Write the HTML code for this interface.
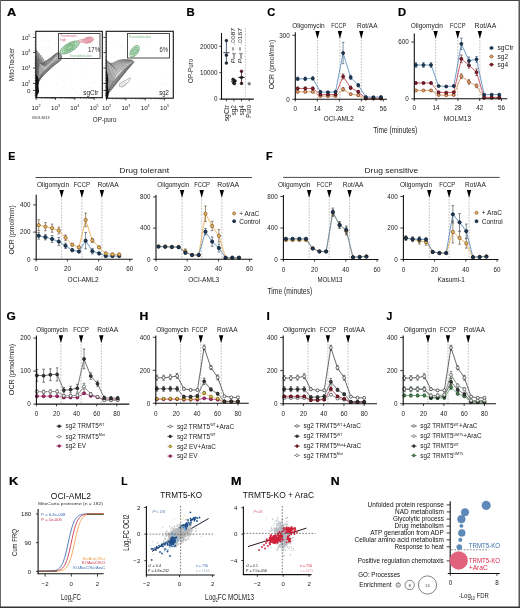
<!DOCTYPE html>
<html><head><meta charset="utf-8"><style>
html,body{margin:0;padding:0;background:#fff;}
svg{display:block;}
#fig{filter:blur(0.35px);}
#bd{position:absolute;left:0;top:0;}
text{font-family:"Liberation Sans", sans-serif;}
</style></head><body>
<svg id="fig" width="520" height="608" viewBox="0 0 520 608">
<rect x="0" y="0" width="520" height="608" fill="#fff"/>
<text x="7.1" y="15.9" font-size="10.5" font-weight="bold" fill="#000" stroke="#000" stroke-width="0.2" textLength="9.2" lengthAdjust="spacingAndGlyphs">A</text>
<text x="186.5" y="16.2" font-size="10.5" font-weight="bold" fill="#000" stroke="#000" stroke-width="0.2" textLength="8.2" lengthAdjust="spacingAndGlyphs">B</text>
<text x="267.3" y="16.2" font-size="10.5" font-weight="bold" fill="#000" stroke="#000" stroke-width="0.2" textLength="8.0" lengthAdjust="spacingAndGlyphs">C</text>
<text x="398.1" y="16.2" font-size="10.5" font-weight="bold" fill="#000" stroke="#000" stroke-width="0.2" textLength="8.1" lengthAdjust="spacingAndGlyphs">D</text>
<text x="8.3" y="159.6" font-size="10.5" font-weight="bold" fill="#000" stroke="#000" stroke-width="0.2" textLength="7.1" lengthAdjust="spacingAndGlyphs">E</text>
<text x="266.1" y="159.6" font-size="10.5" font-weight="bold" fill="#000" stroke="#000" stroke-width="0.2" textLength="6.6" lengthAdjust="spacingAndGlyphs">F</text>
<text x="6.5" y="320.2" font-size="10.5" font-weight="bold" fill="#000" stroke="#000" stroke-width="0.2" textLength="9.3" lengthAdjust="spacingAndGlyphs">G</text>
<text x="139.6" y="320.2" font-size="10.5" font-weight="bold" fill="#000" stroke="#000" stroke-width="0.2" textLength="8.8" lengthAdjust="spacingAndGlyphs">H</text>
<text x="266.6" y="320.2" font-size="10.5" font-weight="bold" fill="#000" stroke="#000" stroke-width="0.2" textLength="3.3" lengthAdjust="spacingAndGlyphs">I</text>
<text x="386.6" y="320.2" font-size="10.5" font-weight="bold" fill="#000" stroke="#000" stroke-width="0.2" textLength="5.8" lengthAdjust="spacingAndGlyphs">J</text>
<text x="9.1" y="484.5" font-size="10.5" font-weight="bold" fill="#000" stroke="#000" stroke-width="0.2" textLength="9.3" lengthAdjust="spacingAndGlyphs">K</text>
<text x="121.2" y="484.5" font-size="10.5" font-weight="bold" fill="#000" stroke="#000" stroke-width="0.2" textLength="6.2" lengthAdjust="spacingAndGlyphs">L</text>
<text x="231.1" y="484.5" font-size="10.5" font-weight="bold" fill="#000" stroke="#000" stroke-width="0.2" textLength="10.5" lengthAdjust="spacingAndGlyphs">M</text>
<text x="330.8" y="484.8" font-size="10.5" font-weight="bold" fill="#000" stroke="#000" stroke-width="0.2" textLength="8.9" lengthAdjust="spacingAndGlyphs">N</text>
<clipPath id="clipa1"><rect x="35.8" y="31.3" width="66.5" height="66.4"/></clipPath>
<g clip-path="url(#clipa1)">
<circle cx="58.04" cy="42.71" r="0.35" fill="#cfcfcf"/>
<circle cx="78.48" cy="37.82" r="0.35" fill="#cfcfcf"/>
<circle cx="71.29" cy="56.12" r="0.35" fill="#cfcfcf"/>
<circle cx="41.42" cy="64.96" r="0.35" fill="#cfcfcf"/>
<circle cx="40.14" cy="60.36" r="0.35" fill="#cfcfcf"/>
<circle cx="42.17" cy="38.96" r="0.35" fill="#cfcfcf"/>
<circle cx="64.33" cy="84.90" r="0.35" fill="#cfcfcf"/>
<circle cx="45.54" cy="47.23" r="0.35" fill="#cfcfcf"/>
<circle cx="77.01" cy="92.44" r="0.35" fill="#cfcfcf"/>
<circle cx="73.87" cy="58.05" r="0.35" fill="#cfcfcf"/>
<circle cx="98.82" cy="36.21" r="0.35" fill="#cfcfcf"/>
<circle cx="91.45" cy="51.37" r="0.35" fill="#cfcfcf"/>
<circle cx="46.82" cy="40.65" r="0.35" fill="#cfcfcf"/>
<circle cx="57.08" cy="84.23" r="0.35" fill="#cfcfcf"/>
<circle cx="49.10" cy="69.59" r="0.35" fill="#cfcfcf"/>
<circle cx="77.73" cy="56.54" r="0.35" fill="#cfcfcf"/>
<circle cx="72.03" cy="37.22" r="0.35" fill="#cfcfcf"/>
<circle cx="41.53" cy="46.15" r="0.35" fill="#cfcfcf"/>
<circle cx="80.32" cy="59.98" r="0.35" fill="#cfcfcf"/>
<circle cx="57.43" cy="69.84" r="0.35" fill="#cfcfcf"/>
<circle cx="66.12" cy="52.01" r="0.35" fill="#cfcfcf"/>
<circle cx="87.45" cy="76.92" r="0.35" fill="#cfcfcf"/>
<circle cx="53.06" cy="69.14" r="0.35" fill="#cfcfcf"/>
<circle cx="70.62" cy="87.91" r="0.35" fill="#cfcfcf"/>
<circle cx="83.39" cy="51.27" r="0.35" fill="#cfcfcf"/>
<circle cx="99.06" cy="40.67" r="0.35" fill="#cfcfcf"/>
<circle cx="63.93" cy="80.55" r="0.35" fill="#cfcfcf"/>
<circle cx="47.30" cy="63.81" r="0.35" fill="#cfcfcf"/>
<circle cx="40.25" cy="75.00" r="0.35" fill="#cfcfcf"/>
<circle cx="85.59" cy="69.06" r="0.35" fill="#cfcfcf"/>
<circle cx="92.52" cy="52.88" r="0.35" fill="#cfcfcf"/>
<circle cx="81.26" cy="70.39" r="0.35" fill="#cfcfcf"/>
<circle cx="74.04" cy="61.77" r="0.35" fill="#cfcfcf"/>
<circle cx="90.30" cy="92.25" r="0.35" fill="#cfcfcf"/>
<circle cx="67.43" cy="74.74" r="0.35" fill="#cfcfcf"/>
<circle cx="41.59" cy="77.07" r="0.35" fill="#cfcfcf"/>
<circle cx="78.25" cy="95.27" r="0.35" fill="#cfcfcf"/>
<circle cx="89.17" cy="51.06" r="0.35" fill="#cfcfcf"/>
<circle cx="61.91" cy="75.02" r="0.35" fill="#cfcfcf"/>
<circle cx="39.21" cy="62.11" r="0.35" fill="#cfcfcf"/>
<circle cx="48.30" cy="40.61" r="0.35" fill="#cfcfcf"/>
<circle cx="41.48" cy="81.24" r="0.35" fill="#cfcfcf"/>
<circle cx="45.88" cy="48.75" r="0.35" fill="#cfcfcf"/>
<circle cx="62.23" cy="87.68" r="0.35" fill="#cfcfcf"/>
<circle cx="42.84" cy="61.33" r="0.35" fill="#cfcfcf"/>
<circle cx="72.14" cy="88.42" r="0.35" fill="#cfcfcf"/>
<circle cx="89.00" cy="87.21" r="0.35" fill="#cfcfcf"/>
<circle cx="55.20" cy="59.21" r="0.35" fill="#cfcfcf"/>
<circle cx="60.22" cy="88.47" r="0.35" fill="#cfcfcf"/>
<circle cx="97.66" cy="42.72" r="0.35" fill="#cfcfcf"/>
<circle cx="48.81" cy="47.77" r="0.35" fill="#cfcfcf"/>
<circle cx="52.38" cy="63.56" r="0.35" fill="#cfcfcf"/>
<circle cx="74.62" cy="49.70" r="0.35" fill="#cfcfcf"/>
<circle cx="38.06" cy="59.44" r="0.35" fill="#cfcfcf"/>
<circle cx="60.88" cy="68.64" r="0.35" fill="#cfcfcf"/>
<circle cx="97.37" cy="76.39" r="0.35" fill="#cfcfcf"/>
<circle cx="70.02" cy="71.84" r="0.35" fill="#cfcfcf"/>
<circle cx="80.06" cy="36.67" r="0.35" fill="#cfcfcf"/>
<circle cx="94.02" cy="81.97" r="0.35" fill="#cfcfcf"/>
<circle cx="92.46" cy="83.09" r="0.35" fill="#cfcfcf"/>
<path d="M35.50,51.50 C35.83,45.92 37.12,54.83 37.80,56.50 C38.48,58.17 39.03,60.32 39.60,61.50 C40.17,62.68 40.30,63.60 41.20,63.60 C42.10,63.60 43.53,62.38 45.00,61.50 C46.47,60.62 48.50,59.38 50.00,58.30 C51.50,57.22 52.75,55.92 54.00,55.00 C55.25,54.08 56.45,53.03 57.50,52.80 C58.55,52.57 59.62,52.90 60.30,53.60 C60.98,54.30 61.52,55.90 61.60,57.00 C61.68,58.10 61.57,59.17 60.80,60.20 C60.03,61.23 58.47,62.03 57.00,63.20 C55.53,64.37 53.67,65.77 52.00,67.20 C50.33,68.63 48.67,70.17 47.00,71.80 C45.33,73.43 43.37,75.38 42.00,77.00 C40.63,78.62 39.63,80.00 38.80,81.50 C37.97,83.00 37.50,84.58 37.00,86.00 C36.50,87.42 36.05,95.75 35.80,90.00 C35.55,84.25 35.17,57.08 35.50,51.50 Z" stroke="none" stroke-width="0" fill="rgba(120,120,120,0.3)"/>
<path d="M35.50,51.50 C35.83,45.92 37.12,54.83 37.80,56.50 C38.48,58.17 39.03,60.32 39.60,61.50 C40.17,62.68 40.30,63.60 41.20,63.60 C42.10,63.60 43.53,62.38 45.00,61.50 C46.47,60.62 48.50,59.38 50.00,58.30 C51.50,57.22 52.75,55.92 54.00,55.00 C55.25,54.08 56.45,53.03 57.50,52.80 C58.55,52.57 59.62,52.90 60.30,53.60 C60.98,54.30 61.52,55.90 61.60,57.00 C61.68,58.10 61.57,59.17 60.80,60.20 C60.03,61.23 58.47,62.03 57.00,63.20 C55.53,64.37 53.67,65.77 52.00,67.20 C50.33,68.63 48.67,70.17 47.00,71.80 C45.33,73.43 43.37,75.38 42.00,77.00 C40.63,78.62 39.63,80.00 38.80,81.50 C37.97,83.00 37.50,84.58 37.00,86.00 C36.50,87.42 36.05,95.75 35.80,90.00 C35.55,84.25 35.17,57.08 35.50,51.50 Z" stroke="rgb(50,50,50)" stroke-width="0.5" fill="none"/>
<path d="M37.15,53.09 C37.62,48.00 38.47,56.13 39.02,57.66 C39.56,59.18 39.95,61.17 40.42,62.25 C40.88,63.33 40.95,64.18 41.79,64.13 C42.63,64.08 44.03,62.86 45.45,61.95 C46.87,61.04 48.83,59.77 50.29,58.67 C51.75,57.57 53.02,56.24 54.20,55.35 C55.38,54.46 56.42,53.56 57.35,53.34 C58.29,53.12 59.21,53.43 59.82,54.04 C60.42,54.66 60.89,56.06 60.96,57.03 C61.03,58.00 60.99,58.88 60.25,59.85 C59.51,60.83 57.97,61.70 56.54,62.88 C55.11,64.05 53.29,65.47 51.66,66.91 C50.03,68.34 48.39,69.87 46.74,71.50 C45.10,73.12 43.11,75.11 41.79,76.65 C40.48,78.19 39.61,79.40 38.85,80.75 C38.10,82.09 37.71,83.46 37.27,84.70 C36.83,85.95 36.23,93.49 36.21,88.22 C36.19,82.95 36.68,58.19 37.15,53.09 Z" stroke="rgb(58,58,58)" stroke-width="0.5" fill="none"/>
<path d="M38.77,54.72 C39.34,50.15 39.81,57.44 40.23,58.82 C40.64,60.19 40.90,62.00 41.26,62.96 C41.63,63.93 41.65,64.71 42.42,64.62 C43.19,64.53 44.54,63.33 45.88,62.42 C47.22,61.50 49.09,60.23 50.48,59.14 C51.87,58.05 53.15,56.72 54.24,55.87 C55.33,55.03 56.21,54.26 57.03,54.06 C57.85,53.86 58.64,54.14 59.16,54.67 C59.67,55.20 60.08,56.41 60.14,57.25 C60.20,58.08 60.22,58.78 59.53,59.69 C58.83,60.59 57.34,61.51 55.97,62.67 C54.60,63.83 52.86,65.23 51.29,66.64 C49.72,68.05 48.14,69.55 46.55,71.13 C44.95,72.72 42.99,74.70 41.74,76.14 C40.50,77.59 39.75,78.63 39.08,79.81 C38.41,80.99 38.09,82.15 37.71,83.22 C37.33,84.30 36.62,91.01 36.80,86.26 C36.98,81.51 38.20,59.29 38.77,54.72 Z" stroke="rgb(67,67,67)" stroke-width="0.5" fill="none"/>
<path d="M40.36,56.38 C41.01,52.35 41.14,58.77 41.44,59.98 C41.73,61.19 41.86,62.80 42.13,63.65 C42.41,64.50 42.38,65.20 43.08,65.08 C43.77,64.95 45.04,63.80 46.29,62.91 C47.54,62.01 49.28,60.76 50.58,59.71 C51.88,58.65 53.12,57.36 54.11,56.57 C55.11,55.78 55.83,55.15 56.53,54.97 C57.24,54.78 57.89,55.03 58.32,55.48 C58.76,55.92 59.10,56.94 59.15,57.65 C59.20,58.35 59.27,58.88 58.63,59.70 C57.98,60.53 56.58,61.46 55.29,62.58 C54.00,63.70 52.37,65.05 50.89,66.41 C49.41,67.76 47.91,69.19 46.41,70.71 C44.90,72.22 43.00,74.14 41.84,75.47 C40.69,76.80 40.06,77.67 39.48,78.68 C38.89,79.70 38.65,80.65 38.33,81.56 C38.01,82.46 37.22,88.31 37.56,84.11 C37.90,79.91 39.71,60.40 40.36,56.38 Z" stroke="rgb(76,76,76)" stroke-width="0.5" fill="none"/>
<path d="M41.92,58.06 C42.61,54.62 42.46,60.10 42.65,61.14 C42.83,62.19 42.85,63.58 43.03,64.31 C43.22,65.03 43.16,65.65 43.77,65.50 C44.38,65.35 45.54,64.27 46.68,63.42 C47.81,62.56 49.39,61.37 50.58,60.37 C51.77,59.38 52.95,58.15 53.83,57.43 C54.71,56.71 55.28,56.22 55.86,56.06 C56.44,55.90 56.96,56.11 57.31,56.47 C57.67,56.83 57.95,57.66 57.99,58.23 C58.03,58.80 58.14,59.18 57.56,59.91 C56.97,60.64 55.68,61.56 54.50,62.61 C53.31,63.66 51.82,64.94 50.46,66.21 C49.10,67.47 47.72,68.81 46.33,70.22 C44.93,71.62 43.14,73.45 42.09,74.64 C41.05,75.84 40.55,76.53 40.05,77.38 C39.56,78.22 39.38,78.97 39.12,79.71 C38.86,80.44 38.03,85.39 38.50,81.78 C38.96,78.17 41.23,61.50 41.92,58.06 Z" stroke="rgb(85,85,85)" stroke-width="0.5" fill="none"/>
<path d="M43.45,59.78 C44.16,56.96 43.77,61.45 43.85,62.31 C43.94,63.17 43.86,64.34 43.96,64.94 C44.07,65.53 43.98,66.05 44.49,65.88 C45.01,65.72 46.05,64.74 47.05,63.95 C48.05,63.16 49.44,62.06 50.49,61.14 C51.55,60.23 52.62,59.10 53.38,58.46 C54.13,57.83 54.56,57.46 55.02,57.33 C55.48,57.19 55.86,57.37 56.13,57.65 C56.40,57.93 56.62,58.56 56.65,59.00 C56.68,59.44 56.82,59.66 56.31,60.29 C55.80,60.92 54.64,61.80 53.59,62.76 C52.54,63.71 51.22,64.88 50.00,66.03 C48.79,67.18 47.56,68.40 46.31,69.66 C45.05,70.93 43.42,72.61 42.50,73.65 C41.58,74.69 41.20,75.22 40.80,75.89 C40.40,76.56 40.28,77.11 40.09,77.68 C39.89,78.24 39.05,82.25 39.61,79.27 C40.17,76.28 42.74,62.61 43.45,59.78 Z" stroke="rgb(93,93,93)" stroke-width="0.5" fill="none"/>
<path d="M44.95,61.53 C45.65,59.35 45.06,62.82 45.05,63.49 C45.05,64.15 44.89,65.08 44.92,65.54 C44.95,65.99 44.84,66.41 45.25,66.23 C45.67,66.06 46.56,65.21 47.40,64.50 C48.24,63.80 49.41,62.82 50.30,62.01 C51.20,61.21 52.15,60.21 52.77,59.67 C53.38,59.13 53.66,58.90 54.00,58.79 C54.33,58.68 54.58,58.81 54.77,59.01 C54.96,59.20 55.11,59.64 55.13,59.95 C55.15,60.26 55.32,60.34 54.89,60.86 C54.47,61.37 53.47,62.18 52.58,63.02 C51.68,63.86 50.56,64.89 49.52,65.89 C48.48,66.90 47.42,67.95 46.34,69.05 C45.27,70.15 43.83,71.64 43.06,72.50 C42.29,73.36 42.03,73.72 41.73,74.21 C41.42,74.71 41.36,75.07 41.23,75.46 C41.09,75.85 40.27,78.89 40.89,76.57 C41.52,74.25 44.26,63.71 44.95,61.53 Z" stroke="rgb(102,102,102)" stroke-width="0.5" fill="none"/>
<path d="M46.43,63.31 C47.08,61.81 46.34,64.20 46.25,64.66 C46.16,65.13 45.94,65.79 45.91,66.10 C45.87,66.42 45.74,66.72 46.05,66.55 C46.35,66.38 47.06,65.67 47.73,65.08 C48.39,64.48 49.31,63.65 50.02,62.98 C50.73,62.31 51.53,61.47 52.00,61.04 C52.46,60.62 52.59,60.51 52.80,60.43 C53.01,60.35 53.13,60.44 53.24,60.55 C53.35,60.66 53.43,60.91 53.44,61.09 C53.45,61.26 53.63,61.22 53.30,61.61 C52.97,61.99 52.17,62.71 51.45,63.40 C50.73,64.10 49.84,64.95 49.00,65.78 C48.17,66.61 47.31,67.47 46.44,68.37 C45.57,69.28 44.37,70.52 43.77,71.18 C43.16,71.85 43.03,72.04 42.82,72.35 C42.62,72.67 42.62,72.84 42.54,73.06 C42.46,73.28 41.71,75.31 42.35,73.69 C43.00,72.06 45.78,64.82 46.43,63.31 Z" stroke="rgb(111,111,111)" stroke-width="0.5" fill="none"/>
<path d="M35.8,97.7 L35.8,74 L37.8,76 L38.8,80 L38.5,86 L39,92 L37.5,95 L37.2,97.7 Z" fill="#111"/><path d="M35.8,74 L35.8,54 L37.6,58 L39.5,64 L39,70 L38.4,76 Z" fill="#6a6a6a"/>
</g>
<path d="M77,44.2 Q80.5,42 83.5,42.3 L83.5,39.3 Q80,39 76.5,41.6 Z" stroke="#c07080" stroke-width="0.4" fill="#f2c8d0"/>
<ellipse cx="88.2" cy="40.1" rx="5.4" ry="2.9" transform="rotate(-14 88.2 40.1)" fill="#f2c2cb" fill-opacity="1" stroke="#c85a70" stroke-width="0.5"/>
<ellipse cx="88.2" cy="40.1" rx="3.6" ry="1.9" transform="rotate(-14 88.2 40.1)" fill="none" fill-opacity="1" stroke="#c85a70" stroke-width="0.45"/>
<ellipse cx="88.2" cy="40.1" rx="1.8" ry="0.9" transform="rotate(-14 88.2 40.1)" fill="none" fill-opacity="1" stroke="#c85a70" stroke-width="0.4"/>
<ellipse cx="69.6" cy="47.5" rx="10.8" ry="4.3" transform="rotate(-30 69.6 47.5)" fill="#d0ead2" fill-opacity="1" stroke="#3f8a4e" stroke-width="0.55"/>
<ellipse cx="69.6" cy="47.5" rx="8.6" ry="3.3" transform="rotate(-30 69.6 47.5)" fill="none" fill-opacity="1" stroke="#3f8a4e" stroke-width="0.45"/>
<ellipse cx="69.6" cy="47.5" rx="6.4" ry="2.4" transform="rotate(-30 69.6 47.5)" fill="#a8d4ac" fill-opacity="1" stroke="#3f8a4e" stroke-width="0.45"/>
<ellipse cx="69.6" cy="47.5" rx="4.0" ry="1.4" transform="rotate(-30 69.6 47.5)" fill="none" fill-opacity="1" stroke="#3f8a4e" stroke-width="0.4"/>
<rect x="58.5" y="33.5" width="41.5" height="25" fill="none" stroke="#3a3a3a" stroke-width="0.9"/>
<text x="60.20" y="37.20" font-size="3.3" fill="#d06a80">Translation-</text>
<text x="60.20" y="40.60" font-size="3.3" fill="#d06a80">high</text>
<text x="69.50" y="57.40" font-size="3.3" fill="#7ab884">Translation-low</text>
<text x="87.90" y="51.70" font-size="6.3" fill="#333" textLength="12.2" lengthAdjust="spacingAndGlyphs">17%</text>
<text x="83.30" y="94.70" font-size="6.3" fill="#222" textLength="15" lengthAdjust="spacingAndGlyphs">sgCtr</text>
<rect x="35.8" y="31.3" width="66.5" height="66.4" fill="none" stroke="#111" stroke-width="1.1"/>
<clipPath id="clipa2"><rect x="106.2" y="31.3" width="67.10000000000001" height="66.9"/></clipPath>
<g clip-path="url(#clipa2)">
<circle cx="132.96" cy="58.40" r="0.35" fill="#cfcfcf"/>
<circle cx="114.73" cy="73.20" r="0.35" fill="#cfcfcf"/>
<circle cx="112.13" cy="37.54" r="0.35" fill="#cfcfcf"/>
<circle cx="121.37" cy="43.51" r="0.35" fill="#cfcfcf"/>
<circle cx="129.66" cy="36.61" r="0.35" fill="#cfcfcf"/>
<circle cx="108.21" cy="42.81" r="0.35" fill="#cfcfcf"/>
<circle cx="114.60" cy="56.17" r="0.35" fill="#cfcfcf"/>
<circle cx="109.81" cy="88.30" r="0.35" fill="#cfcfcf"/>
<circle cx="146.95" cy="42.64" r="0.35" fill="#cfcfcf"/>
<circle cx="124.12" cy="55.15" r="0.35" fill="#cfcfcf"/>
<circle cx="131.18" cy="41.03" r="0.35" fill="#cfcfcf"/>
<circle cx="161.77" cy="95.77" r="0.35" fill="#cfcfcf"/>
<circle cx="137.60" cy="63.73" r="0.35" fill="#cfcfcf"/>
<circle cx="113.62" cy="39.73" r="0.35" fill="#cfcfcf"/>
<circle cx="129.82" cy="49.95" r="0.35" fill="#cfcfcf"/>
<circle cx="160.50" cy="43.45" r="0.35" fill="#cfcfcf"/>
<circle cx="109.66" cy="93.12" r="0.35" fill="#cfcfcf"/>
<circle cx="141.53" cy="42.52" r="0.35" fill="#cfcfcf"/>
<circle cx="142.47" cy="35.00" r="0.35" fill="#cfcfcf"/>
<circle cx="141.52" cy="94.85" r="0.35" fill="#cfcfcf"/>
<circle cx="162.68" cy="77.09" r="0.35" fill="#cfcfcf"/>
<circle cx="124.68" cy="56.37" r="0.35" fill="#cfcfcf"/>
<circle cx="118.74" cy="81.85" r="0.35" fill="#cfcfcf"/>
<circle cx="141.81" cy="82.30" r="0.35" fill="#cfcfcf"/>
<circle cx="129.00" cy="47.33" r="0.35" fill="#cfcfcf"/>
<circle cx="159.41" cy="95.25" r="0.35" fill="#cfcfcf"/>
<circle cx="162.00" cy="84.00" r="0.35" fill="#cfcfcf"/>
<circle cx="159.84" cy="79.84" r="0.35" fill="#cfcfcf"/>
<circle cx="122.51" cy="65.86" r="0.35" fill="#cfcfcf"/>
<circle cx="130.64" cy="35.12" r="0.35" fill="#cfcfcf"/>
<circle cx="109.96" cy="50.88" r="0.35" fill="#cfcfcf"/>
<circle cx="124.55" cy="76.86" r="0.35" fill="#cfcfcf"/>
<circle cx="168.56" cy="61.43" r="0.35" fill="#cfcfcf"/>
<circle cx="167.33" cy="95.45" r="0.35" fill="#cfcfcf"/>
<circle cx="168.46" cy="56.24" r="0.35" fill="#cfcfcf"/>
<circle cx="122.11" cy="47.57" r="0.35" fill="#cfcfcf"/>
<circle cx="120.61" cy="46.16" r="0.35" fill="#cfcfcf"/>
<circle cx="147.58" cy="89.93" r="0.35" fill="#cfcfcf"/>
<circle cx="161.23" cy="63.46" r="0.35" fill="#cfcfcf"/>
<circle cx="149.40" cy="83.60" r="0.35" fill="#cfcfcf"/>
<circle cx="113.55" cy="74.85" r="0.35" fill="#cfcfcf"/>
<circle cx="165.61" cy="82.51" r="0.35" fill="#cfcfcf"/>
<circle cx="155.53" cy="63.37" r="0.35" fill="#cfcfcf"/>
<circle cx="119.46" cy="82.94" r="0.35" fill="#cfcfcf"/>
<circle cx="129.18" cy="83.67" r="0.35" fill="#cfcfcf"/>
<circle cx="169.51" cy="58.20" r="0.35" fill="#cfcfcf"/>
<circle cx="133.53" cy="92.85" r="0.35" fill="#cfcfcf"/>
<circle cx="153.93" cy="43.99" r="0.35" fill="#cfcfcf"/>
<circle cx="116.22" cy="42.81" r="0.35" fill="#cfcfcf"/>
<circle cx="165.30" cy="84.03" r="0.35" fill="#cfcfcf"/>
<circle cx="117.42" cy="85.29" r="0.35" fill="#cfcfcf"/>
<circle cx="170.06" cy="74.64" r="0.35" fill="#cfcfcf"/>
<circle cx="130.31" cy="67.81" r="0.35" fill="#cfcfcf"/>
<circle cx="116.47" cy="34.20" r="0.35" fill="#cfcfcf"/>
<circle cx="169.46" cy="74.16" r="0.35" fill="#cfcfcf"/>
<circle cx="141.43" cy="92.03" r="0.35" fill="#cfcfcf"/>
<circle cx="135.57" cy="88.13" r="0.35" fill="#cfcfcf"/>
<circle cx="160.33" cy="46.57" r="0.35" fill="#cfcfcf"/>
<circle cx="124.09" cy="51.73" r="0.35" fill="#cfcfcf"/>
<circle cx="123.38" cy="70.19" r="0.35" fill="#cfcfcf"/>
<path d="M106.00,62.50 C106.42,56.70 107.83,63.12 109.00,63.20 C110.17,63.28 111.50,63.45 113.00,63.00 C114.50,62.55 116.20,61.07 118.00,60.50 C119.80,59.93 122.05,59.72 123.80,59.60 C125.55,59.48 127.13,59.70 128.50,59.80 C129.87,59.90 131.12,59.87 132.00,60.20 C132.88,60.53 133.80,61.08 133.80,61.80 C133.80,62.52 132.88,63.38 132.00,64.50 C131.12,65.62 129.83,66.92 128.50,68.50 C127.17,70.08 125.75,71.83 124.00,74.00 C122.25,76.17 120.00,79.00 118.00,81.50 C116.00,84.00 113.58,87.00 112.00,89.00 C110.42,91.00 109.42,92.00 108.50,93.50 C107.58,95.00 106.92,103.17 106.50,98.00 C106.08,92.83 105.58,68.30 106.00,62.50 Z" stroke="none" stroke-width="0" fill="rgba(120,120,120,0.28)"/>
<path d="M106.00,62.50 C106.42,56.70 107.83,63.12 109.00,63.20 C110.17,63.28 111.50,63.45 113.00,63.00 C114.50,62.55 116.20,61.07 118.00,60.50 C119.80,59.93 122.05,59.72 123.80,59.60 C125.55,59.48 127.13,59.70 128.50,59.80 C129.87,59.90 131.12,59.87 132.00,60.20 C132.88,60.53 133.80,61.08 133.80,61.80 C133.80,62.52 132.88,63.38 132.00,64.50 C131.12,65.62 129.83,66.92 128.50,68.50 C127.17,70.08 125.75,71.83 124.00,74.00 C122.25,76.17 120.00,79.00 118.00,81.50 C116.00,84.00 113.58,87.00 112.00,89.00 C110.42,91.00 109.42,92.00 108.50,93.50 C107.58,95.00 106.92,103.17 106.50,98.00 C106.08,92.83 105.58,68.30 106.00,62.50 Z" stroke="rgb(50,50,50)" stroke-width="0.5" fill="none"/>
<path d="M107.37,63.76 C107.94,58.37 109.06,64.25 110.15,64.27 C111.24,64.29 112.48,64.38 113.91,63.88 C115.34,63.38 117.01,61.89 118.73,61.27 C120.44,60.64 122.59,60.30 124.21,60.13 C125.84,59.95 127.24,60.15 128.47,60.23 C129.71,60.31 130.81,60.29 131.60,60.59 C132.39,60.88 133.20,61.38 133.20,62.02 C133.20,62.66 132.44,63.37 131.60,64.43 C130.76,65.48 129.50,66.77 128.18,68.32 C126.86,69.87 125.43,71.61 123.68,73.75 C121.93,75.89 119.68,78.69 117.68,81.15 C115.68,83.62 113.21,86.65 111.68,88.56 C110.16,90.46 109.35,91.26 108.53,92.61 C107.70,93.95 106.93,101.43 106.74,96.62 C106.55,91.82 106.80,69.15 107.37,63.76 Z" stroke="rgb(57,57,57)" stroke-width="0.5" fill="none"/>
<path d="M108.74,65.02 C109.43,60.07 110.28,65.40 111.28,65.37 C112.29,65.33 113.43,65.36 114.78,64.82 C116.12,64.28 117.74,62.81 119.36,62.14 C120.97,61.48 122.99,61.03 124.48,60.81 C125.97,60.59 127.20,60.78 128.29,60.83 C129.39,60.89 130.35,60.89 131.04,61.15 C131.73,61.41 132.45,61.84 132.45,62.40 C132.45,62.97 131.82,63.55 131.04,64.52 C130.25,65.50 129.03,66.76 127.74,68.26 C126.46,69.77 125.05,71.47 123.33,73.55 C121.61,75.63 119.39,78.35 117.42,80.75 C115.45,83.15 112.97,86.14 111.52,87.94 C110.06,89.74 109.44,90.35 108.71,91.54 C107.98,92.73 107.13,99.49 107.14,95.07 C107.14,90.65 108.05,69.97 108.74,65.02 Z" stroke="rgb(65,65,65)" stroke-width="0.5" fill="none"/>
<path d="M110.11,66.29 C110.89,61.81 111.48,66.56 112.40,66.48 C113.31,66.40 114.35,66.37 115.60,65.81 C116.84,65.25 118.38,63.82 119.88,63.13 C121.38,62.44 123.25,61.92 124.60,61.66 C125.94,61.41 127.00,61.57 127.95,61.61 C128.91,61.65 129.72,61.66 130.32,61.88 C130.92,62.11 131.54,62.48 131.54,62.96 C131.54,63.45 131.05,63.90 130.32,64.79 C129.60,65.69 128.43,66.90 127.19,68.33 C125.96,69.77 124.59,71.40 122.93,73.39 C121.26,75.38 119.12,77.98 117.21,80.28 C115.31,82.57 112.86,85.49 111.50,87.16 C110.14,88.83 109.68,89.27 109.05,90.30 C108.41,91.33 107.52,97.35 107.69,93.35 C107.87,89.35 109.32,70.77 110.11,66.29 Z" stroke="rgb(73,73,73)" stroke-width="0.5" fill="none"/>
<path d="M111.47,67.56 C112.31,63.59 112.67,67.73 113.49,67.62 C114.31,67.50 115.23,67.42 116.37,66.85 C117.50,66.29 118.94,64.93 120.30,64.23 C121.67,63.54 123.37,62.95 124.57,62.67 C125.76,62.39 126.64,62.54 127.45,62.56 C128.27,62.58 128.94,62.60 129.45,62.79 C129.95,62.98 130.47,63.29 130.47,63.70 C130.47,64.11 130.10,64.43 129.45,65.24 C128.79,66.04 127.69,67.18 126.53,68.52 C125.37,69.86 124.06,71.41 122.49,73.28 C120.91,75.15 118.87,77.59 117.06,79.75 C115.26,81.91 112.90,84.69 111.64,86.22 C110.39,87.74 110.09,88.02 109.55,88.89 C109.01,89.76 108.09,95.01 108.41,91.46 C108.73,87.90 110.62,71.54 111.47,67.56 Z" stroke="rgb(81,81,81)" stroke-width="0.5" fill="none"/>
<path d="M112.82,68.84 C113.70,65.40 113.85,68.92 114.56,68.77 C115.28,68.63 116.07,68.50 117.09,67.95 C118.10,67.39 119.41,66.13 120.63,65.44 C121.84,64.76 123.36,64.14 124.39,63.85 C125.42,63.55 126.13,63.68 126.80,63.68 C127.47,63.68 128.01,63.71 128.41,63.87 C128.82,64.02 129.25,64.27 129.25,64.61 C129.25,64.94 129.00,65.15 128.41,65.85 C127.83,66.56 126.83,67.61 125.76,68.84 C124.69,70.07 123.47,71.50 122.00,73.22 C120.54,74.94 118.65,77.18 116.97,79.16 C115.29,81.14 113.06,83.74 111.94,85.10 C110.81,86.46 110.65,86.59 110.20,87.31 C109.76,88.02 108.84,92.47 109.28,89.39 C109.72,86.31 111.94,72.28 112.82,68.84 Z" stroke="rgb(88,88,88)" stroke-width="0.5" fill="none"/>
<path d="M114.17,70.12 C115.06,67.26 115.02,70.12 115.62,69.95 C116.22,69.78 116.89,69.63 117.76,69.10 C118.63,68.56 119.80,67.42 120.85,66.77 C121.90,66.11 123.21,65.48 124.06,65.18 C124.92,64.88 125.45,64.99 125.98,64.98 C126.51,64.97 126.91,65.00 127.22,65.12 C127.54,65.24 127.86,65.43 127.86,65.69 C127.86,65.94 127.72,66.04 127.22,66.64 C126.73,67.24 125.83,68.19 124.87,69.28 C123.91,70.37 122.80,71.66 121.48,73.19 C120.16,74.73 118.45,76.74 116.93,78.51 C115.42,80.28 113.37,82.65 112.38,83.82 C111.40,84.99 111.36,85.00 111.02,85.55 C110.67,86.10 109.78,89.72 110.31,87.15 C110.83,84.58 113.29,72.99 114.17,70.12 Z" stroke="rgb(96,96,96)" stroke-width="0.5" fill="none"/>
<path d="M115.52,71.41 C116.38,69.15 116.18,71.34 116.65,71.15 C117.13,70.97 117.66,70.79 118.38,70.30 C119.10,69.80 120.10,68.80 120.97,68.20 C121.84,67.59 122.92,66.97 123.59,66.68 C124.26,66.38 124.63,66.47 125.01,66.44 C125.39,66.42 125.66,66.46 125.88,66.54 C126.09,66.62 126.32,66.76 126.32,66.94 C126.32,67.12 126.28,67.12 125.88,67.61 C125.47,68.09 124.70,68.91 123.87,69.84 C123.04,70.78 122.07,71.89 120.92,73.22 C119.76,74.54 118.27,76.27 116.95,77.79 C115.63,79.32 113.81,81.40 112.98,82.37 C112.15,83.34 112.24,83.23 111.99,83.62 C111.74,84.01 110.91,86.77 111.50,84.73 C112.08,82.70 114.66,73.67 115.52,71.41 Z" stroke="rgb(104,104,104)" stroke-width="0.5" fill="none"/>
<path d="M116.86,72.70 C117.67,71.07 117.32,72.57 117.67,72.38 C118.02,72.19 118.40,71.99 118.95,71.55 C119.51,71.11 120.32,70.28 120.99,69.74 C121.66,69.21 122.49,68.61 122.97,68.33 C123.45,68.06 123.65,68.12 123.88,68.08 C124.11,68.05 124.25,68.09 124.37,68.14 C124.49,68.19 124.62,68.26 124.62,68.36 C124.62,68.46 124.68,68.38 124.37,68.74 C124.06,69.10 123.43,69.77 122.76,70.53 C122.08,71.29 121.27,72.21 120.31,73.29 C119.36,74.37 118.12,75.78 117.02,77.02 C115.93,78.26 114.38,80.00 113.73,80.75 C113.08,81.50 113.27,81.28 113.12,81.52 C112.97,81.75 112.22,83.62 112.84,82.15 C113.46,80.68 116.06,74.33 116.86,72.70 Z" stroke="rgb(112,112,112)" stroke-width="0.5" fill="none"/>
<path d="M119.5,86.5 Q118.5,83 123,81.5 Q127,80 129.5,78 Q131,77.5 130,79.5 Q128,82.5 125,85.5 Q122,87.8 119.5,86.5 Z" fill="none" stroke="#666" stroke-width="0.5"/>
<path d="M121.5,85.2 Q121.5,83.5 124,82.8 Q126,82.2 126.5,83 Q125.5,84.8 123.5,85.6 Q122,86 121.5,85.2 Z" fill="none" stroke="#888" stroke-width="0.45"/>
<path d="M106.3,98.3 L106.3,70 L107.6,74 L108.2,80 L107.8,86 L108.6,92 L108,98.3 Z" fill="#111"/>
</g>
<ellipse cx="134.6" cy="51.2" rx="6.6" ry="3.6" transform="rotate(-55 134.6 51.2)" fill="#d2ecd4" fill-opacity="1" stroke="#3f8a4e" stroke-width="0.55"/>
<ellipse cx="134.6" cy="51.2" rx="4.5" ry="2.4" transform="rotate(-55 134.6 51.2)" fill="#b4dcb8" fill-opacity="1" stroke="#3f8a4e" stroke-width="0.45"/>
<ellipse cx="134.6" cy="51.2" rx="2.5" ry="1.3" transform="rotate(-55 134.6 51.2)" fill="none" fill-opacity="1" stroke="#3f8a4e" stroke-width="0.4"/>
<rect x="127.5" y="33.5" width="42" height="24.5" fill="none" stroke="#3a3a3a" stroke-width="0.9"/>
<text x="128.60" y="37.60" font-size="3.3" fill="#7ab884">Translation-low</text>
<text x="159.40" y="52.00" font-size="6.3" fill="#333" textLength="8.6" lengthAdjust="spacingAndGlyphs">6%</text>
<text x="159.20" y="94.90" font-size="6.3" fill="#222" textLength="9.6" lengthAdjust="spacingAndGlyphs">sg2</text>
<rect x="106.2" y="31.3" width="67.10000000000001" height="66.9" fill="none" stroke="#111" stroke-width="1.1"/>
<line x1="33.10" y1="37.40" x2="35.80" y2="37.40" stroke="#111" stroke-width="0.8"/>
<line x1="33.10" y1="52.60" x2="35.80" y2="52.60" stroke="#111" stroke-width="0.8"/>
<line x1="33.10" y1="68.00" x2="35.80" y2="68.00" stroke="#111" stroke-width="0.8"/>
<line x1="33.10" y1="83.40" x2="35.80" y2="83.40" stroke="#111" stroke-width="0.8"/>
<line x1="33.10" y1="90.40" x2="35.80" y2="90.40" stroke="#111" stroke-width="0.8"/>
<line x1="34.60" y1="34.00" x2="35.80" y2="34.00" stroke="#111" stroke-width="0.5"/>
<line x1="34.60" y1="42.00" x2="35.80" y2="42.00" stroke="#111" stroke-width="0.5"/>
<line x1="34.60" y1="45.00" x2="35.80" y2="45.00" stroke="#111" stroke-width="0.5"/>
<line x1="34.60" y1="48.00" x2="35.80" y2="48.00" stroke="#111" stroke-width="0.5"/>
<line x1="34.60" y1="50.50" x2="35.80" y2="50.50" stroke="#111" stroke-width="0.5"/>
<line x1="34.60" y1="57.00" x2="35.80" y2="57.00" stroke="#111" stroke-width="0.5"/>
<line x1="34.60" y1="60.00" x2="35.80" y2="60.00" stroke="#111" stroke-width="0.5"/>
<line x1="34.60" y1="63.00" x2="35.80" y2="63.00" stroke="#111" stroke-width="0.5"/>
<line x1="34.60" y1="65.50" x2="35.80" y2="65.50" stroke="#111" stroke-width="0.5"/>
<line x1="34.60" y1="72.00" x2="35.80" y2="72.00" stroke="#111" stroke-width="0.5"/>
<line x1="34.60" y1="75.00" x2="35.80" y2="75.00" stroke="#111" stroke-width="0.5"/>
<line x1="34.60" y1="78.00" x2="35.80" y2="78.00" stroke="#111" stroke-width="0.5"/>
<line x1="34.60" y1="80.50" x2="35.80" y2="80.50" stroke="#111" stroke-width="0.5"/>
<line x1="34.60" y1="87.00" x2="35.80" y2="87.00" stroke="#111" stroke-width="0.5"/>
<line x1="34.60" y1="93.50" x2="35.80" y2="93.50" stroke="#111" stroke-width="0.5"/>
<line x1="34.60" y1="95.50" x2="35.80" y2="95.50" stroke="#111" stroke-width="0.5"/>
<line x1="36.10" y1="97.70" x2="36.10" y2="99.90" stroke="#111" stroke-width="0.8"/>
<line x1="55.50" y1="97.70" x2="55.50" y2="99.90" stroke="#111" stroke-width="0.8"/>
<line x1="74.80" y1="97.70" x2="74.80" y2="99.90" stroke="#111" stroke-width="0.8"/>
<line x1="94.20" y1="97.70" x2="94.20" y2="99.90" stroke="#111" stroke-width="0.8"/>
<line x1="41.92" y1="97.70" x2="41.92" y2="98.90" stroke="#111" stroke-width="0.45"/>
<line x1="45.41" y1="97.70" x2="45.41" y2="98.90" stroke="#111" stroke-width="0.45"/>
<line x1="47.74" y1="97.70" x2="47.74" y2="98.90" stroke="#111" stroke-width="0.45"/>
<line x1="49.68" y1="97.70" x2="49.68" y2="98.90" stroke="#111" stroke-width="0.45"/>
<line x1="51.23" y1="97.70" x2="51.23" y2="98.90" stroke="#111" stroke-width="0.45"/>
<line x1="52.59" y1="97.70" x2="52.59" y2="98.90" stroke="#111" stroke-width="0.45"/>
<line x1="53.56" y1="97.70" x2="53.56" y2="98.90" stroke="#111" stroke-width="0.45"/>
<line x1="54.53" y1="97.70" x2="54.53" y2="98.90" stroke="#111" stroke-width="0.45"/>
<line x1="61.29" y1="97.70" x2="61.29" y2="98.90" stroke="#111" stroke-width="0.45"/>
<line x1="64.76" y1="97.70" x2="64.76" y2="98.90" stroke="#111" stroke-width="0.45"/>
<line x1="67.08" y1="97.70" x2="67.08" y2="98.90" stroke="#111" stroke-width="0.45"/>
<line x1="69.01" y1="97.70" x2="69.01" y2="98.90" stroke="#111" stroke-width="0.45"/>
<line x1="70.55" y1="97.70" x2="70.55" y2="98.90" stroke="#111" stroke-width="0.45"/>
<line x1="71.91" y1="97.70" x2="71.91" y2="98.90" stroke="#111" stroke-width="0.45"/>
<line x1="72.87" y1="97.70" x2="72.87" y2="98.90" stroke="#111" stroke-width="0.45"/>
<line x1="73.83" y1="97.70" x2="73.83" y2="98.90" stroke="#111" stroke-width="0.45"/>
<line x1="80.62" y1="97.70" x2="80.62" y2="98.90" stroke="#111" stroke-width="0.45"/>
<line x1="84.11" y1="97.70" x2="84.11" y2="98.90" stroke="#111" stroke-width="0.45"/>
<line x1="86.44" y1="97.70" x2="86.44" y2="98.90" stroke="#111" stroke-width="0.45"/>
<line x1="88.38" y1="97.70" x2="88.38" y2="98.90" stroke="#111" stroke-width="0.45"/>
<line x1="89.93" y1="97.70" x2="89.93" y2="98.90" stroke="#111" stroke-width="0.45"/>
<line x1="91.29" y1="97.70" x2="91.29" y2="98.90" stroke="#111" stroke-width="0.45"/>
<line x1="92.26" y1="97.70" x2="92.26" y2="98.90" stroke="#111" stroke-width="0.45"/>
<line x1="93.23" y1="97.70" x2="93.23" y2="98.90" stroke="#111" stroke-width="0.45"/>
<text x="31.62" y="109.60" font-size="6.2" fill="#222">10<tspan dy="-2.36" font-size="3.72">2</tspan></text>
<text x="51.02" y="109.60" font-size="6.2" fill="#222">10<tspan dy="-2.36" font-size="3.72">3</tspan></text>
<text x="70.32" y="109.60" font-size="6.2" fill="#222">10<tspan dy="-2.36" font-size="3.72">4</tspan></text>
<text x="89.72" y="109.60" font-size="6.2" fill="#222">10<tspan dy="-2.36" font-size="3.72">5</tspan></text>
<line x1="103.50" y1="37.40" x2="106.20" y2="37.40" stroke="#111" stroke-width="0.8"/>
<line x1="103.50" y1="52.60" x2="106.20" y2="52.60" stroke="#111" stroke-width="0.8"/>
<line x1="103.50" y1="68.00" x2="106.20" y2="68.00" stroke="#111" stroke-width="0.8"/>
<line x1="103.50" y1="83.40" x2="106.20" y2="83.40" stroke="#111" stroke-width="0.8"/>
<line x1="103.50" y1="90.40" x2="106.20" y2="90.40" stroke="#111" stroke-width="0.8"/>
<line x1="105.00" y1="34.00" x2="106.20" y2="34.00" stroke="#111" stroke-width="0.5"/>
<line x1="105.00" y1="42.00" x2="106.20" y2="42.00" stroke="#111" stroke-width="0.5"/>
<line x1="105.00" y1="45.00" x2="106.20" y2="45.00" stroke="#111" stroke-width="0.5"/>
<line x1="105.00" y1="48.00" x2="106.20" y2="48.00" stroke="#111" stroke-width="0.5"/>
<line x1="105.00" y1="50.50" x2="106.20" y2="50.50" stroke="#111" stroke-width="0.5"/>
<line x1="105.00" y1="57.00" x2="106.20" y2="57.00" stroke="#111" stroke-width="0.5"/>
<line x1="105.00" y1="60.00" x2="106.20" y2="60.00" stroke="#111" stroke-width="0.5"/>
<line x1="105.00" y1="63.00" x2="106.20" y2="63.00" stroke="#111" stroke-width="0.5"/>
<line x1="105.00" y1="65.50" x2="106.20" y2="65.50" stroke="#111" stroke-width="0.5"/>
<line x1="105.00" y1="72.00" x2="106.20" y2="72.00" stroke="#111" stroke-width="0.5"/>
<line x1="105.00" y1="75.00" x2="106.20" y2="75.00" stroke="#111" stroke-width="0.5"/>
<line x1="105.00" y1="78.00" x2="106.20" y2="78.00" stroke="#111" stroke-width="0.5"/>
<line x1="105.00" y1="80.50" x2="106.20" y2="80.50" stroke="#111" stroke-width="0.5"/>
<line x1="105.00" y1="87.00" x2="106.20" y2="87.00" stroke="#111" stroke-width="0.5"/>
<line x1="105.00" y1="93.50" x2="106.20" y2="93.50" stroke="#111" stroke-width="0.5"/>
<line x1="105.00" y1="95.50" x2="106.20" y2="95.50" stroke="#111" stroke-width="0.5"/>
<line x1="106.50" y1="98.20" x2="106.50" y2="100.40" stroke="#111" stroke-width="0.8"/>
<line x1="125.90" y1="98.20" x2="125.90" y2="100.40" stroke="#111" stroke-width="0.8"/>
<line x1="145.20" y1="98.20" x2="145.20" y2="100.40" stroke="#111" stroke-width="0.8"/>
<line x1="164.60" y1="98.20" x2="164.60" y2="100.40" stroke="#111" stroke-width="0.8"/>
<line x1="112.32" y1="98.20" x2="112.32" y2="99.40" stroke="#111" stroke-width="0.45"/>
<line x1="115.81" y1="98.20" x2="115.81" y2="99.40" stroke="#111" stroke-width="0.45"/>
<line x1="118.14" y1="98.20" x2="118.14" y2="99.40" stroke="#111" stroke-width="0.45"/>
<line x1="120.08" y1="98.20" x2="120.08" y2="99.40" stroke="#111" stroke-width="0.45"/>
<line x1="121.63" y1="98.20" x2="121.63" y2="99.40" stroke="#111" stroke-width="0.45"/>
<line x1="122.99" y1="98.20" x2="122.99" y2="99.40" stroke="#111" stroke-width="0.45"/>
<line x1="123.96" y1="98.20" x2="123.96" y2="99.40" stroke="#111" stroke-width="0.45"/>
<line x1="124.93" y1="98.20" x2="124.93" y2="99.40" stroke="#111" stroke-width="0.45"/>
<line x1="131.69" y1="98.20" x2="131.69" y2="99.40" stroke="#111" stroke-width="0.45"/>
<line x1="135.16" y1="98.20" x2="135.16" y2="99.40" stroke="#111" stroke-width="0.45"/>
<line x1="137.48" y1="98.20" x2="137.48" y2="99.40" stroke="#111" stroke-width="0.45"/>
<line x1="139.41" y1="98.20" x2="139.41" y2="99.40" stroke="#111" stroke-width="0.45"/>
<line x1="140.95" y1="98.20" x2="140.95" y2="99.40" stroke="#111" stroke-width="0.45"/>
<line x1="142.30" y1="98.20" x2="142.30" y2="99.40" stroke="#111" stroke-width="0.45"/>
<line x1="143.27" y1="98.20" x2="143.27" y2="99.40" stroke="#111" stroke-width="0.45"/>
<line x1="144.23" y1="98.20" x2="144.23" y2="99.40" stroke="#111" stroke-width="0.45"/>
<line x1="151.02" y1="98.20" x2="151.02" y2="99.40" stroke="#111" stroke-width="0.45"/>
<line x1="154.51" y1="98.20" x2="154.51" y2="99.40" stroke="#111" stroke-width="0.45"/>
<line x1="156.84" y1="98.20" x2="156.84" y2="99.40" stroke="#111" stroke-width="0.45"/>
<line x1="158.78" y1="98.20" x2="158.78" y2="99.40" stroke="#111" stroke-width="0.45"/>
<line x1="160.33" y1="98.20" x2="160.33" y2="99.40" stroke="#111" stroke-width="0.45"/>
<line x1="161.69" y1="98.20" x2="161.69" y2="99.40" stroke="#111" stroke-width="0.45"/>
<line x1="162.66" y1="98.20" x2="162.66" y2="99.40" stroke="#111" stroke-width="0.45"/>
<line x1="163.63" y1="98.20" x2="163.63" y2="99.40" stroke="#111" stroke-width="0.45"/>
<text x="102.02" y="109.60" font-size="6.2" fill="#222">10<tspan dy="-2.36" font-size="3.72">2</tspan></text>
<text x="121.42" y="109.60" font-size="6.2" fill="#222">10<tspan dy="-2.36" font-size="3.72">3</tspan></text>
<text x="140.72" y="109.60" font-size="6.2" fill="#222">10<tspan dy="-2.36" font-size="3.72">4</tspan></text>
<text x="160.12" y="109.60" font-size="6.2" fill="#222">10<tspan dy="-2.36" font-size="3.72">5</tspan></text>
<text x="21.44" y="39.60" font-size="6.2" fill="#222">10<tspan dy="-2.36" font-size="3.72">5</tspan></text>
<text x="21.44" y="54.80" font-size="6.2" fill="#222">10<tspan dy="-2.36" font-size="3.72">4</tspan></text>
<text x="21.44" y="70.20" font-size="6.2" fill="#222">10<tspan dy="-2.36" font-size="3.72">3</tspan></text>
<text x="21.44" y="85.60" font-size="6.2" fill="#222">10<tspan dy="-2.36" font-size="3.72">2</tspan></text>
<text x="30.40" y="92.60" font-size="6.2" fill="#222" text-anchor="end">0</text>
<text x="14.30" y="64.50" font-size="7.8" fill="#222" text-anchor="middle" textLength="33.3" lengthAdjust="spacingAndGlyphs" transform="rotate(-90 14.3 64.5)">MitoTracker</text>
<text x="32.30" y="119.10" font-size="4.2" fill="#333" textLength="17.3" lengthAdjust="spacingAndGlyphs">MOLM13</text>
<text x="92.80" y="121.80" font-size="7.9" fill="#222" textLength="23.6" lengthAdjust="spacingAndGlyphs">OP-puro</text>
<line x1="221.50" y1="33.00" x2="221.50" y2="99.60" stroke="#111" stroke-width="1.1"/>
<line x1="221.00" y1="99.10" x2="253.80" y2="99.10" stroke="#111" stroke-width="1.1"/>
<line x1="219.30" y1="99.10" x2="221.50" y2="99.10" stroke="#111" stroke-width="0.8"/>
<text x="217.50" y="101.40" font-size="6.3" fill="#222" text-anchor="end">0</text>
<line x1="219.30" y1="72.70" x2="221.50" y2="72.70" stroke="#111" stroke-width="0.8"/>
<text x="217.50" y="75.00" font-size="6.3" fill="#222" text-anchor="end">10000</text>
<line x1="219.30" y1="46.30" x2="221.50" y2="46.30" stroke="#111" stroke-width="0.8"/>
<text x="217.50" y="48.60" font-size="6.3" fill="#222" text-anchor="end">20000</text>
<line x1="245.40" y1="28.00" x2="245.40" y2="99.10" stroke="#999" stroke-width="0.6" stroke-dasharray="1.5,1.3"/>
<line x1="226.40" y1="99.10" x2="226.40" y2="101.30" stroke="#111" stroke-width="0.8"/>
<line x1="233.90" y1="99.10" x2="233.90" y2="101.30" stroke="#111" stroke-width="0.8"/>
<line x1="241.50" y1="99.10" x2="241.50" y2="101.30" stroke="#111" stroke-width="0.8"/>
<line x1="249.20" y1="99.10" x2="249.20" y2="101.30" stroke="#111" stroke-width="0.8"/>
<line x1="226.40" y1="41.00" x2="226.40" y2="63.50" stroke="#2a3f5a" stroke-width="0.8"/>
<line x1="223.40" y1="52.70" x2="229.40" y2="52.70" stroke="#2a3f5a" stroke-width="1"/>
<circle cx="226.40" cy="40.60" r="1.40" fill="#1f2b3a" stroke="#0c121a" stroke-width="0.5"/>
<circle cx="226.40" cy="55.20" r="1.40" fill="#1f2b3a" stroke="#0c121a" stroke-width="0.5"/>
<circle cx="226.40" cy="63.10" r="1.40" fill="#1f2b3a" stroke="#0c121a" stroke-width="0.5"/>
<circle cx="233.10" cy="79.30" r="1.40" fill="#2a2222" stroke="#111" stroke-width="0.5"/>
<circle cx="234.80" cy="80.80" r="1.40" fill="#2a2222" stroke="#111" stroke-width="0.5"/>
<circle cx="233.60" cy="82.90" r="1.40" fill="#2a2222" stroke="#111" stroke-width="0.5"/>
<circle cx="234.50" cy="83.60" r="1.40" fill="#2a2222" stroke="#111" stroke-width="0.5"/>
<line x1="230.90" y1="81.20" x2="236.90" y2="81.20" stroke="#111" stroke-width="0.9"/>
<line x1="241.50" y1="71.50" x2="241.50" y2="83.50" stroke="#5a1a1a" stroke-width="0.8"/>
<line x1="238.50" y1="77.40" x2="244.50" y2="77.40" stroke="#111" stroke-width="1.1"/>
<circle cx="241.50" cy="71.30" r="1.40" fill="#6a1020" stroke="#111" stroke-width="0.5"/>
<circle cx="241.50" cy="77.60" r="1.40" fill="#222" stroke="#111" stroke-width="0.5"/>
<circle cx="241.50" cy="83.40" r="1.40" fill="#3a1010" stroke="#111" stroke-width="0.5"/>
<circle cx="249.20" cy="83.80" r="1.30" fill="#888" stroke="#444" stroke-width="0.5"/>
<text x="228.60" y="105.00" font-size="6.3" fill="#222" text-anchor="end" textLength="16.3" lengthAdjust="spacingAndGlyphs" transform="rotate(-90 228.6 105)">sgCtr</text>
<text x="236.10" y="105.00" font-size="6.3" fill="#222" text-anchor="end" textLength="10.5" lengthAdjust="spacingAndGlyphs" transform="rotate(-90 236.1 105)">sg2</text>
<text x="243.70" y="105.00" font-size="6.3" fill="#222" text-anchor="end" textLength="10.5" lengthAdjust="spacingAndGlyphs" transform="rotate(-90 243.7 105)">sg4</text>
<text x="251.40" y="105.00" font-size="6.3" fill="#222" text-anchor="end" textLength="12.7" lengthAdjust="spacingAndGlyphs" transform="rotate(-90 251.39999999999998 105)">Puro</text>
<text x="235.2" y="45.6" font-size="6.2" fill="#222" text-anchor="middle" transform="rotate(-90 235.2 45.6)" textLength="35.3" lengthAdjust="spacingAndGlyphs"><tspan font-style="italic">P</tspan><tspan font-size="4.2" font-style="italic">adj</tspan> = .0087</text>
<text x="242.4" y="45.6" font-size="6.2" fill="#222" text-anchor="middle" transform="rotate(-90 242.4 45.6)" textLength="35.3" lengthAdjust="spacingAndGlyphs"><tspan font-style="italic">P</tspan><tspan font-size="4.2" font-style="italic">adj</tspan> = .0167</text>
<text x="193.10" y="70.90" font-size="8" fill="#222" text-anchor="middle" textLength="24" lengthAdjust="spacingAndGlyphs" transform="rotate(-90 193.1 70.9)">OP-Puro</text>
<line x1="317.46" y1="37.00" x2="317.46" y2="99.30" stroke="#a0a0a0" stroke-width="0.7" stroke-dasharray="1.6,1.4"/>
<path d="M315.26,31.00 L319.66,31.00 L317.46,38.70 Z" fill="#000"/>
<text x="292.30" y="27.80" font-size="6.3" fill="#1a1a1a" textLength="32.30000000000001" lengthAdjust="spacingAndGlyphs">Oligomycin</text>
<line x1="339.93" y1="37.00" x2="339.93" y2="99.30" stroke="#a0a0a0" stroke-width="0.7" stroke-dasharray="1.6,1.4"/>
<path d="M337.73,31.00 L342.13,31.00 L339.93,38.70 Z" fill="#000"/>
<text x="331.20" y="27.80" font-size="6.3" fill="#1a1a1a" textLength="15.0" lengthAdjust="spacingAndGlyphs">FCCP</text>
<line x1="361.30" y1="37.00" x2="361.30" y2="99.30" stroke="#a0a0a0" stroke-width="0.7" stroke-dasharray="1.6,1.4"/>
<path d="M359.10,31.00 L363.50,31.00 L361.30,38.70 Z" fill="#000"/>
<text x="357.00" y="27.80" font-size="6.3" fill="#1a1a1a" textLength="20.5" lengthAdjust="spacingAndGlyphs">Rot/AA</text>
<path d="M297.66,91.83 L305.23,91.83 L312.81,91.83 L320.38,96.10 L327.95,96.10 L335.53,96.10 L343.10,89.27 L350.68,94.18 L358.25,95.25 L365.83,98.66 L373.40,98.66 L380.97,98.66" stroke="#d98a4a" stroke-width="0.8" fill="none"/>
<path d="M297.66,88.42 L305.23,88.42 L312.81,88.42 L320.38,94.61 L327.95,94.61 L335.53,94.61 L343.10,76.47 L350.68,87.78 L358.25,91.83 L365.83,98.23 L373.40,98.23 L380.97,98.23" stroke="#c23a4a" stroke-width="0.8" fill="none"/>
<path d="M297.66,78.82 L305.23,78.82 L312.81,78.39 L320.38,91.83 L327.95,92.26 L335.53,91.83 L343.10,53.01 L350.68,77.33 L358.25,85.22 L365.83,96.95 L373.40,97.17 L380.97,96.95" stroke="#4f86bd" stroke-width="0.8" fill="none"/>
<line x1="297.66" y1="90.98" x2="297.66" y2="92.69" stroke="#6a4020" stroke-width="0.6"/>
<line x1="296.36" y1="90.98" x2="298.96" y2="90.98" stroke="#6a4020" stroke-width="0.6"/>
<line x1="296.36" y1="92.69" x2="298.96" y2="92.69" stroke="#6a4020" stroke-width="0.6"/>
<line x1="305.23" y1="90.98" x2="305.23" y2="92.69" stroke="#6a4020" stroke-width="0.6"/>
<line x1="303.93" y1="90.98" x2="306.53" y2="90.98" stroke="#6a4020" stroke-width="0.6"/>
<line x1="303.93" y1="92.69" x2="306.53" y2="92.69" stroke="#6a4020" stroke-width="0.6"/>
<line x1="312.81" y1="90.98" x2="312.81" y2="92.69" stroke="#6a4020" stroke-width="0.6"/>
<line x1="311.51" y1="90.98" x2="314.11" y2="90.98" stroke="#6a4020" stroke-width="0.6"/>
<line x1="311.51" y1="92.69" x2="314.11" y2="92.69" stroke="#6a4020" stroke-width="0.6"/>
<line x1="320.38" y1="95.67" x2="320.38" y2="96.53" stroke="#6a4020" stroke-width="0.6"/>
<line x1="319.08" y1="95.67" x2="321.68" y2="95.67" stroke="#6a4020" stroke-width="0.6"/>
<line x1="319.08" y1="96.53" x2="321.68" y2="96.53" stroke="#6a4020" stroke-width="0.6"/>
<line x1="327.95" y1="95.67" x2="327.95" y2="96.53" stroke="#6a4020" stroke-width="0.6"/>
<line x1="326.65" y1="95.67" x2="329.25" y2="95.67" stroke="#6a4020" stroke-width="0.6"/>
<line x1="326.65" y1="96.53" x2="329.25" y2="96.53" stroke="#6a4020" stroke-width="0.6"/>
<line x1="335.53" y1="95.67" x2="335.53" y2="96.53" stroke="#6a4020" stroke-width="0.6"/>
<line x1="334.23" y1="95.67" x2="336.83" y2="95.67" stroke="#6a4020" stroke-width="0.6"/>
<line x1="334.23" y1="96.53" x2="336.83" y2="96.53" stroke="#6a4020" stroke-width="0.6"/>
<line x1="343.10" y1="87.57" x2="343.10" y2="90.98" stroke="#6a4020" stroke-width="0.6"/>
<line x1="341.80" y1="87.57" x2="344.40" y2="87.57" stroke="#6a4020" stroke-width="0.6"/>
<line x1="341.80" y1="90.98" x2="344.40" y2="90.98" stroke="#6a4020" stroke-width="0.6"/>
<line x1="350.68" y1="93.33" x2="350.68" y2="95.03" stroke="#6a4020" stroke-width="0.6"/>
<line x1="349.38" y1="93.33" x2="351.98" y2="93.33" stroke="#6a4020" stroke-width="0.6"/>
<line x1="349.38" y1="95.03" x2="351.98" y2="95.03" stroke="#6a4020" stroke-width="0.6"/>
<line x1="358.25" y1="94.39" x2="358.25" y2="96.10" stroke="#6a4020" stroke-width="0.6"/>
<line x1="356.95" y1="94.39" x2="359.55" y2="94.39" stroke="#6a4020" stroke-width="0.6"/>
<line x1="356.95" y1="96.10" x2="359.55" y2="96.10" stroke="#6a4020" stroke-width="0.6"/>
<line x1="365.83" y1="98.45" x2="365.83" y2="98.87" stroke="#6a4020" stroke-width="0.6"/>
<line x1="364.53" y1="98.45" x2="367.13" y2="98.45" stroke="#6a4020" stroke-width="0.6"/>
<line x1="364.53" y1="98.87" x2="367.13" y2="98.87" stroke="#6a4020" stroke-width="0.6"/>
<line x1="373.40" y1="98.45" x2="373.40" y2="98.87" stroke="#6a4020" stroke-width="0.6"/>
<line x1="372.10" y1="98.45" x2="374.70" y2="98.45" stroke="#6a4020" stroke-width="0.6"/>
<line x1="372.10" y1="98.87" x2="374.70" y2="98.87" stroke="#6a4020" stroke-width="0.6"/>
<line x1="380.97" y1="98.45" x2="380.97" y2="98.87" stroke="#6a4020" stroke-width="0.6"/>
<line x1="379.67" y1="98.45" x2="382.27" y2="98.45" stroke="#6a4020" stroke-width="0.6"/>
<line x1="379.67" y1="98.87" x2="382.27" y2="98.87" stroke="#6a4020" stroke-width="0.6"/>
<circle cx="297.66" cy="91.83" r="1.50" fill="#e8a878" stroke="#7a3a18" stroke-width="0.7"/>
<circle cx="305.23" cy="91.83" r="1.50" fill="#e8a878" stroke="#7a3a18" stroke-width="0.7"/>
<circle cx="312.81" cy="91.83" r="1.50" fill="#e8a878" stroke="#7a3a18" stroke-width="0.7"/>
<circle cx="320.38" cy="96.10" r="1.50" fill="#e8a878" stroke="#7a3a18" stroke-width="0.7"/>
<circle cx="327.95" cy="96.10" r="1.50" fill="#e8a878" stroke="#7a3a18" stroke-width="0.7"/>
<circle cx="335.53" cy="96.10" r="1.50" fill="#e8a878" stroke="#7a3a18" stroke-width="0.7"/>
<circle cx="343.10" cy="89.27" r="1.50" fill="#e8a878" stroke="#7a3a18" stroke-width="0.7"/>
<circle cx="350.68" cy="94.18" r="1.50" fill="#e8a878" stroke="#7a3a18" stroke-width="0.7"/>
<circle cx="358.25" cy="95.25" r="1.50" fill="#e8a878" stroke="#7a3a18" stroke-width="0.7"/>
<circle cx="365.83" cy="98.66" r="1.50" fill="#e8a878" stroke="#7a3a18" stroke-width="0.7"/>
<circle cx="373.40" cy="98.66" r="1.50" fill="#e8a878" stroke="#7a3a18" stroke-width="0.7"/>
<circle cx="380.97" cy="98.66" r="1.50" fill="#e8a878" stroke="#7a3a18" stroke-width="0.7"/>
<line x1="297.66" y1="87.14" x2="297.66" y2="89.70" stroke="#5a1a20" stroke-width="0.6"/>
<line x1="296.36" y1="87.14" x2="298.96" y2="87.14" stroke="#5a1a20" stroke-width="0.6"/>
<line x1="296.36" y1="89.70" x2="298.96" y2="89.70" stroke="#5a1a20" stroke-width="0.6"/>
<line x1="305.23" y1="87.14" x2="305.23" y2="89.70" stroke="#5a1a20" stroke-width="0.6"/>
<line x1="303.93" y1="87.14" x2="306.53" y2="87.14" stroke="#5a1a20" stroke-width="0.6"/>
<line x1="303.93" y1="89.70" x2="306.53" y2="89.70" stroke="#5a1a20" stroke-width="0.6"/>
<line x1="312.81" y1="87.14" x2="312.81" y2="89.70" stroke="#5a1a20" stroke-width="0.6"/>
<line x1="311.51" y1="87.14" x2="314.11" y2="87.14" stroke="#5a1a20" stroke-width="0.6"/>
<line x1="311.51" y1="89.70" x2="314.11" y2="89.70" stroke="#5a1a20" stroke-width="0.6"/>
<line x1="320.38" y1="93.97" x2="320.38" y2="95.25" stroke="#5a1a20" stroke-width="0.6"/>
<line x1="319.08" y1="93.97" x2="321.68" y2="93.97" stroke="#5a1a20" stroke-width="0.6"/>
<line x1="319.08" y1="95.25" x2="321.68" y2="95.25" stroke="#5a1a20" stroke-width="0.6"/>
<line x1="327.95" y1="93.97" x2="327.95" y2="95.25" stroke="#5a1a20" stroke-width="0.6"/>
<line x1="326.65" y1="93.97" x2="329.25" y2="93.97" stroke="#5a1a20" stroke-width="0.6"/>
<line x1="326.65" y1="95.25" x2="329.25" y2="95.25" stroke="#5a1a20" stroke-width="0.6"/>
<line x1="335.53" y1="93.97" x2="335.53" y2="95.25" stroke="#5a1a20" stroke-width="0.6"/>
<line x1="334.23" y1="93.97" x2="336.83" y2="93.97" stroke="#5a1a20" stroke-width="0.6"/>
<line x1="334.23" y1="95.25" x2="336.83" y2="95.25" stroke="#5a1a20" stroke-width="0.6"/>
<line x1="343.10" y1="73.91" x2="343.10" y2="79.03" stroke="#5a1a20" stroke-width="0.6"/>
<line x1="341.80" y1="73.91" x2="344.40" y2="73.91" stroke="#5a1a20" stroke-width="0.6"/>
<line x1="341.80" y1="79.03" x2="344.40" y2="79.03" stroke="#5a1a20" stroke-width="0.6"/>
<line x1="350.68" y1="86.07" x2="350.68" y2="89.49" stroke="#5a1a20" stroke-width="0.6"/>
<line x1="349.38" y1="86.07" x2="351.98" y2="86.07" stroke="#5a1a20" stroke-width="0.6"/>
<line x1="349.38" y1="89.49" x2="351.98" y2="89.49" stroke="#5a1a20" stroke-width="0.6"/>
<line x1="358.25" y1="90.55" x2="358.25" y2="93.11" stroke="#5a1a20" stroke-width="0.6"/>
<line x1="356.95" y1="90.55" x2="359.55" y2="90.55" stroke="#5a1a20" stroke-width="0.6"/>
<line x1="356.95" y1="93.11" x2="359.55" y2="93.11" stroke="#5a1a20" stroke-width="0.6"/>
<line x1="365.83" y1="97.81" x2="365.83" y2="98.66" stroke="#5a1a20" stroke-width="0.6"/>
<line x1="364.53" y1="97.81" x2="367.13" y2="97.81" stroke="#5a1a20" stroke-width="0.6"/>
<line x1="364.53" y1="98.66" x2="367.13" y2="98.66" stroke="#5a1a20" stroke-width="0.6"/>
<line x1="373.40" y1="97.81" x2="373.40" y2="98.66" stroke="#5a1a20" stroke-width="0.6"/>
<line x1="372.10" y1="97.81" x2="374.70" y2="97.81" stroke="#5a1a20" stroke-width="0.6"/>
<line x1="372.10" y1="98.66" x2="374.70" y2="98.66" stroke="#5a1a20" stroke-width="0.6"/>
<line x1="380.97" y1="97.81" x2="380.97" y2="98.66" stroke="#5a1a20" stroke-width="0.6"/>
<line x1="379.67" y1="97.81" x2="382.27" y2="97.81" stroke="#5a1a20" stroke-width="0.6"/>
<line x1="379.67" y1="98.66" x2="382.27" y2="98.66" stroke="#5a1a20" stroke-width="0.6"/>
<circle cx="297.66" cy="88.42" r="1.50" fill="#8b1c2c" stroke="#3a0a10" stroke-width="0.7"/>
<circle cx="305.23" cy="88.42" r="1.50" fill="#8b1c2c" stroke="#3a0a10" stroke-width="0.7"/>
<circle cx="312.81" cy="88.42" r="1.50" fill="#8b1c2c" stroke="#3a0a10" stroke-width="0.7"/>
<circle cx="320.38" cy="94.61" r="1.50" fill="#8b1c2c" stroke="#3a0a10" stroke-width="0.7"/>
<circle cx="327.95" cy="94.61" r="1.50" fill="#8b1c2c" stroke="#3a0a10" stroke-width="0.7"/>
<circle cx="335.53" cy="94.61" r="1.50" fill="#8b1c2c" stroke="#3a0a10" stroke-width="0.7"/>
<circle cx="343.10" cy="76.47" r="1.50" fill="#8b1c2c" stroke="#3a0a10" stroke-width="0.7"/>
<circle cx="350.68" cy="87.78" r="1.50" fill="#8b1c2c" stroke="#3a0a10" stroke-width="0.7"/>
<circle cx="358.25" cy="91.83" r="1.50" fill="#8b1c2c" stroke="#3a0a10" stroke-width="0.7"/>
<circle cx="365.83" cy="98.23" r="1.50" fill="#8b1c2c" stroke="#3a0a10" stroke-width="0.7"/>
<circle cx="373.40" cy="98.23" r="1.50" fill="#8b1c2c" stroke="#3a0a10" stroke-width="0.7"/>
<circle cx="380.97" cy="98.23" r="1.50" fill="#8b1c2c" stroke="#3a0a10" stroke-width="0.7"/>
<line x1="297.66" y1="77.11" x2="297.66" y2="80.53" stroke="#2a4a6a" stroke-width="0.6"/>
<line x1="296.36" y1="77.11" x2="298.96" y2="77.11" stroke="#2a4a6a" stroke-width="0.6"/>
<line x1="296.36" y1="80.53" x2="298.96" y2="80.53" stroke="#2a4a6a" stroke-width="0.6"/>
<line x1="305.23" y1="77.11" x2="305.23" y2="80.53" stroke="#2a4a6a" stroke-width="0.6"/>
<line x1="303.93" y1="77.11" x2="306.53" y2="77.11" stroke="#2a4a6a" stroke-width="0.6"/>
<line x1="303.93" y1="80.53" x2="306.53" y2="80.53" stroke="#2a4a6a" stroke-width="0.6"/>
<line x1="312.81" y1="76.69" x2="312.81" y2="80.10" stroke="#2a4a6a" stroke-width="0.6"/>
<line x1="311.51" y1="76.69" x2="314.11" y2="76.69" stroke="#2a4a6a" stroke-width="0.6"/>
<line x1="311.51" y1="80.10" x2="314.11" y2="80.10" stroke="#2a4a6a" stroke-width="0.6"/>
<line x1="320.38" y1="91.19" x2="320.38" y2="92.47" stroke="#2a4a6a" stroke-width="0.6"/>
<line x1="319.08" y1="91.19" x2="321.68" y2="91.19" stroke="#2a4a6a" stroke-width="0.6"/>
<line x1="319.08" y1="92.47" x2="321.68" y2="92.47" stroke="#2a4a6a" stroke-width="0.6"/>
<line x1="327.95" y1="91.62" x2="327.95" y2="92.90" stroke="#2a4a6a" stroke-width="0.6"/>
<line x1="326.65" y1="91.62" x2="329.25" y2="91.62" stroke="#2a4a6a" stroke-width="0.6"/>
<line x1="326.65" y1="92.90" x2="329.25" y2="92.90" stroke="#2a4a6a" stroke-width="0.6"/>
<line x1="335.53" y1="91.19" x2="335.53" y2="92.47" stroke="#2a4a6a" stroke-width="0.6"/>
<line x1="334.23" y1="91.19" x2="336.83" y2="91.19" stroke="#2a4a6a" stroke-width="0.6"/>
<line x1="334.23" y1="92.47" x2="336.83" y2="92.47" stroke="#2a4a6a" stroke-width="0.6"/>
<line x1="343.10" y1="42.34" x2="343.10" y2="63.67" stroke="#2a4a6a" stroke-width="0.6"/>
<line x1="341.80" y1="42.34" x2="344.40" y2="42.34" stroke="#2a4a6a" stroke-width="0.6"/>
<line x1="341.80" y1="63.67" x2="344.40" y2="63.67" stroke="#2a4a6a" stroke-width="0.6"/>
<line x1="350.68" y1="75.19" x2="350.68" y2="79.46" stroke="#2a4a6a" stroke-width="0.6"/>
<line x1="349.38" y1="75.19" x2="351.98" y2="75.19" stroke="#2a4a6a" stroke-width="0.6"/>
<line x1="349.38" y1="79.46" x2="351.98" y2="79.46" stroke="#2a4a6a" stroke-width="0.6"/>
<line x1="358.25" y1="83.51" x2="358.25" y2="86.93" stroke="#2a4a6a" stroke-width="0.6"/>
<line x1="356.95" y1="83.51" x2="359.55" y2="83.51" stroke="#2a4a6a" stroke-width="0.6"/>
<line x1="356.95" y1="86.93" x2="359.55" y2="86.93" stroke="#2a4a6a" stroke-width="0.6"/>
<line x1="365.83" y1="96.53" x2="365.83" y2="97.38" stroke="#2a4a6a" stroke-width="0.6"/>
<line x1="364.53" y1="96.53" x2="367.13" y2="96.53" stroke="#2a4a6a" stroke-width="0.6"/>
<line x1="364.53" y1="97.38" x2="367.13" y2="97.38" stroke="#2a4a6a" stroke-width="0.6"/>
<line x1="373.40" y1="96.74" x2="373.40" y2="97.59" stroke="#2a4a6a" stroke-width="0.6"/>
<line x1="372.10" y1="96.74" x2="374.70" y2="96.74" stroke="#2a4a6a" stroke-width="0.6"/>
<line x1="372.10" y1="97.59" x2="374.70" y2="97.59" stroke="#2a4a6a" stroke-width="0.6"/>
<line x1="380.97" y1="96.53" x2="380.97" y2="97.38" stroke="#2a4a6a" stroke-width="0.6"/>
<line x1="379.67" y1="96.53" x2="382.27" y2="96.53" stroke="#2a4a6a" stroke-width="0.6"/>
<line x1="379.67" y1="97.38" x2="382.27" y2="97.38" stroke="#2a4a6a" stroke-width="0.6"/>
<circle cx="297.66" cy="78.82" r="1.50" fill="#1b3a5c" stroke="#0b1a2a" stroke-width="0.7"/>
<circle cx="305.23" cy="78.82" r="1.50" fill="#1b3a5c" stroke="#0b1a2a" stroke-width="0.7"/>
<circle cx="312.81" cy="78.39" r="1.50" fill="#1b3a5c" stroke="#0b1a2a" stroke-width="0.7"/>
<circle cx="320.38" cy="91.83" r="1.50" fill="#1b3a5c" stroke="#0b1a2a" stroke-width="0.7"/>
<circle cx="327.95" cy="92.26" r="1.50" fill="#1b3a5c" stroke="#0b1a2a" stroke-width="0.7"/>
<circle cx="335.53" cy="91.83" r="1.50" fill="#1b3a5c" stroke="#0b1a2a" stroke-width="0.7"/>
<circle cx="343.10" cy="53.01" r="1.50" fill="#1b3a5c" stroke="#0b1a2a" stroke-width="0.7"/>
<circle cx="350.68" cy="77.33" r="1.50" fill="#1b3a5c" stroke="#0b1a2a" stroke-width="0.7"/>
<circle cx="358.25" cy="85.22" r="1.50" fill="#1b3a5c" stroke="#0b1a2a" stroke-width="0.7"/>
<circle cx="365.83" cy="96.95" r="1.50" fill="#1b3a5c" stroke="#0b1a2a" stroke-width="0.7"/>
<circle cx="373.40" cy="97.17" r="1.50" fill="#1b3a5c" stroke="#0b1a2a" stroke-width="0.7"/>
<circle cx="380.97" cy="96.95" r="1.50" fill="#1b3a5c" stroke="#0b1a2a" stroke-width="0.7"/>
<line x1="295.30" y1="32.30" x2="295.30" y2="99.80" stroke="#111" stroke-width="1.1"/>
<line x1="294.80" y1="99.30" x2="387.00" y2="99.30" stroke="#111" stroke-width="1.1"/>
<line x1="292.30" y1="99.30" x2="295.30" y2="99.30" stroke="#111" stroke-width="0.8"/>
<text x="289.70" y="101.60" font-size="6.3" fill="#222" text-anchor="end">0</text>
<line x1="292.30" y1="35.30" x2="295.30" y2="35.30" stroke="#111" stroke-width="0.8"/>
<text x="289.70" y="37.60" font-size="6.3" fill="#222" text-anchor="end">300</text>
<line x1="295.30" y1="99.30" x2="295.30" y2="101.50" stroke="#111" stroke-width="0.8"/>
<text x="295.30" y="110.60" font-size="6.3" fill="#222" text-anchor="middle">0</text>
<line x1="317.30" y1="99.30" x2="317.30" y2="101.50" stroke="#111" stroke-width="0.8"/>
<text x="317.30" y="110.60" font-size="6.3" fill="#222" text-anchor="middle">14</text>
<line x1="339.30" y1="99.30" x2="339.30" y2="101.50" stroke="#111" stroke-width="0.8"/>
<text x="339.30" y="110.60" font-size="6.3" fill="#222" text-anchor="middle">28</text>
<line x1="361.30" y1="99.30" x2="361.30" y2="101.50" stroke="#111" stroke-width="0.8"/>
<text x="361.30" y="110.60" font-size="6.3" fill="#222" text-anchor="middle">42</text>
<line x1="383.30" y1="99.30" x2="383.30" y2="101.50" stroke="#111" stroke-width="0.8"/>
<text x="383.30" y="110.60" font-size="6.3" fill="#222" text-anchor="middle">56</text>
<text x="323.80" y="121.10" font-size="6.3" fill="#222" textLength="29.9" lengthAdjust="spacingAndGlyphs">OCI-AML2</text>
<text x="274.40" y="64.50" font-size="7" fill="#222" text-anchor="middle" textLength="49.4" lengthAdjust="spacingAndGlyphs" transform="rotate(-90 274.4 64.5)">OCR (pmol/min)</text>
<text x="373.20" y="132.90" font-size="8.3" fill="#222" textLength="44.1" lengthAdjust="spacingAndGlyphs">Time (minutes)</text>
<line x1="435.63" y1="37.00" x2="435.63" y2="98.80" stroke="#a0a0a0" stroke-width="0.7" stroke-dasharray="1.6,1.4"/>
<path d="M433.43,31.00 L437.83,31.00 L435.63,38.70 Z" fill="#000"/>
<text x="410.80" y="27.80" font-size="6.3" fill="#1a1a1a" textLength="32.19999999999999" lengthAdjust="spacingAndGlyphs">Oligomycin</text>
<line x1="457.74" y1="37.00" x2="457.74" y2="98.80" stroke="#a0a0a0" stroke-width="0.7" stroke-dasharray="1.6,1.4"/>
<path d="M455.54,31.00 L459.94,31.00 L457.74,38.70 Z" fill="#000"/>
<text x="450.00" y="27.80" font-size="6.3" fill="#1a1a1a" textLength="15.5" lengthAdjust="spacingAndGlyphs">FCCP</text>
<line x1="479.86" y1="37.00" x2="479.86" y2="98.80" stroke="#a0a0a0" stroke-width="0.7" stroke-dasharray="1.6,1.4"/>
<path d="M477.66,31.00 L482.06,31.00 L479.86,38.70 Z" fill="#000"/>
<text x="474.60" y="27.80" font-size="6.3" fill="#1a1a1a" textLength="21.599999999999966" lengthAdjust="spacingAndGlyphs">Rot/AA</text>
<path d="M415.86,90.47 L423.44,90.47 L431.02,90.47 L438.61,95.01 L446.19,95.20 L453.77,95.01 L461.36,76.17 L468.94,81.95 L476.52,85.83 L484.11,98.04 L491.69,98.04 L499.27,98.04" stroke="#d98a4a" stroke-width="0.8" fill="none"/>
<path d="M415.86,82.99 L423.44,82.99 L431.02,82.99 L438.61,92.27 L446.19,92.65 L453.77,92.27 L461.36,58.85 L468.94,65.29 L476.52,72.20 L484.11,97.38 L491.69,97.38 L499.27,97.38" stroke="#c23a4a" stroke-width="0.8" fill="none"/>
<path d="M415.86,65.00 L423.44,65.00 L431.02,65.00 L438.61,86.02 L446.19,86.49 L453.77,86.02 L461.36,43.80 L468.94,60.74 L476.52,59.32 L484.11,94.63 L491.69,94.63 L499.27,94.63" stroke="#4f86bd" stroke-width="0.8" fill="none"/>
<line x1="415.86" y1="89.71" x2="415.86" y2="91.23" stroke="#6a4020" stroke-width="0.6"/>
<line x1="414.56" y1="89.71" x2="417.16" y2="89.71" stroke="#6a4020" stroke-width="0.6"/>
<line x1="414.56" y1="91.23" x2="417.16" y2="91.23" stroke="#6a4020" stroke-width="0.6"/>
<line x1="423.44" y1="89.71" x2="423.44" y2="91.23" stroke="#6a4020" stroke-width="0.6"/>
<line x1="422.14" y1="89.71" x2="424.74" y2="89.71" stroke="#6a4020" stroke-width="0.6"/>
<line x1="422.14" y1="91.23" x2="424.74" y2="91.23" stroke="#6a4020" stroke-width="0.6"/>
<line x1="431.02" y1="89.71" x2="431.02" y2="91.23" stroke="#6a4020" stroke-width="0.6"/>
<line x1="429.72" y1="89.71" x2="432.32" y2="89.71" stroke="#6a4020" stroke-width="0.6"/>
<line x1="429.72" y1="91.23" x2="432.32" y2="91.23" stroke="#6a4020" stroke-width="0.6"/>
<line x1="438.61" y1="94.54" x2="438.61" y2="95.49" stroke="#6a4020" stroke-width="0.6"/>
<line x1="437.31" y1="94.54" x2="439.91" y2="94.54" stroke="#6a4020" stroke-width="0.6"/>
<line x1="437.31" y1="95.49" x2="439.91" y2="95.49" stroke="#6a4020" stroke-width="0.6"/>
<line x1="446.19" y1="94.73" x2="446.19" y2="95.68" stroke="#6a4020" stroke-width="0.6"/>
<line x1="444.89" y1="94.73" x2="447.49" y2="94.73" stroke="#6a4020" stroke-width="0.6"/>
<line x1="444.89" y1="95.68" x2="447.49" y2="95.68" stroke="#6a4020" stroke-width="0.6"/>
<line x1="453.77" y1="94.54" x2="453.77" y2="95.49" stroke="#6a4020" stroke-width="0.6"/>
<line x1="452.47" y1="94.54" x2="455.07" y2="94.54" stroke="#6a4020" stroke-width="0.6"/>
<line x1="452.47" y1="95.49" x2="455.07" y2="95.49" stroke="#6a4020" stroke-width="0.6"/>
<line x1="461.36" y1="73.81" x2="461.36" y2="78.54" stroke="#6a4020" stroke-width="0.6"/>
<line x1="460.06" y1="73.81" x2="462.66" y2="73.81" stroke="#6a4020" stroke-width="0.6"/>
<line x1="460.06" y1="78.54" x2="462.66" y2="78.54" stroke="#6a4020" stroke-width="0.6"/>
<line x1="468.94" y1="79.58" x2="468.94" y2="84.32" stroke="#6a4020" stroke-width="0.6"/>
<line x1="467.64" y1="79.58" x2="470.24" y2="79.58" stroke="#6a4020" stroke-width="0.6"/>
<line x1="467.64" y1="84.32" x2="470.24" y2="84.32" stroke="#6a4020" stroke-width="0.6"/>
<line x1="476.52" y1="83.94" x2="476.52" y2="87.72" stroke="#6a4020" stroke-width="0.6"/>
<line x1="475.22" y1="83.94" x2="477.82" y2="83.94" stroke="#6a4020" stroke-width="0.6"/>
<line x1="475.22" y1="87.72" x2="477.82" y2="87.72" stroke="#6a4020" stroke-width="0.6"/>
<line x1="484.11" y1="97.76" x2="484.11" y2="98.33" stroke="#6a4020" stroke-width="0.6"/>
<line x1="482.81" y1="97.76" x2="485.41" y2="97.76" stroke="#6a4020" stroke-width="0.6"/>
<line x1="482.81" y1="98.33" x2="485.41" y2="98.33" stroke="#6a4020" stroke-width="0.6"/>
<line x1="491.69" y1="97.76" x2="491.69" y2="98.33" stroke="#6a4020" stroke-width="0.6"/>
<line x1="490.39" y1="97.76" x2="492.99" y2="97.76" stroke="#6a4020" stroke-width="0.6"/>
<line x1="490.39" y1="98.33" x2="492.99" y2="98.33" stroke="#6a4020" stroke-width="0.6"/>
<line x1="499.27" y1="97.76" x2="499.27" y2="98.33" stroke="#6a4020" stroke-width="0.6"/>
<line x1="497.97" y1="97.76" x2="500.57" y2="97.76" stroke="#6a4020" stroke-width="0.6"/>
<line x1="497.97" y1="98.33" x2="500.57" y2="98.33" stroke="#6a4020" stroke-width="0.6"/>
<circle cx="415.86" cy="90.47" r="1.50" fill="#e8a878" stroke="#7a3a18" stroke-width="0.7"/>
<circle cx="423.44" cy="90.47" r="1.50" fill="#e8a878" stroke="#7a3a18" stroke-width="0.7"/>
<circle cx="431.02" cy="90.47" r="1.50" fill="#e8a878" stroke="#7a3a18" stroke-width="0.7"/>
<circle cx="438.61" cy="95.01" r="1.50" fill="#e8a878" stroke="#7a3a18" stroke-width="0.7"/>
<circle cx="446.19" cy="95.20" r="1.50" fill="#e8a878" stroke="#7a3a18" stroke-width="0.7"/>
<circle cx="453.77" cy="95.01" r="1.50" fill="#e8a878" stroke="#7a3a18" stroke-width="0.7"/>
<circle cx="461.36" cy="76.17" r="1.50" fill="#e8a878" stroke="#7a3a18" stroke-width="0.7"/>
<circle cx="468.94" cy="81.95" r="1.50" fill="#e8a878" stroke="#7a3a18" stroke-width="0.7"/>
<circle cx="476.52" cy="85.83" r="1.50" fill="#e8a878" stroke="#7a3a18" stroke-width="0.7"/>
<circle cx="484.11" cy="98.04" r="1.50" fill="#e8a878" stroke="#7a3a18" stroke-width="0.7"/>
<circle cx="491.69" cy="98.04" r="1.50" fill="#e8a878" stroke="#7a3a18" stroke-width="0.7"/>
<circle cx="499.27" cy="98.04" r="1.50" fill="#e8a878" stroke="#7a3a18" stroke-width="0.7"/>
<line x1="415.86" y1="82.04" x2="415.86" y2="83.94" stroke="#5a1a20" stroke-width="0.6"/>
<line x1="414.56" y1="82.04" x2="417.16" y2="82.04" stroke="#5a1a20" stroke-width="0.6"/>
<line x1="414.56" y1="83.94" x2="417.16" y2="83.94" stroke="#5a1a20" stroke-width="0.6"/>
<line x1="423.44" y1="82.04" x2="423.44" y2="83.94" stroke="#5a1a20" stroke-width="0.6"/>
<line x1="422.14" y1="82.04" x2="424.74" y2="82.04" stroke="#5a1a20" stroke-width="0.6"/>
<line x1="422.14" y1="83.94" x2="424.74" y2="83.94" stroke="#5a1a20" stroke-width="0.6"/>
<line x1="431.02" y1="82.04" x2="431.02" y2="83.94" stroke="#5a1a20" stroke-width="0.6"/>
<line x1="429.72" y1="82.04" x2="432.32" y2="82.04" stroke="#5a1a20" stroke-width="0.6"/>
<line x1="429.72" y1="83.94" x2="432.32" y2="83.94" stroke="#5a1a20" stroke-width="0.6"/>
<line x1="438.61" y1="91.51" x2="438.61" y2="93.03" stroke="#5a1a20" stroke-width="0.6"/>
<line x1="437.31" y1="91.51" x2="439.91" y2="91.51" stroke="#5a1a20" stroke-width="0.6"/>
<line x1="437.31" y1="93.03" x2="439.91" y2="93.03" stroke="#5a1a20" stroke-width="0.6"/>
<line x1="446.19" y1="91.89" x2="446.19" y2="93.40" stroke="#5a1a20" stroke-width="0.6"/>
<line x1="444.89" y1="91.89" x2="447.49" y2="91.89" stroke="#5a1a20" stroke-width="0.6"/>
<line x1="444.89" y1="93.40" x2="447.49" y2="93.40" stroke="#5a1a20" stroke-width="0.6"/>
<line x1="453.77" y1="91.51" x2="453.77" y2="93.03" stroke="#5a1a20" stroke-width="0.6"/>
<line x1="452.47" y1="91.51" x2="455.07" y2="91.51" stroke="#5a1a20" stroke-width="0.6"/>
<line x1="452.47" y1="93.03" x2="455.07" y2="93.03" stroke="#5a1a20" stroke-width="0.6"/>
<line x1="461.36" y1="55.06" x2="461.36" y2="62.64" stroke="#5a1a20" stroke-width="0.6"/>
<line x1="460.06" y1="55.06" x2="462.66" y2="55.06" stroke="#5a1a20" stroke-width="0.6"/>
<line x1="460.06" y1="62.64" x2="462.66" y2="62.64" stroke="#5a1a20" stroke-width="0.6"/>
<line x1="468.94" y1="62.45" x2="468.94" y2="68.13" stroke="#5a1a20" stroke-width="0.6"/>
<line x1="467.64" y1="62.45" x2="470.24" y2="62.45" stroke="#5a1a20" stroke-width="0.6"/>
<line x1="467.64" y1="68.13" x2="470.24" y2="68.13" stroke="#5a1a20" stroke-width="0.6"/>
<line x1="476.52" y1="68.89" x2="476.52" y2="75.51" stroke="#5a1a20" stroke-width="0.6"/>
<line x1="475.22" y1="68.89" x2="477.82" y2="68.89" stroke="#5a1a20" stroke-width="0.6"/>
<line x1="475.22" y1="75.51" x2="477.82" y2="75.51" stroke="#5a1a20" stroke-width="0.6"/>
<line x1="484.11" y1="97.00" x2="484.11" y2="97.76" stroke="#5a1a20" stroke-width="0.6"/>
<line x1="482.81" y1="97.00" x2="485.41" y2="97.00" stroke="#5a1a20" stroke-width="0.6"/>
<line x1="482.81" y1="97.76" x2="485.41" y2="97.76" stroke="#5a1a20" stroke-width="0.6"/>
<line x1="491.69" y1="97.00" x2="491.69" y2="97.76" stroke="#5a1a20" stroke-width="0.6"/>
<line x1="490.39" y1="97.00" x2="492.99" y2="97.00" stroke="#5a1a20" stroke-width="0.6"/>
<line x1="490.39" y1="97.76" x2="492.99" y2="97.76" stroke="#5a1a20" stroke-width="0.6"/>
<line x1="499.27" y1="97.00" x2="499.27" y2="97.76" stroke="#5a1a20" stroke-width="0.6"/>
<line x1="497.97" y1="97.00" x2="500.57" y2="97.00" stroke="#5a1a20" stroke-width="0.6"/>
<line x1="497.97" y1="97.76" x2="500.57" y2="97.76" stroke="#5a1a20" stroke-width="0.6"/>
<circle cx="415.86" cy="82.99" r="1.50" fill="#8b1c2c" stroke="#3a0a10" stroke-width="0.7"/>
<circle cx="423.44" cy="82.99" r="1.50" fill="#8b1c2c" stroke="#3a0a10" stroke-width="0.7"/>
<circle cx="431.02" cy="82.99" r="1.50" fill="#8b1c2c" stroke="#3a0a10" stroke-width="0.7"/>
<circle cx="438.61" cy="92.27" r="1.50" fill="#8b1c2c" stroke="#3a0a10" stroke-width="0.7"/>
<circle cx="446.19" cy="92.65" r="1.50" fill="#8b1c2c" stroke="#3a0a10" stroke-width="0.7"/>
<circle cx="453.77" cy="92.27" r="1.50" fill="#8b1c2c" stroke="#3a0a10" stroke-width="0.7"/>
<circle cx="461.36" cy="58.85" r="1.50" fill="#8b1c2c" stroke="#3a0a10" stroke-width="0.7"/>
<circle cx="468.94" cy="65.29" r="1.50" fill="#8b1c2c" stroke="#3a0a10" stroke-width="0.7"/>
<circle cx="476.52" cy="72.20" r="1.50" fill="#8b1c2c" stroke="#3a0a10" stroke-width="0.7"/>
<circle cx="484.11" cy="97.38" r="1.50" fill="#8b1c2c" stroke="#3a0a10" stroke-width="0.7"/>
<circle cx="491.69" cy="97.38" r="1.50" fill="#8b1c2c" stroke="#3a0a10" stroke-width="0.7"/>
<circle cx="499.27" cy="97.38" r="1.50" fill="#8b1c2c" stroke="#3a0a10" stroke-width="0.7"/>
<line x1="415.86" y1="62.64" x2="415.86" y2="67.37" stroke="#2a4a6a" stroke-width="0.6"/>
<line x1="414.56" y1="62.64" x2="417.16" y2="62.64" stroke="#2a4a6a" stroke-width="0.6"/>
<line x1="414.56" y1="67.37" x2="417.16" y2="67.37" stroke="#2a4a6a" stroke-width="0.6"/>
<line x1="423.44" y1="62.64" x2="423.44" y2="67.37" stroke="#2a4a6a" stroke-width="0.6"/>
<line x1="422.14" y1="62.64" x2="424.74" y2="62.64" stroke="#2a4a6a" stroke-width="0.6"/>
<line x1="422.14" y1="67.37" x2="424.74" y2="67.37" stroke="#2a4a6a" stroke-width="0.6"/>
<line x1="431.02" y1="62.64" x2="431.02" y2="67.37" stroke="#2a4a6a" stroke-width="0.6"/>
<line x1="429.72" y1="62.64" x2="432.32" y2="62.64" stroke="#2a4a6a" stroke-width="0.6"/>
<line x1="429.72" y1="67.37" x2="432.32" y2="67.37" stroke="#2a4a6a" stroke-width="0.6"/>
<line x1="438.61" y1="85.26" x2="438.61" y2="86.78" stroke="#2a4a6a" stroke-width="0.6"/>
<line x1="437.31" y1="85.26" x2="439.91" y2="85.26" stroke="#2a4a6a" stroke-width="0.6"/>
<line x1="437.31" y1="86.78" x2="439.91" y2="86.78" stroke="#2a4a6a" stroke-width="0.6"/>
<line x1="446.19" y1="85.74" x2="446.19" y2="87.25" stroke="#2a4a6a" stroke-width="0.6"/>
<line x1="444.89" y1="85.74" x2="447.49" y2="85.74" stroke="#2a4a6a" stroke-width="0.6"/>
<line x1="444.89" y1="87.25" x2="447.49" y2="87.25" stroke="#2a4a6a" stroke-width="0.6"/>
<line x1="453.77" y1="85.26" x2="453.77" y2="86.78" stroke="#2a4a6a" stroke-width="0.6"/>
<line x1="452.47" y1="85.26" x2="455.07" y2="85.26" stroke="#2a4a6a" stroke-width="0.6"/>
<line x1="452.47" y1="86.78" x2="455.07" y2="86.78" stroke="#2a4a6a" stroke-width="0.6"/>
<line x1="461.36" y1="38.12" x2="461.36" y2="49.48" stroke="#2a4a6a" stroke-width="0.6"/>
<line x1="460.06" y1="38.12" x2="462.66" y2="38.12" stroke="#2a4a6a" stroke-width="0.6"/>
<line x1="460.06" y1="49.48" x2="462.66" y2="49.48" stroke="#2a4a6a" stroke-width="0.6"/>
<line x1="468.94" y1="56.96" x2="468.94" y2="64.53" stroke="#2a4a6a" stroke-width="0.6"/>
<line x1="467.64" y1="56.96" x2="470.24" y2="56.96" stroke="#2a4a6a" stroke-width="0.6"/>
<line x1="467.64" y1="64.53" x2="470.24" y2="64.53" stroke="#2a4a6a" stroke-width="0.6"/>
<line x1="476.52" y1="56.48" x2="476.52" y2="62.16" stroke="#2a4a6a" stroke-width="0.6"/>
<line x1="475.22" y1="56.48" x2="477.82" y2="56.48" stroke="#2a4a6a" stroke-width="0.6"/>
<line x1="475.22" y1="62.16" x2="477.82" y2="62.16" stroke="#2a4a6a" stroke-width="0.6"/>
<line x1="484.11" y1="94.07" x2="484.11" y2="95.20" stroke="#2a4a6a" stroke-width="0.6"/>
<line x1="482.81" y1="94.07" x2="485.41" y2="94.07" stroke="#2a4a6a" stroke-width="0.6"/>
<line x1="482.81" y1="95.20" x2="485.41" y2="95.20" stroke="#2a4a6a" stroke-width="0.6"/>
<line x1="491.69" y1="94.07" x2="491.69" y2="95.20" stroke="#2a4a6a" stroke-width="0.6"/>
<line x1="490.39" y1="94.07" x2="492.99" y2="94.07" stroke="#2a4a6a" stroke-width="0.6"/>
<line x1="490.39" y1="95.20" x2="492.99" y2="95.20" stroke="#2a4a6a" stroke-width="0.6"/>
<line x1="499.27" y1="94.07" x2="499.27" y2="95.20" stroke="#2a4a6a" stroke-width="0.6"/>
<line x1="497.97" y1="94.07" x2="500.57" y2="94.07" stroke="#2a4a6a" stroke-width="0.6"/>
<line x1="497.97" y1="95.20" x2="500.57" y2="95.20" stroke="#2a4a6a" stroke-width="0.6"/>
<circle cx="415.86" cy="65.00" r="1.50" fill="#1b3a5c" stroke="#0b1a2a" stroke-width="0.7"/>
<circle cx="423.44" cy="65.00" r="1.50" fill="#1b3a5c" stroke="#0b1a2a" stroke-width="0.7"/>
<circle cx="431.02" cy="65.00" r="1.50" fill="#1b3a5c" stroke="#0b1a2a" stroke-width="0.7"/>
<circle cx="438.61" cy="86.02" r="1.50" fill="#1b3a5c" stroke="#0b1a2a" stroke-width="0.7"/>
<circle cx="446.19" cy="86.49" r="1.50" fill="#1b3a5c" stroke="#0b1a2a" stroke-width="0.7"/>
<circle cx="453.77" cy="86.02" r="1.50" fill="#1b3a5c" stroke="#0b1a2a" stroke-width="0.7"/>
<circle cx="461.36" cy="43.80" r="1.50" fill="#1b3a5c" stroke="#0b1a2a" stroke-width="0.7"/>
<circle cx="468.94" cy="60.74" r="1.50" fill="#1b3a5c" stroke="#0b1a2a" stroke-width="0.7"/>
<circle cx="476.52" cy="59.32" r="1.50" fill="#1b3a5c" stroke="#0b1a2a" stroke-width="0.7"/>
<circle cx="484.11" cy="94.63" r="1.50" fill="#1b3a5c" stroke="#0b1a2a" stroke-width="0.7"/>
<circle cx="491.69" cy="94.63" r="1.50" fill="#1b3a5c" stroke="#0b1a2a" stroke-width="0.7"/>
<circle cx="499.27" cy="94.63" r="1.50" fill="#1b3a5c" stroke="#0b1a2a" stroke-width="0.7"/>
<line x1="414.30" y1="33.50" x2="414.30" y2="99.30" stroke="#111" stroke-width="1.1"/>
<line x1="413.80" y1="98.80" x2="507.30" y2="98.80" stroke="#111" stroke-width="1.1"/>
<line x1="411.30" y1="98.80" x2="414.30" y2="98.80" stroke="#111" stroke-width="0.8"/>
<text x="408.70" y="101.10" font-size="6.3" fill="#222" text-anchor="end">0</text>
<line x1="411.30" y1="42.00" x2="414.30" y2="42.00" stroke="#111" stroke-width="0.8"/>
<text x="408.70" y="44.30" font-size="6.3" fill="#222" text-anchor="end">600</text>
<line x1="414.30" y1="98.80" x2="414.30" y2="101.00" stroke="#111" stroke-width="0.8"/>
<text x="414.30" y="110.40" font-size="6.3" fill="#222" text-anchor="middle">0</text>
<line x1="436.10" y1="98.80" x2="436.10" y2="101.00" stroke="#111" stroke-width="0.8"/>
<text x="436.10" y="110.40" font-size="6.3" fill="#222" text-anchor="middle">14</text>
<line x1="457.90" y1="98.80" x2="457.90" y2="101.00" stroke="#111" stroke-width="0.8"/>
<text x="457.90" y="110.40" font-size="6.3" fill="#222" text-anchor="middle">28</text>
<line x1="479.70" y1="98.80" x2="479.70" y2="101.00" stroke="#111" stroke-width="0.8"/>
<text x="479.70" y="110.40" font-size="6.3" fill="#222" text-anchor="middle">42</text>
<line x1="501.50" y1="98.80" x2="501.50" y2="101.00" stroke="#111" stroke-width="0.8"/>
<text x="501.50" y="110.40" font-size="6.3" fill="#222" text-anchor="middle">56</text>
<text x="443.80" y="120.70" font-size="6.3" fill="#222" textLength="27.3" lengthAdjust="spacingAndGlyphs">MOLM13</text>
<line x1="489.00" y1="48.00" x2="494.00" y2="48.00" stroke="#4f86bd" stroke-width="0.7"/>
<circle cx="491.50" cy="48.00" r="1.45" fill="#1b3a5c" stroke="#0b1a2a" stroke-width="0.7"/>
<text x="497.50" y="50.30" font-size="6.5" fill="#222" textLength="16" lengthAdjust="spacingAndGlyphs">sgCtr</text>
<line x1="489.00" y1="56.50" x2="494.00" y2="56.50" stroke="#d98a4a" stroke-width="0.7"/>
<circle cx="491.50" cy="56.50" r="1.45" fill="#e8a878" stroke="#7a3a18" stroke-width="0.7"/>
<text x="497.50" y="58.80" font-size="6.5" fill="#222" textLength="10.5" lengthAdjust="spacingAndGlyphs">sg2</text>
<line x1="489.00" y1="64.60" x2="494.00" y2="64.60" stroke="#c23a4a" stroke-width="0.7"/>
<circle cx="491.50" cy="64.60" r="1.45" fill="#8b1c2c" stroke="#3a0a10" stroke-width="0.7"/>
<text x="497.50" y="66.90" font-size="6.5" fill="#222" textLength="10.5" lengthAdjust="spacingAndGlyphs">sg4</text>
<line x1="61.63" y1="196.10" x2="61.63" y2="259.30" stroke="#a0a0a0" stroke-width="0.7" stroke-dasharray="1.6,1.4"/>
<path d="M59.43,190.10 L63.83,190.10 L61.63,197.80 Z" fill="#000"/>
<text x="36.90" y="186.80" font-size="6.3" fill="#1a1a1a" textLength="32.300000000000004" lengthAdjust="spacingAndGlyphs">Oligomycin</text>
<line x1="81.91" y1="196.10" x2="81.91" y2="259.30" stroke="#a0a0a0" stroke-width="0.7" stroke-dasharray="1.6,1.4"/>
<path d="M79.71,190.10 L84.11,190.10 L81.91,197.80 Z" fill="#000"/>
<text x="73.70" y="186.80" font-size="6.3" fill="#1a1a1a" textLength="16.299999999999997" lengthAdjust="spacingAndGlyphs">FCCP</text>
<line x1="101.88" y1="196.10" x2="101.88" y2="259.30" stroke="#a0a0a0" stroke-width="0.7" stroke-dasharray="1.6,1.4"/>
<path d="M99.68,190.10 L104.08,190.10 L101.88,197.80 Z" fill="#000"/>
<text x="97.50" y="186.80" font-size="6.3" fill="#1a1a1a" textLength="21.200000000000003" lengthAdjust="spacingAndGlyphs">Rot/AA</text>
<path d="M38.70,235.77 L45.40,237.13 L52.11,239.04 L58.82,241.62 L65.53,245.84 L72.24,250.19 L78.94,251.55 L85.65,240.67 L92.36,251.14 L99.07,253.45 L105.78,256.04 L112.48,256.04 L119.19,256.04" stroke="#4a80b8" stroke-width="0.8" fill="none"/>
<path d="M38.70,225.16 L45.40,226.66 L52.11,228.16 L58.82,230.47 L65.53,237.68 L72.24,244.75 L78.94,247.33 L85.65,219.86 L92.36,240.40 L99.07,247.33 L105.78,253.45 L112.48,254.40 L119.19,254.40" stroke="#eaa848" stroke-width="0.8" fill="none"/>
<line x1="38.70" y1="232.37" x2="38.70" y2="239.17" stroke="#2a3a4a" stroke-width="0.6"/>
<line x1="37.40" y1="232.37" x2="40.00" y2="232.37" stroke="#2a3a4a" stroke-width="0.6"/>
<line x1="37.40" y1="239.17" x2="40.00" y2="239.17" stroke="#2a3a4a" stroke-width="0.6"/>
<line x1="45.40" y1="234.41" x2="45.40" y2="239.85" stroke="#2a3a4a" stroke-width="0.6"/>
<line x1="44.10" y1="234.41" x2="46.70" y2="234.41" stroke="#2a3a4a" stroke-width="0.6"/>
<line x1="44.10" y1="239.85" x2="46.70" y2="239.85" stroke="#2a3a4a" stroke-width="0.6"/>
<line x1="52.11" y1="235.64" x2="52.11" y2="242.44" stroke="#2a3a4a" stroke-width="0.6"/>
<line x1="50.81" y1="235.64" x2="53.41" y2="235.64" stroke="#2a3a4a" stroke-width="0.6"/>
<line x1="50.81" y1="242.44" x2="53.41" y2="242.44" stroke="#2a3a4a" stroke-width="0.6"/>
<line x1="58.82" y1="237.54" x2="58.82" y2="245.70" stroke="#2a3a4a" stroke-width="0.6"/>
<line x1="57.52" y1="237.54" x2="60.12" y2="237.54" stroke="#2a3a4a" stroke-width="0.6"/>
<line x1="57.52" y1="245.70" x2="60.12" y2="245.70" stroke="#2a3a4a" stroke-width="0.6"/>
<line x1="65.53" y1="243.12" x2="65.53" y2="248.56" stroke="#2a3a4a" stroke-width="0.6"/>
<line x1="64.23" y1="243.12" x2="66.83" y2="243.12" stroke="#2a3a4a" stroke-width="0.6"/>
<line x1="64.23" y1="248.56" x2="66.83" y2="248.56" stroke="#2a3a4a" stroke-width="0.6"/>
<line x1="72.24" y1="248.83" x2="72.24" y2="251.55" stroke="#2a3a4a" stroke-width="0.6"/>
<line x1="70.94" y1="248.83" x2="73.54" y2="248.83" stroke="#2a3a4a" stroke-width="0.6"/>
<line x1="70.94" y1="251.55" x2="73.54" y2="251.55" stroke="#2a3a4a" stroke-width="0.6"/>
<line x1="78.94" y1="250.46" x2="78.94" y2="252.64" stroke="#2a3a4a" stroke-width="0.6"/>
<line x1="77.64" y1="250.46" x2="80.24" y2="250.46" stroke="#2a3a4a" stroke-width="0.6"/>
<line x1="77.64" y1="252.64" x2="80.24" y2="252.64" stroke="#2a3a4a" stroke-width="0.6"/>
<line x1="85.65" y1="232.51" x2="85.65" y2="248.83" stroke="#2a3a4a" stroke-width="0.6"/>
<line x1="84.35" y1="232.51" x2="86.95" y2="232.51" stroke="#2a3a4a" stroke-width="0.6"/>
<line x1="84.35" y1="248.83" x2="86.95" y2="248.83" stroke="#2a3a4a" stroke-width="0.6"/>
<line x1="92.36" y1="248.42" x2="92.36" y2="253.86" stroke="#2a3a4a" stroke-width="0.6"/>
<line x1="91.06" y1="248.42" x2="93.66" y2="248.42" stroke="#2a3a4a" stroke-width="0.6"/>
<line x1="91.06" y1="253.86" x2="93.66" y2="253.86" stroke="#2a3a4a" stroke-width="0.6"/>
<line x1="99.07" y1="252.09" x2="99.07" y2="254.81" stroke="#2a3a4a" stroke-width="0.6"/>
<line x1="97.77" y1="252.09" x2="100.37" y2="252.09" stroke="#2a3a4a" stroke-width="0.6"/>
<line x1="97.77" y1="254.81" x2="100.37" y2="254.81" stroke="#2a3a4a" stroke-width="0.6"/>
<line x1="105.78" y1="255.36" x2="105.78" y2="256.72" stroke="#2a3a4a" stroke-width="0.6"/>
<line x1="104.48" y1="255.36" x2="107.08" y2="255.36" stroke="#2a3a4a" stroke-width="0.6"/>
<line x1="104.48" y1="256.72" x2="107.08" y2="256.72" stroke="#2a3a4a" stroke-width="0.6"/>
<line x1="112.48" y1="255.36" x2="112.48" y2="256.72" stroke="#2a3a4a" stroke-width="0.6"/>
<line x1="111.18" y1="255.36" x2="113.78" y2="255.36" stroke="#2a3a4a" stroke-width="0.6"/>
<line x1="111.18" y1="256.72" x2="113.78" y2="256.72" stroke="#2a3a4a" stroke-width="0.6"/>
<line x1="119.19" y1="255.36" x2="119.19" y2="256.72" stroke="#2a3a4a" stroke-width="0.6"/>
<line x1="117.89" y1="255.36" x2="120.49" y2="255.36" stroke="#2a3a4a" stroke-width="0.6"/>
<line x1="117.89" y1="256.72" x2="120.49" y2="256.72" stroke="#2a3a4a" stroke-width="0.6"/>
<circle cx="38.70" cy="235.77" r="1.65" fill="#1d3a5c" stroke="#0a1a2a" stroke-width="0.7"/>
<circle cx="45.40" cy="237.13" r="1.65" fill="#1d3a5c" stroke="#0a1a2a" stroke-width="0.7"/>
<circle cx="52.11" cy="239.04" r="1.65" fill="#1d3a5c" stroke="#0a1a2a" stroke-width="0.7"/>
<circle cx="58.82" cy="241.62" r="1.65" fill="#1d3a5c" stroke="#0a1a2a" stroke-width="0.7"/>
<circle cx="65.53" cy="245.84" r="1.65" fill="#1d3a5c" stroke="#0a1a2a" stroke-width="0.7"/>
<circle cx="72.24" cy="250.19" r="1.65" fill="#1d3a5c" stroke="#0a1a2a" stroke-width="0.7"/>
<circle cx="78.94" cy="251.55" r="1.65" fill="#1d3a5c" stroke="#0a1a2a" stroke-width="0.7"/>
<circle cx="85.65" cy="240.67" r="1.65" fill="#1d3a5c" stroke="#0a1a2a" stroke-width="0.7"/>
<circle cx="92.36" cy="251.14" r="1.65" fill="#1d3a5c" stroke="#0a1a2a" stroke-width="0.7"/>
<circle cx="99.07" cy="253.45" r="1.65" fill="#1d3a5c" stroke="#0a1a2a" stroke-width="0.7"/>
<circle cx="105.78" cy="256.04" r="1.65" fill="#1d3a5c" stroke="#0a1a2a" stroke-width="0.7"/>
<circle cx="112.48" cy="256.04" r="1.65" fill="#1d3a5c" stroke="#0a1a2a" stroke-width="0.7"/>
<circle cx="119.19" cy="256.04" r="1.65" fill="#1d3a5c" stroke="#0a1a2a" stroke-width="0.7"/>
<line x1="38.70" y1="219.72" x2="38.70" y2="230.60" stroke="#5a4020" stroke-width="0.6"/>
<line x1="37.40" y1="219.72" x2="40.00" y2="219.72" stroke="#5a4020" stroke-width="0.6"/>
<line x1="37.40" y1="230.60" x2="40.00" y2="230.60" stroke="#5a4020" stroke-width="0.6"/>
<line x1="45.40" y1="222.58" x2="45.40" y2="230.74" stroke="#5a4020" stroke-width="0.6"/>
<line x1="44.10" y1="222.58" x2="46.70" y2="222.58" stroke="#5a4020" stroke-width="0.6"/>
<line x1="44.10" y1="230.74" x2="46.70" y2="230.74" stroke="#5a4020" stroke-width="0.6"/>
<line x1="52.11" y1="224.08" x2="52.11" y2="232.24" stroke="#5a4020" stroke-width="0.6"/>
<line x1="50.81" y1="224.08" x2="53.41" y2="224.08" stroke="#5a4020" stroke-width="0.6"/>
<line x1="50.81" y1="232.24" x2="53.41" y2="232.24" stroke="#5a4020" stroke-width="0.6"/>
<line x1="58.82" y1="227.07" x2="58.82" y2="233.87" stroke="#5a4020" stroke-width="0.6"/>
<line x1="57.52" y1="227.07" x2="60.12" y2="227.07" stroke="#5a4020" stroke-width="0.6"/>
<line x1="57.52" y1="233.87" x2="60.12" y2="233.87" stroke="#5a4020" stroke-width="0.6"/>
<line x1="65.53" y1="234.96" x2="65.53" y2="240.40" stroke="#5a4020" stroke-width="0.6"/>
<line x1="64.23" y1="234.96" x2="66.83" y2="234.96" stroke="#5a4020" stroke-width="0.6"/>
<line x1="64.23" y1="240.40" x2="66.83" y2="240.40" stroke="#5a4020" stroke-width="0.6"/>
<line x1="72.24" y1="243.39" x2="72.24" y2="246.11" stroke="#5a4020" stroke-width="0.6"/>
<line x1="70.94" y1="243.39" x2="73.54" y2="243.39" stroke="#5a4020" stroke-width="0.6"/>
<line x1="70.94" y1="246.11" x2="73.54" y2="246.11" stroke="#5a4020" stroke-width="0.6"/>
<line x1="78.94" y1="246.24" x2="78.94" y2="248.42" stroke="#5a4020" stroke-width="0.6"/>
<line x1="77.64" y1="246.24" x2="80.24" y2="246.24" stroke="#5a4020" stroke-width="0.6"/>
<line x1="77.64" y1="248.42" x2="80.24" y2="248.42" stroke="#5a4020" stroke-width="0.6"/>
<line x1="85.65" y1="213.06" x2="85.65" y2="226.66" stroke="#5a4020" stroke-width="0.6"/>
<line x1="84.35" y1="213.06" x2="86.95" y2="213.06" stroke="#5a4020" stroke-width="0.6"/>
<line x1="84.35" y1="226.66" x2="86.95" y2="226.66" stroke="#5a4020" stroke-width="0.6"/>
<line x1="92.36" y1="238.36" x2="92.36" y2="242.44" stroke="#5a4020" stroke-width="0.6"/>
<line x1="91.06" y1="238.36" x2="93.66" y2="238.36" stroke="#5a4020" stroke-width="0.6"/>
<line x1="91.06" y1="242.44" x2="93.66" y2="242.44" stroke="#5a4020" stroke-width="0.6"/>
<line x1="99.07" y1="245.97" x2="99.07" y2="248.69" stroke="#5a4020" stroke-width="0.6"/>
<line x1="97.77" y1="245.97" x2="100.37" y2="245.97" stroke="#5a4020" stroke-width="0.6"/>
<line x1="97.77" y1="248.69" x2="100.37" y2="248.69" stroke="#5a4020" stroke-width="0.6"/>
<line x1="105.78" y1="252.36" x2="105.78" y2="254.54" stroke="#5a4020" stroke-width="0.6"/>
<line x1="104.48" y1="252.36" x2="107.08" y2="252.36" stroke="#5a4020" stroke-width="0.6"/>
<line x1="104.48" y1="254.54" x2="107.08" y2="254.54" stroke="#5a4020" stroke-width="0.6"/>
<line x1="112.48" y1="253.32" x2="112.48" y2="255.49" stroke="#5a4020" stroke-width="0.6"/>
<line x1="111.18" y1="253.32" x2="113.78" y2="253.32" stroke="#5a4020" stroke-width="0.6"/>
<line x1="111.18" y1="255.49" x2="113.78" y2="255.49" stroke="#5a4020" stroke-width="0.6"/>
<line x1="119.19" y1="253.32" x2="119.19" y2="255.49" stroke="#5a4020" stroke-width="0.6"/>
<line x1="117.89" y1="253.32" x2="120.49" y2="253.32" stroke="#5a4020" stroke-width="0.6"/>
<line x1="117.89" y1="255.49" x2="120.49" y2="255.49" stroke="#5a4020" stroke-width="0.6"/>
<circle cx="38.70" cy="225.16" r="1.65" fill="#e8b860" stroke="#7a5020" stroke-width="0.7"/>
<circle cx="45.40" cy="226.66" r="1.65" fill="#e8b860" stroke="#7a5020" stroke-width="0.7"/>
<circle cx="52.11" cy="228.16" r="1.65" fill="#e8b860" stroke="#7a5020" stroke-width="0.7"/>
<circle cx="58.82" cy="230.47" r="1.65" fill="#e8b860" stroke="#7a5020" stroke-width="0.7"/>
<circle cx="65.53" cy="237.68" r="1.65" fill="#e8b860" stroke="#7a5020" stroke-width="0.7"/>
<circle cx="72.24" cy="244.75" r="1.65" fill="#e8b860" stroke="#7a5020" stroke-width="0.7"/>
<circle cx="78.94" cy="247.33" r="1.65" fill="#e8b860" stroke="#7a5020" stroke-width="0.7"/>
<circle cx="85.65" cy="219.86" r="1.65" fill="#e8b860" stroke="#7a5020" stroke-width="0.7"/>
<circle cx="92.36" cy="240.40" r="1.65" fill="#e8b860" stroke="#7a5020" stroke-width="0.7"/>
<circle cx="99.07" cy="247.33" r="1.65" fill="#e8b860" stroke="#7a5020" stroke-width="0.7"/>
<circle cx="105.78" cy="253.45" r="1.65" fill="#e8b860" stroke="#7a5020" stroke-width="0.7"/>
<circle cx="112.48" cy="254.40" r="1.65" fill="#e8b860" stroke="#7a5020" stroke-width="0.7"/>
<circle cx="119.19" cy="254.40" r="1.65" fill="#e8b860" stroke="#7a5020" stroke-width="0.7"/>
<line x1="36.20" y1="194.80" x2="36.20" y2="259.80" stroke="#111" stroke-width="1.1"/>
<line x1="35.70" y1="259.30" x2="132.70" y2="259.30" stroke="#111" stroke-width="1.1"/>
<line x1="33.20" y1="259.30" x2="36.20" y2="259.30" stroke="#111" stroke-width="0.8"/>
<text x="30.60" y="261.60" font-size="6.3" fill="#222" text-anchor="end">0</text>
<line x1="33.20" y1="232.10" x2="36.20" y2="232.10" stroke="#111" stroke-width="0.8"/>
<text x="30.60" y="234.40" font-size="6.3" fill="#222" text-anchor="end">200</text>
<line x1="33.20" y1="204.90" x2="36.20" y2="204.90" stroke="#111" stroke-width="0.8"/>
<text x="30.60" y="207.20" font-size="6.3" fill="#222" text-anchor="end">400</text>
<line x1="36.20" y1="259.30" x2="36.20" y2="261.50" stroke="#111" stroke-width="0.8"/>
<text x="36.20" y="271.30" font-size="6.3" fill="#222" text-anchor="middle">0</text>
<line x1="67.40" y1="259.30" x2="67.40" y2="261.50" stroke="#111" stroke-width="0.8"/>
<text x="67.40" y="271.30" font-size="6.3" fill="#222" text-anchor="middle">20</text>
<line x1="98.60" y1="259.30" x2="98.60" y2="261.50" stroke="#111" stroke-width="0.8"/>
<text x="98.60" y="271.30" font-size="6.3" fill="#222" text-anchor="middle">40</text>
<line x1="129.80" y1="259.30" x2="129.80" y2="261.50" stroke="#111" stroke-width="0.8"/>
<text x="129.80" y="271.30" font-size="6.3" fill="#222" text-anchor="middle">60</text>
<line x1="182.05" y1="196.10" x2="182.05" y2="259.30" stroke="#a0a0a0" stroke-width="0.7" stroke-dasharray="1.6,1.4"/>
<path d="M179.85,190.10 L184.25,190.10 L182.05,197.80 Z" fill="#000"/>
<text x="157.30" y="186.80" font-size="6.3" fill="#1a1a1a" textLength="31.899999999999977" lengthAdjust="spacingAndGlyphs">Oligomycin</text>
<line x1="201.71" y1="196.10" x2="201.71" y2="259.30" stroke="#a0a0a0" stroke-width="0.7" stroke-dasharray="1.6,1.4"/>
<path d="M199.51,190.10 L203.91,190.10 L201.71,197.80 Z" fill="#000"/>
<text x="194.20" y="186.80" font-size="6.3" fill="#1a1a1a" textLength="15.800000000000011" lengthAdjust="spacingAndGlyphs">FCCP</text>
<line x1="221.83" y1="196.10" x2="221.83" y2="259.30" stroke="#a0a0a0" stroke-width="0.7" stroke-dasharray="1.6,1.4"/>
<path d="M219.63,190.10 L224.03,190.10 L221.83,197.80 Z" fill="#000"/>
<text x="217.30" y="186.80" font-size="6.3" fill="#1a1a1a" textLength="21.899999999999977" lengthAdjust="spacingAndGlyphs">Rot/AA</text>
<path d="M158.50,246.45 L165.20,246.45 L171.91,246.84 L178.62,246.84 L185.33,251.28 L192.04,255.02 L198.74,255.02 L205.45,213.73 L212.16,225.96 L218.87,235.77 L225.58,257.74 L232.28,257.74 L238.99,257.74" stroke="#eaa848" stroke-width="0.8" fill="none"/>
<path d="M158.50,246.60 L165.20,246.84 L171.91,247.07 L178.62,247.23 L185.33,252.68 L192.04,255.02 L198.74,255.02 L205.45,231.72 L212.16,241.62 L218.87,248.00 L225.58,257.74 L232.28,257.74 L238.99,257.74" stroke="#4a80b8" stroke-width="0.8" fill="none"/>
<line x1="158.50" y1="245.67" x2="158.50" y2="247.23" stroke="#5a4020" stroke-width="0.6"/>
<line x1="157.20" y1="245.67" x2="159.80" y2="245.67" stroke="#5a4020" stroke-width="0.6"/>
<line x1="157.20" y1="247.23" x2="159.80" y2="247.23" stroke="#5a4020" stroke-width="0.6"/>
<line x1="165.20" y1="245.67" x2="165.20" y2="247.23" stroke="#5a4020" stroke-width="0.6"/>
<line x1="163.90" y1="245.67" x2="166.50" y2="245.67" stroke="#5a4020" stroke-width="0.6"/>
<line x1="163.90" y1="247.23" x2="166.50" y2="247.23" stroke="#5a4020" stroke-width="0.6"/>
<line x1="171.91" y1="246.06" x2="171.91" y2="247.62" stroke="#5a4020" stroke-width="0.6"/>
<line x1="170.61" y1="246.06" x2="173.21" y2="246.06" stroke="#5a4020" stroke-width="0.6"/>
<line x1="170.61" y1="247.62" x2="173.21" y2="247.62" stroke="#5a4020" stroke-width="0.6"/>
<line x1="178.62" y1="246.06" x2="178.62" y2="247.62" stroke="#5a4020" stroke-width="0.6"/>
<line x1="177.32" y1="246.06" x2="179.92" y2="246.06" stroke="#5a4020" stroke-width="0.6"/>
<line x1="177.32" y1="247.62" x2="179.92" y2="247.62" stroke="#5a4020" stroke-width="0.6"/>
<line x1="185.33" y1="248.94" x2="185.33" y2="253.61" stroke="#5a4020" stroke-width="0.6"/>
<line x1="184.03" y1="248.94" x2="186.63" y2="248.94" stroke="#5a4020" stroke-width="0.6"/>
<line x1="184.03" y1="253.61" x2="186.63" y2="253.61" stroke="#5a4020" stroke-width="0.6"/>
<line x1="192.04" y1="254.24" x2="192.04" y2="255.79" stroke="#5a4020" stroke-width="0.6"/>
<line x1="190.74" y1="254.24" x2="193.34" y2="254.24" stroke="#5a4020" stroke-width="0.6"/>
<line x1="190.74" y1="255.79" x2="193.34" y2="255.79" stroke="#5a4020" stroke-width="0.6"/>
<line x1="198.74" y1="254.24" x2="198.74" y2="255.79" stroke="#5a4020" stroke-width="0.6"/>
<line x1="197.44" y1="254.24" x2="200.04" y2="254.24" stroke="#5a4020" stroke-width="0.6"/>
<line x1="197.44" y1="255.79" x2="200.04" y2="255.79" stroke="#5a4020" stroke-width="0.6"/>
<line x1="205.45" y1="205.94" x2="205.45" y2="221.52" stroke="#5a4020" stroke-width="0.6"/>
<line x1="204.15" y1="205.94" x2="206.75" y2="205.94" stroke="#5a4020" stroke-width="0.6"/>
<line x1="204.15" y1="221.52" x2="206.75" y2="221.52" stroke="#5a4020" stroke-width="0.6"/>
<line x1="212.16" y1="221.28" x2="212.16" y2="230.63" stroke="#5a4020" stroke-width="0.6"/>
<line x1="210.86" y1="221.28" x2="213.46" y2="221.28" stroke="#5a4020" stroke-width="0.6"/>
<line x1="210.86" y1="230.63" x2="213.46" y2="230.63" stroke="#5a4020" stroke-width="0.6"/>
<line x1="218.87" y1="229.54" x2="218.87" y2="242.01" stroke="#5a4020" stroke-width="0.6"/>
<line x1="217.57" y1="229.54" x2="220.17" y2="229.54" stroke="#5a4020" stroke-width="0.6"/>
<line x1="217.57" y1="242.01" x2="220.17" y2="242.01" stroke="#5a4020" stroke-width="0.6"/>
<line x1="225.58" y1="257.35" x2="225.58" y2="258.13" stroke="#5a4020" stroke-width="0.6"/>
<line x1="224.28" y1="257.35" x2="226.88" y2="257.35" stroke="#5a4020" stroke-width="0.6"/>
<line x1="224.28" y1="258.13" x2="226.88" y2="258.13" stroke="#5a4020" stroke-width="0.6"/>
<line x1="232.28" y1="257.35" x2="232.28" y2="258.13" stroke="#5a4020" stroke-width="0.6"/>
<line x1="230.98" y1="257.35" x2="233.58" y2="257.35" stroke="#5a4020" stroke-width="0.6"/>
<line x1="230.98" y1="258.13" x2="233.58" y2="258.13" stroke="#5a4020" stroke-width="0.6"/>
<line x1="238.99" y1="257.35" x2="238.99" y2="258.13" stroke="#5a4020" stroke-width="0.6"/>
<line x1="237.69" y1="257.35" x2="240.29" y2="257.35" stroke="#5a4020" stroke-width="0.6"/>
<line x1="237.69" y1="258.13" x2="240.29" y2="258.13" stroke="#5a4020" stroke-width="0.6"/>
<circle cx="158.50" cy="246.45" r="1.65" fill="#e8b860" stroke="#7a5020" stroke-width="0.7"/>
<circle cx="165.20" cy="246.45" r="1.65" fill="#e8b860" stroke="#7a5020" stroke-width="0.7"/>
<circle cx="171.91" cy="246.84" r="1.65" fill="#e8b860" stroke="#7a5020" stroke-width="0.7"/>
<circle cx="178.62" cy="246.84" r="1.65" fill="#e8b860" stroke="#7a5020" stroke-width="0.7"/>
<circle cx="185.33" cy="251.28" r="1.65" fill="#e8b860" stroke="#7a5020" stroke-width="0.7"/>
<circle cx="192.04" cy="255.02" r="1.65" fill="#e8b860" stroke="#7a5020" stroke-width="0.7"/>
<circle cx="198.74" cy="255.02" r="1.65" fill="#e8b860" stroke="#7a5020" stroke-width="0.7"/>
<circle cx="205.45" cy="213.73" r="1.65" fill="#e8b860" stroke="#7a5020" stroke-width="0.7"/>
<circle cx="212.16" cy="225.96" r="1.65" fill="#e8b860" stroke="#7a5020" stroke-width="0.7"/>
<circle cx="218.87" cy="235.77" r="1.65" fill="#e8b860" stroke="#7a5020" stroke-width="0.7"/>
<circle cx="225.58" cy="257.74" r="1.65" fill="#e8b860" stroke="#7a5020" stroke-width="0.7"/>
<circle cx="232.28" cy="257.74" r="1.65" fill="#e8b860" stroke="#7a5020" stroke-width="0.7"/>
<circle cx="238.99" cy="257.74" r="1.65" fill="#e8b860" stroke="#7a5020" stroke-width="0.7"/>
<line x1="158.50" y1="245.82" x2="158.50" y2="247.38" stroke="#2a3a4a" stroke-width="0.6"/>
<line x1="157.20" y1="245.82" x2="159.80" y2="245.82" stroke="#2a3a4a" stroke-width="0.6"/>
<line x1="157.20" y1="247.38" x2="159.80" y2="247.38" stroke="#2a3a4a" stroke-width="0.6"/>
<line x1="165.20" y1="246.06" x2="165.20" y2="247.62" stroke="#2a3a4a" stroke-width="0.6"/>
<line x1="163.90" y1="246.06" x2="166.50" y2="246.06" stroke="#2a3a4a" stroke-width="0.6"/>
<line x1="163.90" y1="247.62" x2="166.50" y2="247.62" stroke="#2a3a4a" stroke-width="0.6"/>
<line x1="171.91" y1="246.29" x2="171.91" y2="247.85" stroke="#2a3a4a" stroke-width="0.6"/>
<line x1="170.61" y1="246.29" x2="173.21" y2="246.29" stroke="#2a3a4a" stroke-width="0.6"/>
<line x1="170.61" y1="247.85" x2="173.21" y2="247.85" stroke="#2a3a4a" stroke-width="0.6"/>
<line x1="178.62" y1="246.45" x2="178.62" y2="248.00" stroke="#2a3a4a" stroke-width="0.6"/>
<line x1="177.32" y1="246.45" x2="179.92" y2="246.45" stroke="#2a3a4a" stroke-width="0.6"/>
<line x1="177.32" y1="248.00" x2="179.92" y2="248.00" stroke="#2a3a4a" stroke-width="0.6"/>
<line x1="185.33" y1="251.12" x2="185.33" y2="254.24" stroke="#2a3a4a" stroke-width="0.6"/>
<line x1="184.03" y1="251.12" x2="186.63" y2="251.12" stroke="#2a3a4a" stroke-width="0.6"/>
<line x1="184.03" y1="254.24" x2="186.63" y2="254.24" stroke="#2a3a4a" stroke-width="0.6"/>
<line x1="192.04" y1="254.24" x2="192.04" y2="255.79" stroke="#2a3a4a" stroke-width="0.6"/>
<line x1="190.74" y1="254.24" x2="193.34" y2="254.24" stroke="#2a3a4a" stroke-width="0.6"/>
<line x1="190.74" y1="255.79" x2="193.34" y2="255.79" stroke="#2a3a4a" stroke-width="0.6"/>
<line x1="198.74" y1="254.24" x2="198.74" y2="255.79" stroke="#2a3a4a" stroke-width="0.6"/>
<line x1="197.44" y1="254.24" x2="200.04" y2="254.24" stroke="#2a3a4a" stroke-width="0.6"/>
<line x1="197.44" y1="255.79" x2="200.04" y2="255.79" stroke="#2a3a4a" stroke-width="0.6"/>
<line x1="205.45" y1="228.61" x2="205.45" y2="234.84" stroke="#2a3a4a" stroke-width="0.6"/>
<line x1="204.15" y1="228.61" x2="206.75" y2="228.61" stroke="#2a3a4a" stroke-width="0.6"/>
<line x1="204.15" y1="234.84" x2="206.75" y2="234.84" stroke="#2a3a4a" stroke-width="0.6"/>
<line x1="212.16" y1="236.94" x2="212.16" y2="246.29" stroke="#2a3a4a" stroke-width="0.6"/>
<line x1="210.86" y1="236.94" x2="213.46" y2="236.94" stroke="#2a3a4a" stroke-width="0.6"/>
<line x1="210.86" y1="246.29" x2="213.46" y2="246.29" stroke="#2a3a4a" stroke-width="0.6"/>
<line x1="218.87" y1="244.11" x2="218.87" y2="251.90" stroke="#2a3a4a" stroke-width="0.6"/>
<line x1="217.57" y1="244.11" x2="220.17" y2="244.11" stroke="#2a3a4a" stroke-width="0.6"/>
<line x1="217.57" y1="251.90" x2="220.17" y2="251.90" stroke="#2a3a4a" stroke-width="0.6"/>
<line x1="225.58" y1="257.35" x2="225.58" y2="258.13" stroke="#2a3a4a" stroke-width="0.6"/>
<line x1="224.28" y1="257.35" x2="226.88" y2="257.35" stroke="#2a3a4a" stroke-width="0.6"/>
<line x1="224.28" y1="258.13" x2="226.88" y2="258.13" stroke="#2a3a4a" stroke-width="0.6"/>
<line x1="232.28" y1="257.35" x2="232.28" y2="258.13" stroke="#2a3a4a" stroke-width="0.6"/>
<line x1="230.98" y1="257.35" x2="233.58" y2="257.35" stroke="#2a3a4a" stroke-width="0.6"/>
<line x1="230.98" y1="258.13" x2="233.58" y2="258.13" stroke="#2a3a4a" stroke-width="0.6"/>
<line x1="238.99" y1="257.35" x2="238.99" y2="258.13" stroke="#2a3a4a" stroke-width="0.6"/>
<line x1="237.69" y1="257.35" x2="240.29" y2="257.35" stroke="#2a3a4a" stroke-width="0.6"/>
<line x1="237.69" y1="258.13" x2="240.29" y2="258.13" stroke="#2a3a4a" stroke-width="0.6"/>
<circle cx="158.50" cy="246.60" r="1.65" fill="#1d3a5c" stroke="#0a1a2a" stroke-width="0.7"/>
<circle cx="165.20" cy="246.84" r="1.65" fill="#1d3a5c" stroke="#0a1a2a" stroke-width="0.7"/>
<circle cx="171.91" cy="247.07" r="1.65" fill="#1d3a5c" stroke="#0a1a2a" stroke-width="0.7"/>
<circle cx="178.62" cy="247.23" r="1.65" fill="#1d3a5c" stroke="#0a1a2a" stroke-width="0.7"/>
<circle cx="185.33" cy="252.68" r="1.65" fill="#1d3a5c" stroke="#0a1a2a" stroke-width="0.7"/>
<circle cx="192.04" cy="255.02" r="1.65" fill="#1d3a5c" stroke="#0a1a2a" stroke-width="0.7"/>
<circle cx="198.74" cy="255.02" r="1.65" fill="#1d3a5c" stroke="#0a1a2a" stroke-width="0.7"/>
<circle cx="205.45" cy="231.72" r="1.65" fill="#1d3a5c" stroke="#0a1a2a" stroke-width="0.7"/>
<circle cx="212.16" cy="241.62" r="1.65" fill="#1d3a5c" stroke="#0a1a2a" stroke-width="0.7"/>
<circle cx="218.87" cy="248.00" r="1.65" fill="#1d3a5c" stroke="#0a1a2a" stroke-width="0.7"/>
<circle cx="225.58" cy="257.74" r="1.65" fill="#1d3a5c" stroke="#0a1a2a" stroke-width="0.7"/>
<circle cx="232.28" cy="257.74" r="1.65" fill="#1d3a5c" stroke="#0a1a2a" stroke-width="0.7"/>
<circle cx="238.99" cy="257.74" r="1.65" fill="#1d3a5c" stroke="#0a1a2a" stroke-width="0.7"/>
<line x1="156.00" y1="195.00" x2="156.00" y2="259.80" stroke="#111" stroke-width="1.1"/>
<line x1="155.50" y1="259.30" x2="252.50" y2="259.30" stroke="#111" stroke-width="1.1"/>
<line x1="153.00" y1="259.30" x2="156.00" y2="259.30" stroke="#111" stroke-width="0.8"/>
<text x="150.40" y="261.60" font-size="6.3" fill="#222" text-anchor="end">0</text>
<line x1="153.00" y1="228.14" x2="156.00" y2="228.14" stroke="#111" stroke-width="0.8"/>
<text x="150.40" y="230.44" font-size="6.3" fill="#222" text-anchor="end">400</text>
<line x1="153.00" y1="196.98" x2="156.00" y2="196.98" stroke="#111" stroke-width="0.8"/>
<text x="150.40" y="199.28" font-size="6.3" fill="#222" text-anchor="end">800</text>
<line x1="156.00" y1="259.30" x2="156.00" y2="261.50" stroke="#111" stroke-width="0.8"/>
<text x="156.00" y="271.30" font-size="6.3" fill="#222" text-anchor="middle">0</text>
<line x1="187.20" y1="259.30" x2="187.20" y2="261.50" stroke="#111" stroke-width="0.8"/>
<text x="187.20" y="271.30" font-size="6.3" fill="#222" text-anchor="middle">20</text>
<line x1="218.40" y1="259.30" x2="218.40" y2="261.50" stroke="#111" stroke-width="0.8"/>
<text x="218.40" y="271.30" font-size="6.3" fill="#222" text-anchor="middle">40</text>
<line x1="249.60" y1="259.30" x2="249.60" y2="261.50" stroke="#111" stroke-width="0.8"/>
<text x="249.60" y="271.30" font-size="6.3" fill="#222" text-anchor="middle">60</text>
<circle cx="234.10" cy="213.40" r="1.50" fill="#e8b860" stroke="#7a5020" stroke-width="0.7"/>
<text x="239.20" y="215.70" font-size="6.5" fill="#222">+ AraC</text>
<circle cx="234.10" cy="221.20" r="1.50" fill="#1d3a5c" stroke="#0a1a2a" stroke-width="0.7"/>
<text x="239.20" y="223.50" font-size="6.5" fill="#222">Control</text>
<line x1="35.60" y1="177.50" x2="252.00" y2="177.50" stroke="#333" stroke-width="0.9"/>
<text x="119.20" y="172.80" font-size="8" fill="#222" textLength="50" lengthAdjust="spacingAndGlyphs">Drug tolerant</text>
<text x="67.60" y="281.50" font-size="6.4" fill="#222" textLength="31" lengthAdjust="spacingAndGlyphs">OCI-AML2</text>
<text x="188.20" y="281.50" font-size="6.4" fill="#222" textLength="31" lengthAdjust="spacingAndGlyphs">OCI-AML3</text>
<text x="13.70" y="229.80" font-size="7" fill="#222" text-anchor="middle" textLength="49.4" lengthAdjust="spacingAndGlyphs" transform="rotate(-90 13.7 229.8)">OCR (pmol/min)</text>
<line x1="309.14" y1="196.10" x2="309.14" y2="259.50" stroke="#a0a0a0" stroke-width="0.7" stroke-dasharray="1.6,1.4"/>
<path d="M306.94,190.10 L311.34,190.10 L309.14,197.80 Z" fill="#000"/>
<text x="278.00" y="186.80" font-size="6.3" fill="#1a1a1a" textLength="32.39999999999998" lengthAdjust="spacingAndGlyphs">Oligomycin</text>
<line x1="329.26" y1="196.10" x2="329.26" y2="259.50" stroke="#a0a0a0" stroke-width="0.7" stroke-dasharray="1.6,1.4"/>
<path d="M327.06,190.10 L331.46,190.10 L329.26,197.80 Z" fill="#000"/>
<text x="316.80" y="186.80" font-size="6.3" fill="#1a1a1a" textLength="15.5" lengthAdjust="spacingAndGlyphs">FCCP</text>
<line x1="349.54" y1="196.10" x2="349.54" y2="259.50" stroke="#a0a0a0" stroke-width="0.7" stroke-dasharray="1.6,1.4"/>
<path d="M347.34,190.10 L351.74,190.10 L349.54,197.80 Z" fill="#000"/>
<text x="342.70" y="186.80" font-size="6.3" fill="#1a1a1a" textLength="20.80000000000001" lengthAdjust="spacingAndGlyphs">Rot/AA</text>
<path d="M285.90,239.97 L292.60,239.97 L299.31,239.97 L306.02,239.97 L312.73,248.47 L319.44,251.47 L326.14,251.47 L332.85,213.04 L339.56,225.01 L346.27,231.15 L352.98,257.22 L359.68,256.98 L366.39,256.51" stroke="#eaa848" stroke-width="0.8" fill="none"/>
<path d="M285.90,238.79 L292.60,238.79 L299.31,238.79 L306.02,238.79 L312.73,248.47 L319.44,251.47 L326.14,251.47 L332.85,212.01 L339.56,225.01 L346.27,229.97 L352.98,257.22 L359.68,256.98 L366.39,256.51" stroke="#4a80b8" stroke-width="0.8" fill="none"/>
<line x1="285.90" y1="239.18" x2="285.90" y2="240.76" stroke="#5a4020" stroke-width="0.6"/>
<line x1="284.60" y1="239.18" x2="287.20" y2="239.18" stroke="#5a4020" stroke-width="0.6"/>
<line x1="284.60" y1="240.76" x2="287.20" y2="240.76" stroke="#5a4020" stroke-width="0.6"/>
<line x1="292.60" y1="239.18" x2="292.60" y2="240.76" stroke="#5a4020" stroke-width="0.6"/>
<line x1="291.30" y1="239.18" x2="293.90" y2="239.18" stroke="#5a4020" stroke-width="0.6"/>
<line x1="291.30" y1="240.76" x2="293.90" y2="240.76" stroke="#5a4020" stroke-width="0.6"/>
<line x1="299.31" y1="239.18" x2="299.31" y2="240.76" stroke="#5a4020" stroke-width="0.6"/>
<line x1="298.01" y1="239.18" x2="300.61" y2="239.18" stroke="#5a4020" stroke-width="0.6"/>
<line x1="298.01" y1="240.76" x2="300.61" y2="240.76" stroke="#5a4020" stroke-width="0.6"/>
<line x1="306.02" y1="239.18" x2="306.02" y2="240.76" stroke="#5a4020" stroke-width="0.6"/>
<line x1="304.72" y1="239.18" x2="307.32" y2="239.18" stroke="#5a4020" stroke-width="0.6"/>
<line x1="304.72" y1="240.76" x2="307.32" y2="240.76" stroke="#5a4020" stroke-width="0.6"/>
<line x1="312.73" y1="247.69" x2="312.73" y2="249.26" stroke="#5a4020" stroke-width="0.6"/>
<line x1="311.43" y1="247.69" x2="314.03" y2="247.69" stroke="#5a4020" stroke-width="0.6"/>
<line x1="311.43" y1="249.26" x2="314.03" y2="249.26" stroke="#5a4020" stroke-width="0.6"/>
<line x1="319.44" y1="250.84" x2="319.44" y2="252.10" stroke="#5a4020" stroke-width="0.6"/>
<line x1="318.14" y1="250.84" x2="320.74" y2="250.84" stroke="#5a4020" stroke-width="0.6"/>
<line x1="318.14" y1="252.10" x2="320.74" y2="252.10" stroke="#5a4020" stroke-width="0.6"/>
<line x1="326.14" y1="250.84" x2="326.14" y2="252.10" stroke="#5a4020" stroke-width="0.6"/>
<line x1="324.84" y1="250.84" x2="327.44" y2="250.84" stroke="#5a4020" stroke-width="0.6"/>
<line x1="324.84" y1="252.10" x2="327.44" y2="252.10" stroke="#5a4020" stroke-width="0.6"/>
<line x1="332.85" y1="209.89" x2="332.85" y2="216.19" stroke="#5a4020" stroke-width="0.6"/>
<line x1="331.55" y1="209.89" x2="334.15" y2="209.89" stroke="#5a4020" stroke-width="0.6"/>
<line x1="331.55" y1="216.19" x2="334.15" y2="216.19" stroke="#5a4020" stroke-width="0.6"/>
<line x1="339.56" y1="221.86" x2="339.56" y2="228.16" stroke="#5a4020" stroke-width="0.6"/>
<line x1="338.26" y1="221.86" x2="340.86" y2="221.86" stroke="#5a4020" stroke-width="0.6"/>
<line x1="338.26" y1="228.16" x2="340.86" y2="228.16" stroke="#5a4020" stroke-width="0.6"/>
<line x1="346.27" y1="227.21" x2="346.27" y2="235.09" stroke="#5a4020" stroke-width="0.6"/>
<line x1="344.97" y1="227.21" x2="347.57" y2="227.21" stroke="#5a4020" stroke-width="0.6"/>
<line x1="344.97" y1="235.09" x2="347.57" y2="235.09" stroke="#5a4020" stroke-width="0.6"/>
<line x1="352.98" y1="256.82" x2="352.98" y2="257.61" stroke="#5a4020" stroke-width="0.6"/>
<line x1="351.68" y1="256.82" x2="354.28" y2="256.82" stroke="#5a4020" stroke-width="0.6"/>
<line x1="351.68" y1="257.61" x2="354.28" y2="257.61" stroke="#5a4020" stroke-width="0.6"/>
<line x1="359.68" y1="256.59" x2="359.68" y2="257.37" stroke="#5a4020" stroke-width="0.6"/>
<line x1="358.38" y1="256.59" x2="360.98" y2="256.59" stroke="#5a4020" stroke-width="0.6"/>
<line x1="358.38" y1="257.37" x2="360.98" y2="257.37" stroke="#5a4020" stroke-width="0.6"/>
<line x1="366.39" y1="256.11" x2="366.39" y2="256.90" stroke="#5a4020" stroke-width="0.6"/>
<line x1="365.09" y1="256.11" x2="367.69" y2="256.11" stroke="#5a4020" stroke-width="0.6"/>
<line x1="365.09" y1="256.90" x2="367.69" y2="256.90" stroke="#5a4020" stroke-width="0.6"/>
<circle cx="285.90" cy="239.97" r="1.65" fill="#e8b860" stroke="#7a5020" stroke-width="0.7"/>
<circle cx="292.60" cy="239.97" r="1.65" fill="#e8b860" stroke="#7a5020" stroke-width="0.7"/>
<circle cx="299.31" cy="239.97" r="1.65" fill="#e8b860" stroke="#7a5020" stroke-width="0.7"/>
<circle cx="306.02" cy="239.97" r="1.65" fill="#e8b860" stroke="#7a5020" stroke-width="0.7"/>
<circle cx="312.73" cy="248.47" r="1.65" fill="#e8b860" stroke="#7a5020" stroke-width="0.7"/>
<circle cx="319.44" cy="251.47" r="1.65" fill="#e8b860" stroke="#7a5020" stroke-width="0.7"/>
<circle cx="326.14" cy="251.47" r="1.65" fill="#e8b860" stroke="#7a5020" stroke-width="0.7"/>
<circle cx="332.85" cy="213.04" r="1.65" fill="#e8b860" stroke="#7a5020" stroke-width="0.7"/>
<circle cx="339.56" cy="225.01" r="1.65" fill="#e8b860" stroke="#7a5020" stroke-width="0.7"/>
<circle cx="346.27" cy="231.15" r="1.65" fill="#e8b860" stroke="#7a5020" stroke-width="0.7"/>
<circle cx="352.98" cy="257.22" r="1.65" fill="#e8b860" stroke="#7a5020" stroke-width="0.7"/>
<circle cx="359.68" cy="256.98" r="1.65" fill="#e8b860" stroke="#7a5020" stroke-width="0.7"/>
<circle cx="366.39" cy="256.51" r="1.65" fill="#e8b860" stroke="#7a5020" stroke-width="0.7"/>
<line x1="285.90" y1="237.61" x2="285.90" y2="239.97" stroke="#2a3a4a" stroke-width="0.6"/>
<line x1="284.60" y1="237.61" x2="287.20" y2="237.61" stroke="#2a3a4a" stroke-width="0.6"/>
<line x1="284.60" y1="239.97" x2="287.20" y2="239.97" stroke="#2a3a4a" stroke-width="0.6"/>
<line x1="292.60" y1="237.61" x2="292.60" y2="239.97" stroke="#2a3a4a" stroke-width="0.6"/>
<line x1="291.30" y1="237.61" x2="293.90" y2="237.61" stroke="#2a3a4a" stroke-width="0.6"/>
<line x1="291.30" y1="239.97" x2="293.90" y2="239.97" stroke="#2a3a4a" stroke-width="0.6"/>
<line x1="299.31" y1="237.61" x2="299.31" y2="239.97" stroke="#2a3a4a" stroke-width="0.6"/>
<line x1="298.01" y1="237.61" x2="300.61" y2="237.61" stroke="#2a3a4a" stroke-width="0.6"/>
<line x1="298.01" y1="239.97" x2="300.61" y2="239.97" stroke="#2a3a4a" stroke-width="0.6"/>
<line x1="306.02" y1="237.61" x2="306.02" y2="239.97" stroke="#2a3a4a" stroke-width="0.6"/>
<line x1="304.72" y1="237.61" x2="307.32" y2="237.61" stroke="#2a3a4a" stroke-width="0.6"/>
<line x1="304.72" y1="239.97" x2="307.32" y2="239.97" stroke="#2a3a4a" stroke-width="0.6"/>
<line x1="312.73" y1="247.69" x2="312.73" y2="249.26" stroke="#2a3a4a" stroke-width="0.6"/>
<line x1="311.43" y1="247.69" x2="314.03" y2="247.69" stroke="#2a3a4a" stroke-width="0.6"/>
<line x1="311.43" y1="249.26" x2="314.03" y2="249.26" stroke="#2a3a4a" stroke-width="0.6"/>
<line x1="319.44" y1="250.84" x2="319.44" y2="252.10" stroke="#2a3a4a" stroke-width="0.6"/>
<line x1="318.14" y1="250.84" x2="320.74" y2="250.84" stroke="#2a3a4a" stroke-width="0.6"/>
<line x1="318.14" y1="252.10" x2="320.74" y2="252.10" stroke="#2a3a4a" stroke-width="0.6"/>
<line x1="326.14" y1="250.84" x2="326.14" y2="252.10" stroke="#2a3a4a" stroke-width="0.6"/>
<line x1="324.84" y1="250.84" x2="327.44" y2="250.84" stroke="#2a3a4a" stroke-width="0.6"/>
<line x1="324.84" y1="252.10" x2="327.44" y2="252.10" stroke="#2a3a4a" stroke-width="0.6"/>
<line x1="332.85" y1="208.08" x2="332.85" y2="215.95" stroke="#2a3a4a" stroke-width="0.6"/>
<line x1="331.55" y1="208.08" x2="334.15" y2="208.08" stroke="#2a3a4a" stroke-width="0.6"/>
<line x1="331.55" y1="215.95" x2="334.15" y2="215.95" stroke="#2a3a4a" stroke-width="0.6"/>
<line x1="339.56" y1="221.86" x2="339.56" y2="228.16" stroke="#2a3a4a" stroke-width="0.6"/>
<line x1="338.26" y1="221.86" x2="340.86" y2="221.86" stroke="#2a3a4a" stroke-width="0.6"/>
<line x1="338.26" y1="228.16" x2="340.86" y2="228.16" stroke="#2a3a4a" stroke-width="0.6"/>
<line x1="346.27" y1="226.03" x2="346.27" y2="233.91" stroke="#2a3a4a" stroke-width="0.6"/>
<line x1="344.97" y1="226.03" x2="347.57" y2="226.03" stroke="#2a3a4a" stroke-width="0.6"/>
<line x1="344.97" y1="233.91" x2="347.57" y2="233.91" stroke="#2a3a4a" stroke-width="0.6"/>
<line x1="352.98" y1="256.82" x2="352.98" y2="257.61" stroke="#2a3a4a" stroke-width="0.6"/>
<line x1="351.68" y1="256.82" x2="354.28" y2="256.82" stroke="#2a3a4a" stroke-width="0.6"/>
<line x1="351.68" y1="257.61" x2="354.28" y2="257.61" stroke="#2a3a4a" stroke-width="0.6"/>
<line x1="359.68" y1="256.59" x2="359.68" y2="257.37" stroke="#2a3a4a" stroke-width="0.6"/>
<line x1="358.38" y1="256.59" x2="360.98" y2="256.59" stroke="#2a3a4a" stroke-width="0.6"/>
<line x1="358.38" y1="257.37" x2="360.98" y2="257.37" stroke="#2a3a4a" stroke-width="0.6"/>
<line x1="366.39" y1="256.11" x2="366.39" y2="256.90" stroke="#2a3a4a" stroke-width="0.6"/>
<line x1="365.09" y1="256.11" x2="367.69" y2="256.11" stroke="#2a3a4a" stroke-width="0.6"/>
<line x1="365.09" y1="256.90" x2="367.69" y2="256.90" stroke="#2a3a4a" stroke-width="0.6"/>
<circle cx="285.90" cy="238.79" r="1.65" fill="#1d3a5c" stroke="#0a1a2a" stroke-width="0.7"/>
<circle cx="292.60" cy="238.79" r="1.65" fill="#1d3a5c" stroke="#0a1a2a" stroke-width="0.7"/>
<circle cx="299.31" cy="238.79" r="1.65" fill="#1d3a5c" stroke="#0a1a2a" stroke-width="0.7"/>
<circle cx="306.02" cy="238.79" r="1.65" fill="#1d3a5c" stroke="#0a1a2a" stroke-width="0.7"/>
<circle cx="312.73" cy="248.47" r="1.65" fill="#1d3a5c" stroke="#0a1a2a" stroke-width="0.7"/>
<circle cx="319.44" cy="251.47" r="1.65" fill="#1d3a5c" stroke="#0a1a2a" stroke-width="0.7"/>
<circle cx="326.14" cy="251.47" r="1.65" fill="#1d3a5c" stroke="#0a1a2a" stroke-width="0.7"/>
<circle cx="332.85" cy="212.01" r="1.65" fill="#1d3a5c" stroke="#0a1a2a" stroke-width="0.7"/>
<circle cx="339.56" cy="225.01" r="1.65" fill="#1d3a5c" stroke="#0a1a2a" stroke-width="0.7"/>
<circle cx="346.27" cy="229.97" r="1.65" fill="#1d3a5c" stroke="#0a1a2a" stroke-width="0.7"/>
<circle cx="352.98" cy="257.22" r="1.65" fill="#1d3a5c" stroke="#0a1a2a" stroke-width="0.7"/>
<circle cx="359.68" cy="256.98" r="1.65" fill="#1d3a5c" stroke="#0a1a2a" stroke-width="0.7"/>
<circle cx="366.39" cy="256.51" r="1.65" fill="#1d3a5c" stroke="#0a1a2a" stroke-width="0.7"/>
<line x1="283.40" y1="195.00" x2="283.40" y2="260.00" stroke="#111" stroke-width="1.1"/>
<line x1="282.90" y1="259.50" x2="378.50" y2="259.50" stroke="#111" stroke-width="1.1"/>
<line x1="280.40" y1="259.50" x2="283.40" y2="259.50" stroke="#111" stroke-width="0.8"/>
<text x="277.80" y="261.80" font-size="6.3" fill="#222" text-anchor="end">0</text>
<line x1="280.40" y1="228.00" x2="283.40" y2="228.00" stroke="#111" stroke-width="0.8"/>
<text x="277.80" y="230.30" font-size="6.3" fill="#222" text-anchor="end">400</text>
<line x1="280.40" y1="196.50" x2="283.40" y2="196.50" stroke="#111" stroke-width="0.8"/>
<text x="277.80" y="198.80" font-size="6.3" fill="#222" text-anchor="end">800</text>
<line x1="283.40" y1="259.50" x2="283.40" y2="261.70" stroke="#111" stroke-width="0.8"/>
<text x="283.40" y="271.80" font-size="6.3" fill="#222" text-anchor="middle">0</text>
<line x1="314.60" y1="259.50" x2="314.60" y2="261.70" stroke="#111" stroke-width="0.8"/>
<text x="314.60" y="271.80" font-size="6.3" fill="#222" text-anchor="middle">20</text>
<line x1="345.80" y1="259.50" x2="345.80" y2="261.70" stroke="#111" stroke-width="0.8"/>
<text x="345.80" y="271.80" font-size="6.3" fill="#222" text-anchor="middle">40</text>
<line x1="377.00" y1="259.50" x2="377.00" y2="261.70" stroke="#111" stroke-width="0.8"/>
<text x="377.00" y="271.80" font-size="6.3" fill="#222" text-anchor="middle">60</text>
<line x1="429.30" y1="196.10" x2="429.30" y2="259.50" stroke="#a0a0a0" stroke-width="0.7" stroke-dasharray="1.6,1.4"/>
<path d="M427.10,190.10 L431.50,190.10 L429.30,197.80 Z" fill="#000"/>
<text x="399.90" y="186.80" font-size="6.3" fill="#1a1a1a" textLength="32.30000000000001" lengthAdjust="spacingAndGlyphs">Oligomycin</text>
<line x1="449.11" y1="196.10" x2="449.11" y2="259.50" stroke="#a0a0a0" stroke-width="0.7" stroke-dasharray="1.6,1.4"/>
<path d="M446.91,190.10 L451.31,190.10 L449.11,197.80 Z" fill="#000"/>
<text x="439.20" y="186.80" font-size="6.3" fill="#1a1a1a" textLength="16.100000000000023" lengthAdjust="spacingAndGlyphs">FCCP</text>
<line x1="469.08" y1="196.10" x2="469.08" y2="259.50" stroke="#a0a0a0" stroke-width="0.7" stroke-dasharray="1.6,1.4"/>
<path d="M466.88,190.10 L471.28,190.10 L469.08,197.80 Z" fill="#000"/>
<text x="465.00" y="186.80" font-size="6.3" fill="#1a1a1a" textLength="20.80000000000001" lengthAdjust="spacingAndGlyphs">Rot/AA</text>
<path d="M405.90,238.08 L412.60,239.18 L419.31,240.91 L426.02,242.02 L432.73,251.94 L439.44,253.04 L446.14,253.04 L452.85,231.94 L459.56,237.92 L466.27,243.44 L472.98,257.14 L479.68,256.98 L486.39,256.51" stroke="#eaa848" stroke-width="0.8" fill="none"/>
<path d="M405.90,238.08 L412.60,239.18 L419.31,239.18 L426.02,239.50 L432.73,251.94 L439.44,253.04 L446.14,253.04 L452.85,214.30 L459.56,222.33 L466.27,231.15 L472.98,257.14 L479.68,256.98 L486.39,256.51" stroke="#4a80b8" stroke-width="0.8" fill="none"/>
<line x1="405.90" y1="236.50" x2="405.90" y2="239.66" stroke="#5a4020" stroke-width="0.6"/>
<line x1="404.60" y1="236.50" x2="407.20" y2="236.50" stroke="#5a4020" stroke-width="0.6"/>
<line x1="404.60" y1="239.66" x2="407.20" y2="239.66" stroke="#5a4020" stroke-width="0.6"/>
<line x1="412.60" y1="237.61" x2="412.60" y2="240.76" stroke="#5a4020" stroke-width="0.6"/>
<line x1="411.30" y1="237.61" x2="413.90" y2="237.61" stroke="#5a4020" stroke-width="0.6"/>
<line x1="411.30" y1="240.76" x2="413.90" y2="240.76" stroke="#5a4020" stroke-width="0.6"/>
<line x1="419.31" y1="237.76" x2="419.31" y2="244.06" stroke="#5a4020" stroke-width="0.6"/>
<line x1="418.01" y1="237.76" x2="420.61" y2="237.76" stroke="#5a4020" stroke-width="0.6"/>
<line x1="418.01" y1="244.06" x2="420.61" y2="244.06" stroke="#5a4020" stroke-width="0.6"/>
<line x1="426.02" y1="238.87" x2="426.02" y2="245.17" stroke="#5a4020" stroke-width="0.6"/>
<line x1="424.72" y1="238.87" x2="427.32" y2="238.87" stroke="#5a4020" stroke-width="0.6"/>
<line x1="424.72" y1="245.17" x2="427.32" y2="245.17" stroke="#5a4020" stroke-width="0.6"/>
<line x1="432.73" y1="250.68" x2="432.73" y2="253.20" stroke="#5a4020" stroke-width="0.6"/>
<line x1="431.43" y1="250.68" x2="434.03" y2="250.68" stroke="#5a4020" stroke-width="0.6"/>
<line x1="431.43" y1="253.20" x2="434.03" y2="253.20" stroke="#5a4020" stroke-width="0.6"/>
<line x1="439.44" y1="252.25" x2="439.44" y2="253.83" stroke="#5a4020" stroke-width="0.6"/>
<line x1="438.14" y1="252.25" x2="440.74" y2="252.25" stroke="#5a4020" stroke-width="0.6"/>
<line x1="438.14" y1="253.83" x2="440.74" y2="253.83" stroke="#5a4020" stroke-width="0.6"/>
<line x1="446.14" y1="252.25" x2="446.14" y2="253.83" stroke="#5a4020" stroke-width="0.6"/>
<line x1="444.84" y1="252.25" x2="447.44" y2="252.25" stroke="#5a4020" stroke-width="0.6"/>
<line x1="444.84" y1="253.83" x2="447.44" y2="253.83" stroke="#5a4020" stroke-width="0.6"/>
<line x1="452.85" y1="220.91" x2="452.85" y2="242.96" stroke="#5a4020" stroke-width="0.6"/>
<line x1="451.55" y1="220.91" x2="454.15" y2="220.91" stroke="#5a4020" stroke-width="0.6"/>
<line x1="451.55" y1="242.96" x2="454.15" y2="242.96" stroke="#5a4020" stroke-width="0.6"/>
<line x1="459.56" y1="231.62" x2="459.56" y2="244.22" stroke="#5a4020" stroke-width="0.6"/>
<line x1="458.26" y1="231.62" x2="460.86" y2="231.62" stroke="#5a4020" stroke-width="0.6"/>
<line x1="458.26" y1="244.22" x2="460.86" y2="244.22" stroke="#5a4020" stroke-width="0.6"/>
<line x1="466.27" y1="238.71" x2="466.27" y2="248.16" stroke="#5a4020" stroke-width="0.6"/>
<line x1="464.97" y1="238.71" x2="467.57" y2="238.71" stroke="#5a4020" stroke-width="0.6"/>
<line x1="464.97" y1="248.16" x2="467.57" y2="248.16" stroke="#5a4020" stroke-width="0.6"/>
<line x1="472.98" y1="256.67" x2="472.98" y2="257.61" stroke="#5a4020" stroke-width="0.6"/>
<line x1="471.68" y1="256.67" x2="474.28" y2="256.67" stroke="#5a4020" stroke-width="0.6"/>
<line x1="471.68" y1="257.61" x2="474.28" y2="257.61" stroke="#5a4020" stroke-width="0.6"/>
<line x1="479.68" y1="256.51" x2="479.68" y2="257.45" stroke="#5a4020" stroke-width="0.6"/>
<line x1="478.38" y1="256.51" x2="480.98" y2="256.51" stroke="#5a4020" stroke-width="0.6"/>
<line x1="478.38" y1="257.45" x2="480.98" y2="257.45" stroke="#5a4020" stroke-width="0.6"/>
<line x1="486.39" y1="256.04" x2="486.39" y2="256.98" stroke="#5a4020" stroke-width="0.6"/>
<line x1="485.09" y1="256.04" x2="487.69" y2="256.04" stroke="#5a4020" stroke-width="0.6"/>
<line x1="485.09" y1="256.98" x2="487.69" y2="256.98" stroke="#5a4020" stroke-width="0.6"/>
<circle cx="405.90" cy="238.08" r="1.65" fill="#e8b860" stroke="#7a5020" stroke-width="0.7"/>
<circle cx="412.60" cy="239.18" r="1.65" fill="#e8b860" stroke="#7a5020" stroke-width="0.7"/>
<circle cx="419.31" cy="240.91" r="1.65" fill="#e8b860" stroke="#7a5020" stroke-width="0.7"/>
<circle cx="426.02" cy="242.02" r="1.65" fill="#e8b860" stroke="#7a5020" stroke-width="0.7"/>
<circle cx="432.73" cy="251.94" r="1.65" fill="#e8b860" stroke="#7a5020" stroke-width="0.7"/>
<circle cx="439.44" cy="253.04" r="1.65" fill="#e8b860" stroke="#7a5020" stroke-width="0.7"/>
<circle cx="446.14" cy="253.04" r="1.65" fill="#e8b860" stroke="#7a5020" stroke-width="0.7"/>
<circle cx="452.85" cy="231.94" r="1.65" fill="#e8b860" stroke="#7a5020" stroke-width="0.7"/>
<circle cx="459.56" cy="237.92" r="1.65" fill="#e8b860" stroke="#7a5020" stroke-width="0.7"/>
<circle cx="466.27" cy="243.44" r="1.65" fill="#e8b860" stroke="#7a5020" stroke-width="0.7"/>
<circle cx="472.98" cy="257.14" r="1.65" fill="#e8b860" stroke="#7a5020" stroke-width="0.7"/>
<circle cx="479.68" cy="256.98" r="1.65" fill="#e8b860" stroke="#7a5020" stroke-width="0.7"/>
<circle cx="486.39" cy="256.51" r="1.65" fill="#e8b860" stroke="#7a5020" stroke-width="0.7"/>
<line x1="405.90" y1="235.72" x2="405.90" y2="240.44" stroke="#2a3a4a" stroke-width="0.6"/>
<line x1="404.60" y1="235.72" x2="407.20" y2="235.72" stroke="#2a3a4a" stroke-width="0.6"/>
<line x1="404.60" y1="240.44" x2="407.20" y2="240.44" stroke="#2a3a4a" stroke-width="0.6"/>
<line x1="412.60" y1="236.82" x2="412.60" y2="241.54" stroke="#2a3a4a" stroke-width="0.6"/>
<line x1="411.30" y1="236.82" x2="413.90" y2="236.82" stroke="#2a3a4a" stroke-width="0.6"/>
<line x1="411.30" y1="241.54" x2="413.90" y2="241.54" stroke="#2a3a4a" stroke-width="0.6"/>
<line x1="419.31" y1="236.82" x2="419.31" y2="241.54" stroke="#2a3a4a" stroke-width="0.6"/>
<line x1="418.01" y1="236.82" x2="420.61" y2="236.82" stroke="#2a3a4a" stroke-width="0.6"/>
<line x1="418.01" y1="241.54" x2="420.61" y2="241.54" stroke="#2a3a4a" stroke-width="0.6"/>
<line x1="426.02" y1="237.92" x2="426.02" y2="241.07" stroke="#2a3a4a" stroke-width="0.6"/>
<line x1="424.72" y1="237.92" x2="427.32" y2="237.92" stroke="#2a3a4a" stroke-width="0.6"/>
<line x1="424.72" y1="241.07" x2="427.32" y2="241.07" stroke="#2a3a4a" stroke-width="0.6"/>
<line x1="432.73" y1="250.68" x2="432.73" y2="253.20" stroke="#2a3a4a" stroke-width="0.6"/>
<line x1="431.43" y1="250.68" x2="434.03" y2="250.68" stroke="#2a3a4a" stroke-width="0.6"/>
<line x1="431.43" y1="253.20" x2="434.03" y2="253.20" stroke="#2a3a4a" stroke-width="0.6"/>
<line x1="439.44" y1="252.25" x2="439.44" y2="253.83" stroke="#2a3a4a" stroke-width="0.6"/>
<line x1="438.14" y1="252.25" x2="440.74" y2="252.25" stroke="#2a3a4a" stroke-width="0.6"/>
<line x1="438.14" y1="253.83" x2="440.74" y2="253.83" stroke="#2a3a4a" stroke-width="0.6"/>
<line x1="446.14" y1="252.25" x2="446.14" y2="253.83" stroke="#2a3a4a" stroke-width="0.6"/>
<line x1="444.84" y1="252.25" x2="447.44" y2="252.25" stroke="#2a3a4a" stroke-width="0.6"/>
<line x1="444.84" y1="253.83" x2="447.44" y2="253.83" stroke="#2a3a4a" stroke-width="0.6"/>
<line x1="452.85" y1="205.63" x2="452.85" y2="222.96" stroke="#2a3a4a" stroke-width="0.6"/>
<line x1="451.55" y1="205.63" x2="454.15" y2="205.63" stroke="#2a3a4a" stroke-width="0.6"/>
<line x1="451.55" y1="222.96" x2="454.15" y2="222.96" stroke="#2a3a4a" stroke-width="0.6"/>
<line x1="459.56" y1="213.67" x2="459.56" y2="230.99" stroke="#2a3a4a" stroke-width="0.6"/>
<line x1="458.26" y1="213.67" x2="460.86" y2="213.67" stroke="#2a3a4a" stroke-width="0.6"/>
<line x1="458.26" y1="230.99" x2="460.86" y2="230.99" stroke="#2a3a4a" stroke-width="0.6"/>
<line x1="466.27" y1="224.06" x2="466.27" y2="238.24" stroke="#2a3a4a" stroke-width="0.6"/>
<line x1="464.97" y1="224.06" x2="467.57" y2="224.06" stroke="#2a3a4a" stroke-width="0.6"/>
<line x1="464.97" y1="238.24" x2="467.57" y2="238.24" stroke="#2a3a4a" stroke-width="0.6"/>
<line x1="472.98" y1="256.67" x2="472.98" y2="257.61" stroke="#2a3a4a" stroke-width="0.6"/>
<line x1="471.68" y1="256.67" x2="474.28" y2="256.67" stroke="#2a3a4a" stroke-width="0.6"/>
<line x1="471.68" y1="257.61" x2="474.28" y2="257.61" stroke="#2a3a4a" stroke-width="0.6"/>
<line x1="479.68" y1="256.51" x2="479.68" y2="257.45" stroke="#2a3a4a" stroke-width="0.6"/>
<line x1="478.38" y1="256.51" x2="480.98" y2="256.51" stroke="#2a3a4a" stroke-width="0.6"/>
<line x1="478.38" y1="257.45" x2="480.98" y2="257.45" stroke="#2a3a4a" stroke-width="0.6"/>
<line x1="486.39" y1="256.04" x2="486.39" y2="256.98" stroke="#2a3a4a" stroke-width="0.6"/>
<line x1="485.09" y1="256.04" x2="487.69" y2="256.04" stroke="#2a3a4a" stroke-width="0.6"/>
<line x1="485.09" y1="256.98" x2="487.69" y2="256.98" stroke="#2a3a4a" stroke-width="0.6"/>
<circle cx="405.90" cy="238.08" r="1.65" fill="#1d3a5c" stroke="#0a1a2a" stroke-width="0.7"/>
<circle cx="412.60" cy="239.18" r="1.65" fill="#1d3a5c" stroke="#0a1a2a" stroke-width="0.7"/>
<circle cx="419.31" cy="239.18" r="1.65" fill="#1d3a5c" stroke="#0a1a2a" stroke-width="0.7"/>
<circle cx="426.02" cy="239.50" r="1.65" fill="#1d3a5c" stroke="#0a1a2a" stroke-width="0.7"/>
<circle cx="432.73" cy="251.94" r="1.65" fill="#1d3a5c" stroke="#0a1a2a" stroke-width="0.7"/>
<circle cx="439.44" cy="253.04" r="1.65" fill="#1d3a5c" stroke="#0a1a2a" stroke-width="0.7"/>
<circle cx="446.14" cy="253.04" r="1.65" fill="#1d3a5c" stroke="#0a1a2a" stroke-width="0.7"/>
<circle cx="452.85" cy="214.30" r="1.65" fill="#1d3a5c" stroke="#0a1a2a" stroke-width="0.7"/>
<circle cx="459.56" cy="222.33" r="1.65" fill="#1d3a5c" stroke="#0a1a2a" stroke-width="0.7"/>
<circle cx="466.27" cy="231.15" r="1.65" fill="#1d3a5c" stroke="#0a1a2a" stroke-width="0.7"/>
<circle cx="472.98" cy="257.14" r="1.65" fill="#1d3a5c" stroke="#0a1a2a" stroke-width="0.7"/>
<circle cx="479.68" cy="256.98" r="1.65" fill="#1d3a5c" stroke="#0a1a2a" stroke-width="0.7"/>
<circle cx="486.39" cy="256.51" r="1.65" fill="#1d3a5c" stroke="#0a1a2a" stroke-width="0.7"/>
<line x1="403.40" y1="195.00" x2="403.40" y2="260.00" stroke="#111" stroke-width="1.1"/>
<line x1="402.90" y1="259.50" x2="498.50" y2="259.50" stroke="#111" stroke-width="1.1"/>
<line x1="400.40" y1="259.50" x2="403.40" y2="259.50" stroke="#111" stroke-width="0.8"/>
<text x="397.80" y="261.80" font-size="6.3" fill="#222" text-anchor="end">0</text>
<line x1="400.40" y1="228.00" x2="403.40" y2="228.00" stroke="#111" stroke-width="0.8"/>
<text x="397.80" y="230.30" font-size="6.3" fill="#222" text-anchor="end">200</text>
<line x1="400.40" y1="196.50" x2="403.40" y2="196.50" stroke="#111" stroke-width="0.8"/>
<text x="397.80" y="198.80" font-size="6.3" fill="#222" text-anchor="end">400</text>
<line x1="403.40" y1="259.50" x2="403.40" y2="261.70" stroke="#111" stroke-width="0.8"/>
<text x="403.40" y="271.80" font-size="6.3" fill="#222" text-anchor="middle">0</text>
<line x1="434.60" y1="259.50" x2="434.60" y2="261.70" stroke="#111" stroke-width="0.8"/>
<text x="434.60" y="271.80" font-size="6.3" fill="#222" text-anchor="middle">20</text>
<line x1="465.80" y1="259.50" x2="465.80" y2="261.70" stroke="#111" stroke-width="0.8"/>
<text x="465.80" y="271.80" font-size="6.3" fill="#222" text-anchor="middle">40</text>
<line x1="497.00" y1="259.50" x2="497.00" y2="261.70" stroke="#111" stroke-width="0.8"/>
<text x="497.00" y="271.80" font-size="6.3" fill="#222" text-anchor="middle">60</text>
<circle cx="476.50" cy="212.80" r="1.50" fill="#e8b860" stroke="#7a5020" stroke-width="0.7"/>
<text x="481.80" y="215.10" font-size="6.5" fill="#222">+ AraC</text>
<circle cx="476.50" cy="221.20" r="1.50" fill="#1d3a5c" stroke="#0a1a2a" stroke-width="0.7"/>
<text x="481.80" y="223.50" font-size="6.5" fill="#222">Control</text>
<line x1="283.20" y1="177.40" x2="499.70" y2="177.40" stroke="#333" stroke-width="0.9"/>
<text x="364.50" y="173.00" font-size="8" fill="#222" textLength="53.6" lengthAdjust="spacingAndGlyphs">Drug sensitive</text>
<text x="317.50" y="281.50" font-size="6.4" fill="#222" textLength="25" lengthAdjust="spacingAndGlyphs">MOLM13</text>
<text x="437.50" y="281.50" font-size="6.4" fill="#222" textLength="27.5" lengthAdjust="spacingAndGlyphs">Kasumi-1</text>
<text x="267.50" y="293.60" font-size="8.6" fill="#222" textLength="44.7" lengthAdjust="spacingAndGlyphs">Time (minutes)</text>
<line x1="60.92" y1="341.20" x2="60.92" y2="404.10" stroke="#a0a0a0" stroke-width="0.7" stroke-dasharray="1.6,1.4"/>
<path d="M58.72,335.20 L63.12,335.20 L60.92,342.90 Z" fill="#000"/>
<text x="36.20" y="331.50" font-size="6.3" fill="#1a1a1a" textLength="31.5" lengthAdjust="spacingAndGlyphs">Oligomycin</text>
<line x1="81.12" y1="341.20" x2="81.12" y2="404.10" stroke="#a0a0a0" stroke-width="0.7" stroke-dasharray="1.6,1.4"/>
<path d="M78.92,335.20 L83.32,335.20 L81.12,342.90 Z" fill="#000"/>
<text x="73.20" y="331.50" font-size="6.3" fill="#1a1a1a" textLength="15.599999999999994" lengthAdjust="spacingAndGlyphs">FCCP</text>
<line x1="101.32" y1="341.20" x2="101.32" y2="404.10" stroke="#a0a0a0" stroke-width="0.7" stroke-dasharray="1.6,1.4"/>
<path d="M99.12,335.20 L103.52,335.20 L101.32,342.90 Z" fill="#000"/>
<text x="97.20" y="331.50" font-size="6.3" fill="#1a1a1a" textLength="21.0" lengthAdjust="spacingAndGlyphs">Rot/AA</text>
<path d="M36.90,396.18 L43.64,396.18 L50.37,396.18 L57.10,396.18 L63.84,397.50 L70.57,397.50 L77.30,397.50 L84.04,393.21 L90.77,395.85 L97.50,397.17 L104.24,399.81 L110.97,399.81 L117.70,399.81" stroke="#d04a8a" stroke-width="0.8" fill="none"/>
<path d="M36.90,391.56 L43.64,391.89 L50.37,391.56 L57.10,391.56 L63.84,395.85 L70.57,395.85 L77.30,395.19 L84.04,386.61 L90.77,394.20 L97.50,396.84 L104.24,400.14 L110.97,400.14 L117.70,400.14" stroke="#777" stroke-width="0.8" fill="none"/>
<path d="M36.90,375.39 L43.64,375.72 L50.37,374.73 L57.10,374.40 L63.84,390.24 L70.57,389.58 L77.30,388.26 L84.04,358.89 L90.77,376.05 L97.50,383.64 L104.24,397.83 L110.97,398.16 L117.70,398.16" stroke="#555" stroke-width="0.8" fill="none"/>
<line x1="36.90" y1="395.19" x2="36.90" y2="397.17" stroke="#7a2050" stroke-width="0.6"/>
<line x1="35.60" y1="395.19" x2="38.20" y2="395.19" stroke="#7a2050" stroke-width="0.6"/>
<line x1="35.60" y1="397.17" x2="38.20" y2="397.17" stroke="#7a2050" stroke-width="0.6"/>
<line x1="43.64" y1="395.19" x2="43.64" y2="397.17" stroke="#7a2050" stroke-width="0.6"/>
<line x1="42.34" y1="395.19" x2="44.94" y2="395.19" stroke="#7a2050" stroke-width="0.6"/>
<line x1="42.34" y1="397.17" x2="44.94" y2="397.17" stroke="#7a2050" stroke-width="0.6"/>
<line x1="50.37" y1="395.19" x2="50.37" y2="397.17" stroke="#7a2050" stroke-width="0.6"/>
<line x1="49.07" y1="395.19" x2="51.67" y2="395.19" stroke="#7a2050" stroke-width="0.6"/>
<line x1="49.07" y1="397.17" x2="51.67" y2="397.17" stroke="#7a2050" stroke-width="0.6"/>
<line x1="57.10" y1="395.19" x2="57.10" y2="397.17" stroke="#7a2050" stroke-width="0.6"/>
<line x1="55.80" y1="395.19" x2="58.40" y2="395.19" stroke="#7a2050" stroke-width="0.6"/>
<line x1="55.80" y1="397.17" x2="58.40" y2="397.17" stroke="#7a2050" stroke-width="0.6"/>
<line x1="63.84" y1="396.51" x2="63.84" y2="398.49" stroke="#7a2050" stroke-width="0.6"/>
<line x1="62.54" y1="396.51" x2="65.14" y2="396.51" stroke="#7a2050" stroke-width="0.6"/>
<line x1="62.54" y1="398.49" x2="65.14" y2="398.49" stroke="#7a2050" stroke-width="0.6"/>
<line x1="70.57" y1="396.51" x2="70.57" y2="398.49" stroke="#7a2050" stroke-width="0.6"/>
<line x1="69.27" y1="396.51" x2="71.87" y2="396.51" stroke="#7a2050" stroke-width="0.6"/>
<line x1="69.27" y1="398.49" x2="71.87" y2="398.49" stroke="#7a2050" stroke-width="0.6"/>
<line x1="77.30" y1="396.51" x2="77.30" y2="398.49" stroke="#7a2050" stroke-width="0.6"/>
<line x1="76.00" y1="396.51" x2="78.60" y2="396.51" stroke="#7a2050" stroke-width="0.6"/>
<line x1="76.00" y1="398.49" x2="78.60" y2="398.49" stroke="#7a2050" stroke-width="0.6"/>
<line x1="84.04" y1="392.22" x2="84.04" y2="394.20" stroke="#7a2050" stroke-width="0.6"/>
<line x1="82.74" y1="392.22" x2="85.34" y2="392.22" stroke="#7a2050" stroke-width="0.6"/>
<line x1="82.74" y1="394.20" x2="85.34" y2="394.20" stroke="#7a2050" stroke-width="0.6"/>
<line x1="90.77" y1="394.86" x2="90.77" y2="396.84" stroke="#7a2050" stroke-width="0.6"/>
<line x1="89.47" y1="394.86" x2="92.07" y2="394.86" stroke="#7a2050" stroke-width="0.6"/>
<line x1="89.47" y1="396.84" x2="92.07" y2="396.84" stroke="#7a2050" stroke-width="0.6"/>
<line x1="97.50" y1="396.18" x2="97.50" y2="398.16" stroke="#7a2050" stroke-width="0.6"/>
<line x1="96.20" y1="396.18" x2="98.80" y2="396.18" stroke="#7a2050" stroke-width="0.6"/>
<line x1="96.20" y1="398.16" x2="98.80" y2="398.16" stroke="#7a2050" stroke-width="0.6"/>
<line x1="104.24" y1="398.82" x2="104.24" y2="400.80" stroke="#7a2050" stroke-width="0.6"/>
<line x1="102.94" y1="398.82" x2="105.54" y2="398.82" stroke="#7a2050" stroke-width="0.6"/>
<line x1="102.94" y1="400.80" x2="105.54" y2="400.80" stroke="#7a2050" stroke-width="0.6"/>
<line x1="110.97" y1="398.82" x2="110.97" y2="400.80" stroke="#7a2050" stroke-width="0.6"/>
<line x1="109.67" y1="398.82" x2="112.27" y2="398.82" stroke="#7a2050" stroke-width="0.6"/>
<line x1="109.67" y1="400.80" x2="112.27" y2="400.80" stroke="#7a2050" stroke-width="0.6"/>
<line x1="117.70" y1="398.82" x2="117.70" y2="400.80" stroke="#7a2050" stroke-width="0.6"/>
<line x1="116.40" y1="398.82" x2="119.00" y2="398.82" stroke="#7a2050" stroke-width="0.6"/>
<line x1="116.40" y1="400.80" x2="119.00" y2="400.80" stroke="#7a2050" stroke-width="0.6"/>
<circle cx="36.90" cy="396.18" r="1.50" fill="#b03070" stroke="#5a1038" stroke-width="0.7"/>
<circle cx="43.64" cy="396.18" r="1.50" fill="#b03070" stroke="#5a1038" stroke-width="0.7"/>
<circle cx="50.37" cy="396.18" r="1.50" fill="#b03070" stroke="#5a1038" stroke-width="0.7"/>
<circle cx="57.10" cy="396.18" r="1.50" fill="#b03070" stroke="#5a1038" stroke-width="0.7"/>
<circle cx="63.84" cy="397.50" r="1.50" fill="#b03070" stroke="#5a1038" stroke-width="0.7"/>
<circle cx="70.57" cy="397.50" r="1.50" fill="#b03070" stroke="#5a1038" stroke-width="0.7"/>
<circle cx="77.30" cy="397.50" r="1.50" fill="#b03070" stroke="#5a1038" stroke-width="0.7"/>
<circle cx="84.04" cy="393.21" r="1.50" fill="#b03070" stroke="#5a1038" stroke-width="0.7"/>
<circle cx="90.77" cy="395.85" r="1.50" fill="#b03070" stroke="#5a1038" stroke-width="0.7"/>
<circle cx="97.50" cy="397.17" r="1.50" fill="#b03070" stroke="#5a1038" stroke-width="0.7"/>
<circle cx="104.24" cy="399.81" r="1.50" fill="#b03070" stroke="#5a1038" stroke-width="0.7"/>
<circle cx="110.97" cy="399.81" r="1.50" fill="#b03070" stroke="#5a1038" stroke-width="0.7"/>
<circle cx="117.70" cy="399.81" r="1.50" fill="#b03070" stroke="#5a1038" stroke-width="0.7"/>
<line x1="36.90" y1="389.91" x2="36.90" y2="393.21" stroke="#444" stroke-width="0.6"/>
<line x1="35.60" y1="389.91" x2="38.20" y2="389.91" stroke="#444" stroke-width="0.6"/>
<line x1="35.60" y1="393.21" x2="38.20" y2="393.21" stroke="#444" stroke-width="0.6"/>
<line x1="43.64" y1="390.24" x2="43.64" y2="393.54" stroke="#444" stroke-width="0.6"/>
<line x1="42.34" y1="390.24" x2="44.94" y2="390.24" stroke="#444" stroke-width="0.6"/>
<line x1="42.34" y1="393.54" x2="44.94" y2="393.54" stroke="#444" stroke-width="0.6"/>
<line x1="50.37" y1="389.91" x2="50.37" y2="393.21" stroke="#444" stroke-width="0.6"/>
<line x1="49.07" y1="389.91" x2="51.67" y2="389.91" stroke="#444" stroke-width="0.6"/>
<line x1="49.07" y1="393.21" x2="51.67" y2="393.21" stroke="#444" stroke-width="0.6"/>
<line x1="57.10" y1="389.91" x2="57.10" y2="393.21" stroke="#444" stroke-width="0.6"/>
<line x1="55.80" y1="389.91" x2="58.40" y2="389.91" stroke="#444" stroke-width="0.6"/>
<line x1="55.80" y1="393.21" x2="58.40" y2="393.21" stroke="#444" stroke-width="0.6"/>
<line x1="63.84" y1="394.53" x2="63.84" y2="397.17" stroke="#444" stroke-width="0.6"/>
<line x1="62.54" y1="394.53" x2="65.14" y2="394.53" stroke="#444" stroke-width="0.6"/>
<line x1="62.54" y1="397.17" x2="65.14" y2="397.17" stroke="#444" stroke-width="0.6"/>
<line x1="70.57" y1="394.53" x2="70.57" y2="397.17" stroke="#444" stroke-width="0.6"/>
<line x1="69.27" y1="394.53" x2="71.87" y2="394.53" stroke="#444" stroke-width="0.6"/>
<line x1="69.27" y1="397.17" x2="71.87" y2="397.17" stroke="#444" stroke-width="0.6"/>
<line x1="77.30" y1="393.87" x2="77.30" y2="396.51" stroke="#444" stroke-width="0.6"/>
<line x1="76.00" y1="393.87" x2="78.60" y2="393.87" stroke="#444" stroke-width="0.6"/>
<line x1="76.00" y1="396.51" x2="78.60" y2="396.51" stroke="#444" stroke-width="0.6"/>
<line x1="84.04" y1="383.31" x2="84.04" y2="389.91" stroke="#444" stroke-width="0.6"/>
<line x1="82.74" y1="383.31" x2="85.34" y2="383.31" stroke="#444" stroke-width="0.6"/>
<line x1="82.74" y1="389.91" x2="85.34" y2="389.91" stroke="#444" stroke-width="0.6"/>
<line x1="90.77" y1="392.55" x2="90.77" y2="395.85" stroke="#444" stroke-width="0.6"/>
<line x1="89.47" y1="392.55" x2="92.07" y2="392.55" stroke="#444" stroke-width="0.6"/>
<line x1="89.47" y1="395.85" x2="92.07" y2="395.85" stroke="#444" stroke-width="0.6"/>
<line x1="97.50" y1="395.52" x2="97.50" y2="398.16" stroke="#444" stroke-width="0.6"/>
<line x1="96.20" y1="395.52" x2="98.80" y2="395.52" stroke="#444" stroke-width="0.6"/>
<line x1="96.20" y1="398.16" x2="98.80" y2="398.16" stroke="#444" stroke-width="0.6"/>
<line x1="104.24" y1="399.15" x2="104.24" y2="401.13" stroke="#444" stroke-width="0.6"/>
<line x1="102.94" y1="399.15" x2="105.54" y2="399.15" stroke="#444" stroke-width="0.6"/>
<line x1="102.94" y1="401.13" x2="105.54" y2="401.13" stroke="#444" stroke-width="0.6"/>
<line x1="110.97" y1="399.15" x2="110.97" y2="401.13" stroke="#444" stroke-width="0.6"/>
<line x1="109.67" y1="399.15" x2="112.27" y2="399.15" stroke="#444" stroke-width="0.6"/>
<line x1="109.67" y1="401.13" x2="112.27" y2="401.13" stroke="#444" stroke-width="0.6"/>
<line x1="117.70" y1="399.15" x2="117.70" y2="401.13" stroke="#444" stroke-width="0.6"/>
<line x1="116.40" y1="399.15" x2="119.00" y2="399.15" stroke="#444" stroke-width="0.6"/>
<line x1="116.40" y1="401.13" x2="119.00" y2="401.13" stroke="#444" stroke-width="0.6"/>
<circle cx="36.90" cy="391.56" r="1.50" fill="#ffffff" stroke="#444" stroke-width="0.7"/>
<circle cx="43.64" cy="391.89" r="1.50" fill="#ffffff" stroke="#444" stroke-width="0.7"/>
<circle cx="50.37" cy="391.56" r="1.50" fill="#ffffff" stroke="#444" stroke-width="0.7"/>
<circle cx="57.10" cy="391.56" r="1.50" fill="#ffffff" stroke="#444" stroke-width="0.7"/>
<circle cx="63.84" cy="395.85" r="1.50" fill="#ffffff" stroke="#444" stroke-width="0.7"/>
<circle cx="70.57" cy="395.85" r="1.50" fill="#ffffff" stroke="#444" stroke-width="0.7"/>
<circle cx="77.30" cy="395.19" r="1.50" fill="#ffffff" stroke="#444" stroke-width="0.7"/>
<circle cx="84.04" cy="386.61" r="1.50" fill="#ffffff" stroke="#444" stroke-width="0.7"/>
<circle cx="90.77" cy="394.20" r="1.50" fill="#ffffff" stroke="#444" stroke-width="0.7"/>
<circle cx="97.50" cy="396.84" r="1.50" fill="#ffffff" stroke="#444" stroke-width="0.7"/>
<circle cx="104.24" cy="400.14" r="1.50" fill="#ffffff" stroke="#444" stroke-width="0.7"/>
<circle cx="110.97" cy="400.14" r="1.50" fill="#ffffff" stroke="#444" stroke-width="0.7"/>
<circle cx="117.70" cy="400.14" r="1.50" fill="#ffffff" stroke="#444" stroke-width="0.7"/>
<line x1="36.90" y1="369.45" x2="36.90" y2="381.33" stroke="#333" stroke-width="0.6"/>
<line x1="35.60" y1="369.45" x2="38.20" y2="369.45" stroke="#333" stroke-width="0.6"/>
<line x1="35.60" y1="381.33" x2="38.20" y2="381.33" stroke="#333" stroke-width="0.6"/>
<line x1="43.64" y1="369.12" x2="43.64" y2="382.32" stroke="#333" stroke-width="0.6"/>
<line x1="42.34" y1="369.12" x2="44.94" y2="369.12" stroke="#333" stroke-width="0.6"/>
<line x1="42.34" y1="382.32" x2="44.94" y2="382.32" stroke="#333" stroke-width="0.6"/>
<line x1="50.37" y1="368.79" x2="50.37" y2="380.67" stroke="#333" stroke-width="0.6"/>
<line x1="49.07" y1="368.79" x2="51.67" y2="368.79" stroke="#333" stroke-width="0.6"/>
<line x1="49.07" y1="380.67" x2="51.67" y2="380.67" stroke="#333" stroke-width="0.6"/>
<line x1="57.10" y1="367.80" x2="57.10" y2="381.00" stroke="#333" stroke-width="0.6"/>
<line x1="55.80" y1="367.80" x2="58.40" y2="367.80" stroke="#333" stroke-width="0.6"/>
<line x1="55.80" y1="381.00" x2="58.40" y2="381.00" stroke="#333" stroke-width="0.6"/>
<line x1="63.84" y1="387.60" x2="63.84" y2="392.88" stroke="#333" stroke-width="0.6"/>
<line x1="62.54" y1="387.60" x2="65.14" y2="387.60" stroke="#333" stroke-width="0.6"/>
<line x1="62.54" y1="392.88" x2="65.14" y2="392.88" stroke="#333" stroke-width="0.6"/>
<line x1="70.57" y1="386.28" x2="70.57" y2="392.88" stroke="#333" stroke-width="0.6"/>
<line x1="69.27" y1="386.28" x2="71.87" y2="386.28" stroke="#333" stroke-width="0.6"/>
<line x1="69.27" y1="392.88" x2="71.87" y2="392.88" stroke="#333" stroke-width="0.6"/>
<line x1="77.30" y1="384.30" x2="77.30" y2="392.22" stroke="#333" stroke-width="0.6"/>
<line x1="76.00" y1="384.30" x2="78.60" y2="384.30" stroke="#333" stroke-width="0.6"/>
<line x1="76.00" y1="392.22" x2="78.60" y2="392.22" stroke="#333" stroke-width="0.6"/>
<line x1="84.04" y1="348.99" x2="84.04" y2="368.79" stroke="#333" stroke-width="0.6"/>
<line x1="82.74" y1="348.99" x2="85.34" y2="348.99" stroke="#333" stroke-width="0.6"/>
<line x1="82.74" y1="368.79" x2="85.34" y2="368.79" stroke="#333" stroke-width="0.6"/>
<line x1="90.77" y1="372.75" x2="90.77" y2="379.35" stroke="#333" stroke-width="0.6"/>
<line x1="89.47" y1="372.75" x2="92.07" y2="372.75" stroke="#333" stroke-width="0.6"/>
<line x1="89.47" y1="379.35" x2="92.07" y2="379.35" stroke="#333" stroke-width="0.6"/>
<line x1="97.50" y1="381.00" x2="97.50" y2="386.28" stroke="#333" stroke-width="0.6"/>
<line x1="96.20" y1="381.00" x2="98.80" y2="381.00" stroke="#333" stroke-width="0.6"/>
<line x1="96.20" y1="386.28" x2="98.80" y2="386.28" stroke="#333" stroke-width="0.6"/>
<line x1="104.24" y1="396.18" x2="104.24" y2="399.48" stroke="#333" stroke-width="0.6"/>
<line x1="102.94" y1="396.18" x2="105.54" y2="396.18" stroke="#333" stroke-width="0.6"/>
<line x1="102.94" y1="399.48" x2="105.54" y2="399.48" stroke="#333" stroke-width="0.6"/>
<line x1="110.97" y1="396.51" x2="110.97" y2="399.81" stroke="#333" stroke-width="0.6"/>
<line x1="109.67" y1="396.51" x2="112.27" y2="396.51" stroke="#333" stroke-width="0.6"/>
<line x1="109.67" y1="399.81" x2="112.27" y2="399.81" stroke="#333" stroke-width="0.6"/>
<line x1="117.70" y1="396.51" x2="117.70" y2="399.81" stroke="#333" stroke-width="0.6"/>
<line x1="116.40" y1="396.51" x2="119.00" y2="396.51" stroke="#333" stroke-width="0.6"/>
<line x1="116.40" y1="399.81" x2="119.00" y2="399.81" stroke="#333" stroke-width="0.6"/>
<circle cx="36.90" cy="375.39" r="1.50" fill="#3a3a3a" stroke="#111" stroke-width="0.7"/>
<circle cx="43.64" cy="375.72" r="1.50" fill="#3a3a3a" stroke="#111" stroke-width="0.7"/>
<circle cx="50.37" cy="374.73" r="1.50" fill="#3a3a3a" stroke="#111" stroke-width="0.7"/>
<circle cx="57.10" cy="374.40" r="1.50" fill="#3a3a3a" stroke="#111" stroke-width="0.7"/>
<circle cx="63.84" cy="390.24" r="1.50" fill="#3a3a3a" stroke="#111" stroke-width="0.7"/>
<circle cx="70.57" cy="389.58" r="1.50" fill="#3a3a3a" stroke="#111" stroke-width="0.7"/>
<circle cx="77.30" cy="388.26" r="1.50" fill="#3a3a3a" stroke="#111" stroke-width="0.7"/>
<circle cx="84.04" cy="358.89" r="1.50" fill="#3a3a3a" stroke="#111" stroke-width="0.7"/>
<circle cx="90.77" cy="376.05" r="1.50" fill="#3a3a3a" stroke="#111" stroke-width="0.7"/>
<circle cx="97.50" cy="383.64" r="1.50" fill="#3a3a3a" stroke="#111" stroke-width="0.7"/>
<circle cx="104.24" cy="397.83" r="1.50" fill="#3a3a3a" stroke="#111" stroke-width="0.7"/>
<circle cx="110.97" cy="398.16" r="1.50" fill="#3a3a3a" stroke="#111" stroke-width="0.7"/>
<circle cx="117.70" cy="398.16" r="1.50" fill="#3a3a3a" stroke="#111" stroke-width="0.7"/>
<line x1="36.40" y1="335.50" x2="36.40" y2="404.60" stroke="#111" stroke-width="1.1"/>
<line x1="35.90" y1="404.10" x2="129.30" y2="404.10" stroke="#111" stroke-width="1.1"/>
<line x1="33.40" y1="404.10" x2="36.40" y2="404.10" stroke="#111" stroke-width="0.8"/>
<text x="30.80" y="406.40" font-size="6.3" fill="#222" text-anchor="end">0</text>
<line x1="33.40" y1="371.10" x2="36.40" y2="371.10" stroke="#111" stroke-width="0.8"/>
<text x="30.80" y="373.40" font-size="6.3" fill="#222" text-anchor="end">100</text>
<line x1="33.40" y1="338.10" x2="36.40" y2="338.10" stroke="#111" stroke-width="0.8"/>
<text x="30.80" y="340.40" font-size="6.3" fill="#222" text-anchor="end">200</text>
<line x1="36.40" y1="404.10" x2="36.40" y2="406.30" stroke="#111" stroke-width="0.8"/>
<text x="36.40" y="416.10" font-size="6.3" fill="#222" text-anchor="middle">0</text>
<line x1="56.50" y1="404.10" x2="56.50" y2="406.30" stroke="#111" stroke-width="0.8"/>
<text x="56.50" y="416.10" font-size="6.3" fill="#222" text-anchor="middle">20</text>
<line x1="76.60" y1="404.10" x2="76.60" y2="406.30" stroke="#111" stroke-width="0.8"/>
<text x="76.60" y="416.10" font-size="6.3" fill="#222" text-anchor="middle">40</text>
<line x1="96.70" y1="404.10" x2="96.70" y2="406.30" stroke="#111" stroke-width="0.8"/>
<text x="96.70" y="416.10" font-size="6.3" fill="#222" text-anchor="middle">60</text>
<line x1="116.80" y1="404.10" x2="116.80" y2="406.30" stroke="#111" stroke-width="0.8"/>
<text x="116.80" y="416.10" font-size="6.3" fill="#222" text-anchor="middle">80</text>
<text x="13.70" y="369.50" font-size="7" fill="#222" text-anchor="middle" textLength="51.3" lengthAdjust="spacingAndGlyphs" transform="rotate(-90 13.7 369.5)">OCR (pmol/min)</text>
<line x1="56.20" y1="426.20" x2="62.20" y2="426.20" stroke="#555" stroke-width="0.7"/>
<circle cx="59.20" cy="426.20" r="1.30" fill="#3a3a3a" stroke="#111" stroke-width="0.6"/>
<text x="65.50" y="428.40" font-size="6.4" fill="#222">sg2 TRMT5<tspan dy="-2.4" font-size="3.6">WT</tspan><tspan dy="2.4"></tspan></text>
<line x1="56.20" y1="436.60" x2="62.20" y2="436.60" stroke="#777" stroke-width="0.7"/>
<circle cx="59.20" cy="436.60" r="1.30" fill="#ffffff" stroke="#444" stroke-width="0.6"/>
<text x="65.50" y="438.80" font-size="6.4" fill="#222">sg2 TRMT5<tspan dy="-2.4" font-size="3.6">Mut</tspan><tspan dy="2.4"></tspan></text>
<line x1="56.20" y1="446.00" x2="62.20" y2="446.00" stroke="#d04a8a" stroke-width="0.7"/>
<circle cx="59.20" cy="446.00" r="1.30" fill="#b03070" stroke="#5a1038" stroke-width="0.6"/>
<text x="65.50" y="448.20" font-size="6.4" fill="#222">sg2 EV</text>
<line x1="180.56" y1="341.20" x2="180.56" y2="403.30" stroke="#a0a0a0" stroke-width="0.7" stroke-dasharray="1.6,1.4"/>
<path d="M178.36,335.20 L182.76,335.20 L180.56,342.90 Z" fill="#000"/>
<text x="156.20" y="331.80" font-size="6.3" fill="#1a1a1a" textLength="32.60000000000002" lengthAdjust="spacingAndGlyphs">Oligomycin</text>
<line x1="200.80" y1="341.20" x2="200.80" y2="403.30" stroke="#a0a0a0" stroke-width="0.7" stroke-dasharray="1.6,1.4"/>
<path d="M198.60,335.20 L203.00,335.20 L200.80,342.90 Z" fill="#000"/>
<text x="192.00" y="331.80" font-size="6.3" fill="#1a1a1a" textLength="15.5" lengthAdjust="spacingAndGlyphs">FCCP</text>
<line x1="221.15" y1="341.20" x2="221.15" y2="403.30" stroke="#a0a0a0" stroke-width="0.7" stroke-dasharray="1.6,1.4"/>
<path d="M218.95,335.20 L223.35,335.20 L221.15,342.90 Z" fill="#000"/>
<text x="217.00" y="331.80" font-size="6.3" fill="#1a1a1a" textLength="20.5" lengthAdjust="spacingAndGlyphs">Rot/AA</text>
<path d="M156.83,399.18 L163.59,399.18 L170.35,399.18 L177.11,399.18 L183.87,399.67 L190.63,399.67 L197.39,399.67 L204.15,398.35 L210.92,399.18 L217.68,399.67 L224.44,401.65 L231.20,401.65 L237.96,401.65" stroke="#d04a8a" stroke-width="0.8" fill="none"/>
<path d="M156.83,398.85 L163.59,398.85 L170.35,398.68 L177.11,398.68 L183.87,399.18 L190.63,399.18 L197.39,398.35 L204.15,392.91 L210.92,396.70 L217.68,398.68 L224.44,401.65 L231.20,401.65 L237.96,401.65" stroke="#e8c860" stroke-width="0.8" fill="none"/>
<path d="M156.83,388.78 L163.59,388.78 L170.35,388.78 L177.11,388.78 L183.87,396.70 L190.63,396.70 L197.39,395.88 L204.15,381.36 L210.92,389.44 L217.68,393.73 L224.44,401.32 L231.20,401.32 L237.96,401.32" stroke="#555" stroke-width="0.8" fill="none"/>
<path d="M156.83,377.73 L163.59,377.73 L170.35,377.23 L177.11,375.91 L183.87,388.78 L190.63,389.94 L197.39,389.94 L204.15,347.53 L210.92,367.50 L217.68,377.39 L224.44,396.20 L231.20,397.36 L237.96,397.36" stroke="#444" stroke-width="0.8" fill="none"/>
<line x1="156.83" y1="398.68" x2="156.83" y2="399.67" stroke="#7a2050" stroke-width="0.6"/>
<line x1="155.53" y1="398.68" x2="158.13" y2="398.68" stroke="#7a2050" stroke-width="0.6"/>
<line x1="155.53" y1="399.67" x2="158.13" y2="399.67" stroke="#7a2050" stroke-width="0.6"/>
<line x1="163.59" y1="398.68" x2="163.59" y2="399.67" stroke="#7a2050" stroke-width="0.6"/>
<line x1="162.29" y1="398.68" x2="164.89" y2="398.68" stroke="#7a2050" stroke-width="0.6"/>
<line x1="162.29" y1="399.67" x2="164.89" y2="399.67" stroke="#7a2050" stroke-width="0.6"/>
<line x1="170.35" y1="398.68" x2="170.35" y2="399.67" stroke="#7a2050" stroke-width="0.6"/>
<line x1="169.05" y1="398.68" x2="171.65" y2="398.68" stroke="#7a2050" stroke-width="0.6"/>
<line x1="169.05" y1="399.67" x2="171.65" y2="399.67" stroke="#7a2050" stroke-width="0.6"/>
<line x1="177.11" y1="398.68" x2="177.11" y2="399.67" stroke="#7a2050" stroke-width="0.6"/>
<line x1="175.81" y1="398.68" x2="178.41" y2="398.68" stroke="#7a2050" stroke-width="0.6"/>
<line x1="175.81" y1="399.67" x2="178.41" y2="399.67" stroke="#7a2050" stroke-width="0.6"/>
<line x1="183.87" y1="399.18" x2="183.87" y2="400.17" stroke="#7a2050" stroke-width="0.6"/>
<line x1="182.57" y1="399.18" x2="185.17" y2="399.18" stroke="#7a2050" stroke-width="0.6"/>
<line x1="182.57" y1="400.17" x2="185.17" y2="400.17" stroke="#7a2050" stroke-width="0.6"/>
<line x1="190.63" y1="399.18" x2="190.63" y2="400.17" stroke="#7a2050" stroke-width="0.6"/>
<line x1="189.33" y1="399.18" x2="191.93" y2="399.18" stroke="#7a2050" stroke-width="0.6"/>
<line x1="189.33" y1="400.17" x2="191.93" y2="400.17" stroke="#7a2050" stroke-width="0.6"/>
<line x1="197.39" y1="399.18" x2="197.39" y2="400.17" stroke="#7a2050" stroke-width="0.6"/>
<line x1="196.09" y1="399.18" x2="198.69" y2="399.18" stroke="#7a2050" stroke-width="0.6"/>
<line x1="196.09" y1="400.17" x2="198.69" y2="400.17" stroke="#7a2050" stroke-width="0.6"/>
<line x1="204.15" y1="397.86" x2="204.15" y2="398.85" stroke="#7a2050" stroke-width="0.6"/>
<line x1="202.85" y1="397.86" x2="205.45" y2="397.86" stroke="#7a2050" stroke-width="0.6"/>
<line x1="202.85" y1="398.85" x2="205.45" y2="398.85" stroke="#7a2050" stroke-width="0.6"/>
<line x1="210.92" y1="398.68" x2="210.92" y2="399.67" stroke="#7a2050" stroke-width="0.6"/>
<line x1="209.62" y1="398.68" x2="212.22" y2="398.68" stroke="#7a2050" stroke-width="0.6"/>
<line x1="209.62" y1="399.67" x2="212.22" y2="399.67" stroke="#7a2050" stroke-width="0.6"/>
<line x1="217.68" y1="399.18" x2="217.68" y2="400.17" stroke="#7a2050" stroke-width="0.6"/>
<line x1="216.38" y1="399.18" x2="218.98" y2="399.18" stroke="#7a2050" stroke-width="0.6"/>
<line x1="216.38" y1="400.17" x2="218.98" y2="400.17" stroke="#7a2050" stroke-width="0.6"/>
<line x1="224.44" y1="401.16" x2="224.44" y2="402.15" stroke="#7a2050" stroke-width="0.6"/>
<line x1="223.14" y1="401.16" x2="225.74" y2="401.16" stroke="#7a2050" stroke-width="0.6"/>
<line x1="223.14" y1="402.15" x2="225.74" y2="402.15" stroke="#7a2050" stroke-width="0.6"/>
<line x1="231.20" y1="401.16" x2="231.20" y2="402.15" stroke="#7a2050" stroke-width="0.6"/>
<line x1="229.90" y1="401.16" x2="232.50" y2="401.16" stroke="#7a2050" stroke-width="0.6"/>
<line x1="229.90" y1="402.15" x2="232.50" y2="402.15" stroke="#7a2050" stroke-width="0.6"/>
<line x1="237.96" y1="401.16" x2="237.96" y2="402.15" stroke="#7a2050" stroke-width="0.6"/>
<line x1="236.66" y1="401.16" x2="239.26" y2="401.16" stroke="#7a2050" stroke-width="0.6"/>
<line x1="236.66" y1="402.15" x2="239.26" y2="402.15" stroke="#7a2050" stroke-width="0.6"/>
<circle cx="156.83" cy="399.18" r="1.50" fill="#b03070" stroke="#5a1038" stroke-width="0.7"/>
<circle cx="163.59" cy="399.18" r="1.50" fill="#b03070" stroke="#5a1038" stroke-width="0.7"/>
<circle cx="170.35" cy="399.18" r="1.50" fill="#b03070" stroke="#5a1038" stroke-width="0.7"/>
<circle cx="177.11" cy="399.18" r="1.50" fill="#b03070" stroke="#5a1038" stroke-width="0.7"/>
<circle cx="183.87" cy="399.67" r="1.50" fill="#b03070" stroke="#5a1038" stroke-width="0.7"/>
<circle cx="190.63" cy="399.67" r="1.50" fill="#b03070" stroke="#5a1038" stroke-width="0.7"/>
<circle cx="197.39" cy="399.67" r="1.50" fill="#b03070" stroke="#5a1038" stroke-width="0.7"/>
<circle cx="204.15" cy="398.35" r="1.50" fill="#b03070" stroke="#5a1038" stroke-width="0.7"/>
<circle cx="210.92" cy="399.18" r="1.50" fill="#b03070" stroke="#5a1038" stroke-width="0.7"/>
<circle cx="217.68" cy="399.67" r="1.50" fill="#b03070" stroke="#5a1038" stroke-width="0.7"/>
<circle cx="224.44" cy="401.65" r="1.50" fill="#b03070" stroke="#5a1038" stroke-width="0.7"/>
<circle cx="231.20" cy="401.65" r="1.50" fill="#b03070" stroke="#5a1038" stroke-width="0.7"/>
<circle cx="237.96" cy="401.65" r="1.50" fill="#b03070" stroke="#5a1038" stroke-width="0.7"/>
<line x1="156.83" y1="398.19" x2="156.83" y2="399.50" stroke="#6a5a20" stroke-width="0.6"/>
<line x1="155.53" y1="398.19" x2="158.13" y2="398.19" stroke="#6a5a20" stroke-width="0.6"/>
<line x1="155.53" y1="399.50" x2="158.13" y2="399.50" stroke="#6a5a20" stroke-width="0.6"/>
<line x1="163.59" y1="398.19" x2="163.59" y2="399.50" stroke="#6a5a20" stroke-width="0.6"/>
<line x1="162.29" y1="398.19" x2="164.89" y2="398.19" stroke="#6a5a20" stroke-width="0.6"/>
<line x1="162.29" y1="399.50" x2="164.89" y2="399.50" stroke="#6a5a20" stroke-width="0.6"/>
<line x1="170.35" y1="398.02" x2="170.35" y2="399.34" stroke="#6a5a20" stroke-width="0.6"/>
<line x1="169.05" y1="398.02" x2="171.65" y2="398.02" stroke="#6a5a20" stroke-width="0.6"/>
<line x1="169.05" y1="399.34" x2="171.65" y2="399.34" stroke="#6a5a20" stroke-width="0.6"/>
<line x1="177.11" y1="398.02" x2="177.11" y2="399.34" stroke="#6a5a20" stroke-width="0.6"/>
<line x1="175.81" y1="398.02" x2="178.41" y2="398.02" stroke="#6a5a20" stroke-width="0.6"/>
<line x1="175.81" y1="399.34" x2="178.41" y2="399.34" stroke="#6a5a20" stroke-width="0.6"/>
<line x1="183.87" y1="398.51" x2="183.87" y2="399.84" stroke="#6a5a20" stroke-width="0.6"/>
<line x1="182.57" y1="398.51" x2="185.17" y2="398.51" stroke="#6a5a20" stroke-width="0.6"/>
<line x1="182.57" y1="399.84" x2="185.17" y2="399.84" stroke="#6a5a20" stroke-width="0.6"/>
<line x1="190.63" y1="398.51" x2="190.63" y2="399.84" stroke="#6a5a20" stroke-width="0.6"/>
<line x1="189.33" y1="398.51" x2="191.93" y2="398.51" stroke="#6a5a20" stroke-width="0.6"/>
<line x1="189.33" y1="399.84" x2="191.93" y2="399.84" stroke="#6a5a20" stroke-width="0.6"/>
<line x1="197.39" y1="397.69" x2="197.39" y2="399.01" stroke="#6a5a20" stroke-width="0.6"/>
<line x1="196.09" y1="397.69" x2="198.69" y2="397.69" stroke="#6a5a20" stroke-width="0.6"/>
<line x1="196.09" y1="399.01" x2="198.69" y2="399.01" stroke="#6a5a20" stroke-width="0.6"/>
<line x1="204.15" y1="391.25" x2="204.15" y2="394.56" stroke="#6a5a20" stroke-width="0.6"/>
<line x1="202.85" y1="391.25" x2="205.45" y2="391.25" stroke="#6a5a20" stroke-width="0.6"/>
<line x1="202.85" y1="394.56" x2="205.45" y2="394.56" stroke="#6a5a20" stroke-width="0.6"/>
<line x1="210.92" y1="396.04" x2="210.92" y2="397.36" stroke="#6a5a20" stroke-width="0.6"/>
<line x1="209.62" y1="396.04" x2="212.22" y2="396.04" stroke="#6a5a20" stroke-width="0.6"/>
<line x1="209.62" y1="397.36" x2="212.22" y2="397.36" stroke="#6a5a20" stroke-width="0.6"/>
<line x1="217.68" y1="398.02" x2="217.68" y2="399.34" stroke="#6a5a20" stroke-width="0.6"/>
<line x1="216.38" y1="398.02" x2="218.98" y2="398.02" stroke="#6a5a20" stroke-width="0.6"/>
<line x1="216.38" y1="399.34" x2="218.98" y2="399.34" stroke="#6a5a20" stroke-width="0.6"/>
<line x1="224.44" y1="400.99" x2="224.44" y2="402.31" stroke="#6a5a20" stroke-width="0.6"/>
<line x1="223.14" y1="400.99" x2="225.74" y2="400.99" stroke="#6a5a20" stroke-width="0.6"/>
<line x1="223.14" y1="402.31" x2="225.74" y2="402.31" stroke="#6a5a20" stroke-width="0.6"/>
<line x1="231.20" y1="400.99" x2="231.20" y2="402.31" stroke="#6a5a20" stroke-width="0.6"/>
<line x1="229.90" y1="400.99" x2="232.50" y2="400.99" stroke="#6a5a20" stroke-width="0.6"/>
<line x1="229.90" y1="402.31" x2="232.50" y2="402.31" stroke="#6a5a20" stroke-width="0.6"/>
<line x1="237.96" y1="400.99" x2="237.96" y2="402.31" stroke="#6a5a20" stroke-width="0.6"/>
<line x1="236.66" y1="400.99" x2="239.26" y2="400.99" stroke="#6a5a20" stroke-width="0.6"/>
<line x1="236.66" y1="402.31" x2="239.26" y2="402.31" stroke="#6a5a20" stroke-width="0.6"/>
<circle cx="156.83" cy="398.85" r="1.50" fill="#e0c050" stroke="#6a5010" stroke-width="0.7"/>
<circle cx="163.59" cy="398.85" r="1.50" fill="#e0c050" stroke="#6a5010" stroke-width="0.7"/>
<circle cx="170.35" cy="398.68" r="1.50" fill="#e0c050" stroke="#6a5010" stroke-width="0.7"/>
<circle cx="177.11" cy="398.68" r="1.50" fill="#e0c050" stroke="#6a5010" stroke-width="0.7"/>
<circle cx="183.87" cy="399.18" r="1.50" fill="#e0c050" stroke="#6a5010" stroke-width="0.7"/>
<circle cx="190.63" cy="399.18" r="1.50" fill="#e0c050" stroke="#6a5010" stroke-width="0.7"/>
<circle cx="197.39" cy="398.35" r="1.50" fill="#e0c050" stroke="#6a5010" stroke-width="0.7"/>
<circle cx="204.15" cy="392.91" r="1.50" fill="#e0c050" stroke="#6a5010" stroke-width="0.7"/>
<circle cx="210.92" cy="396.70" r="1.50" fill="#e0c050" stroke="#6a5010" stroke-width="0.7"/>
<circle cx="217.68" cy="398.68" r="1.50" fill="#e0c050" stroke="#6a5010" stroke-width="0.7"/>
<circle cx="224.44" cy="401.65" r="1.50" fill="#e0c050" stroke="#6a5010" stroke-width="0.7"/>
<circle cx="231.20" cy="401.65" r="1.50" fill="#e0c050" stroke="#6a5010" stroke-width="0.7"/>
<circle cx="237.96" cy="401.65" r="1.50" fill="#e0c050" stroke="#6a5010" stroke-width="0.7"/>
<line x1="156.83" y1="386.31" x2="156.83" y2="391.25" stroke="#333" stroke-width="0.6"/>
<line x1="155.53" y1="386.31" x2="158.13" y2="386.31" stroke="#333" stroke-width="0.6"/>
<line x1="155.53" y1="391.25" x2="158.13" y2="391.25" stroke="#333" stroke-width="0.6"/>
<line x1="163.59" y1="386.31" x2="163.59" y2="391.25" stroke="#333" stroke-width="0.6"/>
<line x1="162.29" y1="386.31" x2="164.89" y2="386.31" stroke="#333" stroke-width="0.6"/>
<line x1="162.29" y1="391.25" x2="164.89" y2="391.25" stroke="#333" stroke-width="0.6"/>
<line x1="170.35" y1="386.31" x2="170.35" y2="391.25" stroke="#333" stroke-width="0.6"/>
<line x1="169.05" y1="386.31" x2="171.65" y2="386.31" stroke="#333" stroke-width="0.6"/>
<line x1="169.05" y1="391.25" x2="171.65" y2="391.25" stroke="#333" stroke-width="0.6"/>
<line x1="177.11" y1="386.31" x2="177.11" y2="391.25" stroke="#333" stroke-width="0.6"/>
<line x1="175.81" y1="386.31" x2="178.41" y2="386.31" stroke="#333" stroke-width="0.6"/>
<line x1="175.81" y1="391.25" x2="178.41" y2="391.25" stroke="#333" stroke-width="0.6"/>
<line x1="183.87" y1="395.38" x2="183.87" y2="398.02" stroke="#333" stroke-width="0.6"/>
<line x1="182.57" y1="395.38" x2="185.17" y2="395.38" stroke="#333" stroke-width="0.6"/>
<line x1="182.57" y1="398.02" x2="185.17" y2="398.02" stroke="#333" stroke-width="0.6"/>
<line x1="190.63" y1="395.38" x2="190.63" y2="398.02" stroke="#333" stroke-width="0.6"/>
<line x1="189.33" y1="395.38" x2="191.93" y2="395.38" stroke="#333" stroke-width="0.6"/>
<line x1="189.33" y1="398.02" x2="191.93" y2="398.02" stroke="#333" stroke-width="0.6"/>
<line x1="197.39" y1="394.56" x2="197.39" y2="397.19" stroke="#333" stroke-width="0.6"/>
<line x1="196.09" y1="394.56" x2="198.69" y2="394.56" stroke="#333" stroke-width="0.6"/>
<line x1="196.09" y1="397.19" x2="198.69" y2="397.19" stroke="#333" stroke-width="0.6"/>
<line x1="204.15" y1="378.06" x2="204.15" y2="384.66" stroke="#333" stroke-width="0.6"/>
<line x1="202.85" y1="378.06" x2="205.45" y2="378.06" stroke="#333" stroke-width="0.6"/>
<line x1="202.85" y1="384.66" x2="205.45" y2="384.66" stroke="#333" stroke-width="0.6"/>
<line x1="210.92" y1="387.79" x2="210.92" y2="391.09" stroke="#333" stroke-width="0.6"/>
<line x1="209.62" y1="387.79" x2="212.22" y2="387.79" stroke="#333" stroke-width="0.6"/>
<line x1="209.62" y1="391.09" x2="212.22" y2="391.09" stroke="#333" stroke-width="0.6"/>
<line x1="217.68" y1="392.41" x2="217.68" y2="395.05" stroke="#333" stroke-width="0.6"/>
<line x1="216.38" y1="392.41" x2="218.98" y2="392.41" stroke="#333" stroke-width="0.6"/>
<line x1="216.38" y1="395.05" x2="218.98" y2="395.05" stroke="#333" stroke-width="0.6"/>
<line x1="224.44" y1="400.82" x2="224.44" y2="401.81" stroke="#333" stroke-width="0.6"/>
<line x1="223.14" y1="400.82" x2="225.74" y2="400.82" stroke="#333" stroke-width="0.6"/>
<line x1="223.14" y1="401.81" x2="225.74" y2="401.81" stroke="#333" stroke-width="0.6"/>
<line x1="231.20" y1="400.82" x2="231.20" y2="401.81" stroke="#333" stroke-width="0.6"/>
<line x1="229.90" y1="400.82" x2="232.50" y2="400.82" stroke="#333" stroke-width="0.6"/>
<line x1="229.90" y1="401.81" x2="232.50" y2="401.81" stroke="#333" stroke-width="0.6"/>
<line x1="237.96" y1="400.82" x2="237.96" y2="401.81" stroke="#333" stroke-width="0.6"/>
<line x1="236.66" y1="400.82" x2="239.26" y2="400.82" stroke="#333" stroke-width="0.6"/>
<line x1="236.66" y1="401.81" x2="239.26" y2="401.81" stroke="#333" stroke-width="0.6"/>
<circle cx="156.83" cy="388.78" r="1.50" fill="#3a3a3a" stroke="#111" stroke-width="0.7"/>
<circle cx="163.59" cy="388.78" r="1.50" fill="#3a3a3a" stroke="#111" stroke-width="0.7"/>
<circle cx="170.35" cy="388.78" r="1.50" fill="#3a3a3a" stroke="#111" stroke-width="0.7"/>
<circle cx="177.11" cy="388.78" r="1.50" fill="#3a3a3a" stroke="#111" stroke-width="0.7"/>
<circle cx="183.87" cy="396.70" r="1.50" fill="#3a3a3a" stroke="#111" stroke-width="0.7"/>
<circle cx="190.63" cy="396.70" r="1.50" fill="#3a3a3a" stroke="#111" stroke-width="0.7"/>
<circle cx="197.39" cy="395.88" r="1.50" fill="#3a3a3a" stroke="#111" stroke-width="0.7"/>
<circle cx="204.15" cy="381.36" r="1.50" fill="#3a3a3a" stroke="#111" stroke-width="0.7"/>
<circle cx="210.92" cy="389.44" r="1.50" fill="#3a3a3a" stroke="#111" stroke-width="0.7"/>
<circle cx="217.68" cy="393.73" r="1.50" fill="#3a3a3a" stroke="#111" stroke-width="0.7"/>
<circle cx="224.44" cy="401.32" r="1.50" fill="#3a3a3a" stroke="#111" stroke-width="0.7"/>
<circle cx="231.20" cy="401.32" r="1.50" fill="#3a3a3a" stroke="#111" stroke-width="0.7"/>
<circle cx="237.96" cy="401.32" r="1.50" fill="#3a3a3a" stroke="#111" stroke-width="0.7"/>
<line x1="156.83" y1="375.25" x2="156.83" y2="380.20" stroke="#333" stroke-width="0.6"/>
<line x1="155.53" y1="375.25" x2="158.13" y2="375.25" stroke="#333" stroke-width="0.6"/>
<line x1="155.53" y1="380.20" x2="158.13" y2="380.20" stroke="#333" stroke-width="0.6"/>
<line x1="163.59" y1="375.25" x2="163.59" y2="380.20" stroke="#333" stroke-width="0.6"/>
<line x1="162.29" y1="375.25" x2="164.89" y2="375.25" stroke="#333" stroke-width="0.6"/>
<line x1="162.29" y1="380.20" x2="164.89" y2="380.20" stroke="#333" stroke-width="0.6"/>
<line x1="170.35" y1="374.75" x2="170.35" y2="379.70" stroke="#333" stroke-width="0.6"/>
<line x1="169.05" y1="374.75" x2="171.65" y2="374.75" stroke="#333" stroke-width="0.6"/>
<line x1="169.05" y1="379.70" x2="171.65" y2="379.70" stroke="#333" stroke-width="0.6"/>
<line x1="177.11" y1="373.44" x2="177.11" y2="378.38" stroke="#333" stroke-width="0.6"/>
<line x1="175.81" y1="373.44" x2="178.41" y2="373.44" stroke="#333" stroke-width="0.6"/>
<line x1="175.81" y1="378.38" x2="178.41" y2="378.38" stroke="#333" stroke-width="0.6"/>
<line x1="183.87" y1="387.46" x2="183.87" y2="390.10" stroke="#333" stroke-width="0.6"/>
<line x1="182.57" y1="387.46" x2="185.17" y2="387.46" stroke="#333" stroke-width="0.6"/>
<line x1="182.57" y1="390.10" x2="185.17" y2="390.10" stroke="#333" stroke-width="0.6"/>
<line x1="190.63" y1="388.94" x2="190.63" y2="390.93" stroke="#333" stroke-width="0.6"/>
<line x1="189.33" y1="388.94" x2="191.93" y2="388.94" stroke="#333" stroke-width="0.6"/>
<line x1="189.33" y1="390.93" x2="191.93" y2="390.93" stroke="#333" stroke-width="0.6"/>
<line x1="197.39" y1="388.94" x2="197.39" y2="390.93" stroke="#333" stroke-width="0.6"/>
<line x1="196.09" y1="388.94" x2="198.69" y2="388.94" stroke="#333" stroke-width="0.6"/>
<line x1="196.09" y1="390.93" x2="198.69" y2="390.93" stroke="#333" stroke-width="0.6"/>
<line x1="204.15" y1="345.06" x2="204.15" y2="350.00" stroke="#333" stroke-width="0.6"/>
<line x1="202.85" y1="345.06" x2="205.45" y2="345.06" stroke="#333" stroke-width="0.6"/>
<line x1="202.85" y1="350.00" x2="205.45" y2="350.00" stroke="#333" stroke-width="0.6"/>
<line x1="210.92" y1="365.51" x2="210.92" y2="369.48" stroke="#333" stroke-width="0.6"/>
<line x1="209.62" y1="365.51" x2="212.22" y2="365.51" stroke="#333" stroke-width="0.6"/>
<line x1="209.62" y1="369.48" x2="212.22" y2="369.48" stroke="#333" stroke-width="0.6"/>
<line x1="217.68" y1="374.92" x2="217.68" y2="379.87" stroke="#333" stroke-width="0.6"/>
<line x1="216.38" y1="374.92" x2="218.98" y2="374.92" stroke="#333" stroke-width="0.6"/>
<line x1="216.38" y1="379.87" x2="218.98" y2="379.87" stroke="#333" stroke-width="0.6"/>
<line x1="224.44" y1="395.55" x2="224.44" y2="396.87" stroke="#333" stroke-width="0.6"/>
<line x1="223.14" y1="395.55" x2="225.74" y2="395.55" stroke="#333" stroke-width="0.6"/>
<line x1="223.14" y1="396.87" x2="225.74" y2="396.87" stroke="#333" stroke-width="0.6"/>
<line x1="231.20" y1="396.70" x2="231.20" y2="398.02" stroke="#333" stroke-width="0.6"/>
<line x1="229.90" y1="396.70" x2="232.50" y2="396.70" stroke="#333" stroke-width="0.6"/>
<line x1="229.90" y1="398.02" x2="232.50" y2="398.02" stroke="#333" stroke-width="0.6"/>
<line x1="237.96" y1="396.70" x2="237.96" y2="398.02" stroke="#333" stroke-width="0.6"/>
<line x1="236.66" y1="396.70" x2="239.26" y2="396.70" stroke="#333" stroke-width="0.6"/>
<line x1="236.66" y1="398.02" x2="239.26" y2="398.02" stroke="#333" stroke-width="0.6"/>
<circle cx="156.83" cy="377.73" r="1.50" fill="#ffffff" stroke="#333" stroke-width="0.7"/>
<circle cx="163.59" cy="377.73" r="1.50" fill="#ffffff" stroke="#333" stroke-width="0.7"/>
<circle cx="170.35" cy="377.23" r="1.50" fill="#ffffff" stroke="#333" stroke-width="0.7"/>
<circle cx="177.11" cy="375.91" r="1.50" fill="#ffffff" stroke="#333" stroke-width="0.7"/>
<circle cx="183.87" cy="388.78" r="1.50" fill="#ffffff" stroke="#333" stroke-width="0.7"/>
<circle cx="190.63" cy="389.94" r="1.50" fill="#ffffff" stroke="#333" stroke-width="0.7"/>
<circle cx="197.39" cy="389.94" r="1.50" fill="#ffffff" stroke="#333" stroke-width="0.7"/>
<circle cx="204.15" cy="347.53" r="1.50" fill="#ffffff" stroke="#333" stroke-width="0.7"/>
<circle cx="210.92" cy="367.50" r="1.50" fill="#ffffff" stroke="#333" stroke-width="0.7"/>
<circle cx="217.68" cy="377.39" r="1.50" fill="#ffffff" stroke="#333" stroke-width="0.7"/>
<circle cx="224.44" cy="396.20" r="1.50" fill="#ffffff" stroke="#333" stroke-width="0.7"/>
<circle cx="231.20" cy="397.36" r="1.50" fill="#ffffff" stroke="#333" stroke-width="0.7"/>
<circle cx="237.96" cy="397.36" r="1.50" fill="#ffffff" stroke="#333" stroke-width="0.7"/>
<line x1="155.80" y1="335.50" x2="155.80" y2="403.80" stroke="#111" stroke-width="1.1"/>
<line x1="155.30" y1="403.30" x2="248.70" y2="403.30" stroke="#111" stroke-width="1.1"/>
<line x1="152.80" y1="403.30" x2="155.80" y2="403.30" stroke="#111" stroke-width="0.8"/>
<text x="150.20" y="405.60" font-size="6.3" fill="#222" text-anchor="end">0</text>
<line x1="152.80" y1="370.30" x2="155.80" y2="370.30" stroke="#111" stroke-width="0.8"/>
<text x="150.20" y="372.60" font-size="6.3" fill="#222" text-anchor="end">200</text>
<line x1="152.80" y1="337.30" x2="155.80" y2="337.30" stroke="#111" stroke-width="0.8"/>
<text x="150.20" y="339.60" font-size="6.3" fill="#222" text-anchor="end">400</text>
<line x1="155.80" y1="403.30" x2="155.80" y2="405.50" stroke="#111" stroke-width="0.8"/>
<text x="155.80" y="416.10" font-size="6.3" fill="#222" text-anchor="middle">0</text>
<line x1="176.35" y1="403.30" x2="176.35" y2="405.50" stroke="#111" stroke-width="0.8"/>
<text x="176.35" y="416.10" font-size="6.3" fill="#222" text-anchor="middle">20</text>
<line x1="196.90" y1="403.30" x2="196.90" y2="405.50" stroke="#111" stroke-width="0.8"/>
<text x="196.90" y="416.10" font-size="6.3" fill="#222" text-anchor="middle">40</text>
<line x1="217.45" y1="403.30" x2="217.45" y2="405.50" stroke="#111" stroke-width="0.8"/>
<text x="217.45" y="416.10" font-size="6.3" fill="#222" text-anchor="middle">60</text>
<line x1="238.00" y1="403.30" x2="238.00" y2="405.50" stroke="#111" stroke-width="0.8"/>
<text x="238.00" y="416.10" font-size="6.3" fill="#222" text-anchor="middle">80</text>
<line x1="167.20" y1="426.50" x2="173.20" y2="426.50" stroke="#444" stroke-width="0.7"/>
<circle cx="170.20" cy="426.50" r="1.30" fill="#ffffff" stroke="#333" stroke-width="0.6"/>
<text x="176.90" y="428.70" font-size="6.4" fill="#222">sg2 TRMT5<tspan dy="-2.4" font-size="3.6">WT</tspan><tspan dy="2.4">+AraC</tspan></text>
<line x1="167.20" y1="436.40" x2="173.20" y2="436.40" stroke="#555" stroke-width="0.7"/>
<circle cx="170.20" cy="436.40" r="1.30" fill="#3a3a3a" stroke="#111" stroke-width="0.6"/>
<text x="176.90" y="438.60" font-size="6.4" fill="#222">sg2 TRMT5<tspan dy="-2.4" font-size="3.6">WT</tspan><tspan dy="2.4"></tspan></text>
<line x1="167.20" y1="446.40" x2="173.20" y2="446.40" stroke="#e8c860" stroke-width="0.7"/>
<circle cx="170.20" cy="446.40" r="1.30" fill="#e0c050" stroke="#6a5010" stroke-width="0.6"/>
<text x="176.90" y="448.60" font-size="6.4" fill="#222">sg2 EV+AraC</text>
<line x1="167.20" y1="456.10" x2="173.20" y2="456.10" stroke="#d04a8a" stroke-width="0.7"/>
<circle cx="170.20" cy="456.10" r="1.30" fill="#b03070" stroke="#5a1038" stroke-width="0.6"/>
<text x="176.90" y="458.30" font-size="6.4" fill="#222">sg2 EV</text>
<line x1="308.01" y1="341.20" x2="308.01" y2="403.80" stroke="#a0a0a0" stroke-width="0.7" stroke-dasharray="1.6,1.4"/>
<path d="M305.81,335.20 L310.21,335.20 L308.01,342.90 Z" fill="#000"/>
<text x="283.00" y="331.80" font-size="6.3" fill="#1a1a1a" textLength="32.80000000000001" lengthAdjust="spacingAndGlyphs">Oligomycin</text>
<line x1="327.95" y1="341.20" x2="327.95" y2="403.80" stroke="#a0a0a0" stroke-width="0.7" stroke-dasharray="1.6,1.4"/>
<path d="M325.75,335.20 L330.15,335.20 L327.95,342.90 Z" fill="#000"/>
<text x="320.00" y="331.80" font-size="6.3" fill="#1a1a1a" textLength="16.19999999999999" lengthAdjust="spacingAndGlyphs">FCCP</text>
<line x1="348.10" y1="341.20" x2="348.10" y2="403.80" stroke="#a0a0a0" stroke-width="0.7" stroke-dasharray="1.6,1.4"/>
<path d="M345.90,335.20 L350.30,335.20 L348.10,342.90 Z" fill="#000"/>
<text x="343.80" y="331.80" font-size="6.3" fill="#1a1a1a" textLength="21.19999999999999" lengthAdjust="spacingAndGlyphs">Rot/AA</text>
<path d="M284.21,398.00 L290.87,398.00 L297.54,398.00 L304.20,398.00 L310.86,399.66 L317.52,399.66 L324.19,399.16 L330.85,394.68 L337.51,398.49 L344.17,399.66 L350.83,402.14 L357.50,402.14 L364.16,402.14" stroke="#777" stroke-width="0.8" fill="none"/>
<path d="M284.21,396.34 L290.87,396.34 L297.54,396.34 L304.20,396.34 L310.86,400.15 L317.52,400.15 L324.19,399.66 L330.85,388.88 L337.51,396.34 L344.17,398.83 L350.83,402.14 L357.50,402.14 L364.16,402.14" stroke="#b03048" stroke-width="0.8" fill="none"/>
<path d="M284.21,389.21 L290.87,389.21 L297.54,389.21 L304.20,389.21 L310.86,397.17 L317.52,397.17 L324.19,396.34 L330.85,381.75 L337.51,389.87 L344.17,394.18 L350.83,401.81 L357.50,401.81 L364.16,401.81" stroke="#555" stroke-width="0.8" fill="none"/>
<path d="M284.21,378.10 L290.87,378.10 L297.54,377.60 L304.20,376.28 L310.86,389.21 L317.52,390.37 L324.19,390.37 L330.85,347.76 L337.51,367.82 L344.17,377.77 L350.83,396.67 L357.50,397.83 L364.16,397.83" stroke="#444" stroke-width="0.8" fill="none"/>
<line x1="284.21" y1="397.33" x2="284.21" y2="398.66" stroke="#444" stroke-width="0.6"/>
<line x1="282.91" y1="397.33" x2="285.51" y2="397.33" stroke="#444" stroke-width="0.6"/>
<line x1="282.91" y1="398.66" x2="285.51" y2="398.66" stroke="#444" stroke-width="0.6"/>
<line x1="290.87" y1="397.33" x2="290.87" y2="398.66" stroke="#444" stroke-width="0.6"/>
<line x1="289.57" y1="397.33" x2="292.17" y2="397.33" stroke="#444" stroke-width="0.6"/>
<line x1="289.57" y1="398.66" x2="292.17" y2="398.66" stroke="#444" stroke-width="0.6"/>
<line x1="297.54" y1="397.33" x2="297.54" y2="398.66" stroke="#444" stroke-width="0.6"/>
<line x1="296.24" y1="397.33" x2="298.84" y2="397.33" stroke="#444" stroke-width="0.6"/>
<line x1="296.24" y1="398.66" x2="298.84" y2="398.66" stroke="#444" stroke-width="0.6"/>
<line x1="304.20" y1="397.33" x2="304.20" y2="398.66" stroke="#444" stroke-width="0.6"/>
<line x1="302.90" y1="397.33" x2="305.50" y2="397.33" stroke="#444" stroke-width="0.6"/>
<line x1="302.90" y1="398.66" x2="305.50" y2="398.66" stroke="#444" stroke-width="0.6"/>
<line x1="310.86" y1="398.99" x2="310.86" y2="400.32" stroke="#444" stroke-width="0.6"/>
<line x1="309.56" y1="398.99" x2="312.16" y2="398.99" stroke="#444" stroke-width="0.6"/>
<line x1="309.56" y1="400.32" x2="312.16" y2="400.32" stroke="#444" stroke-width="0.6"/>
<line x1="317.52" y1="398.99" x2="317.52" y2="400.32" stroke="#444" stroke-width="0.6"/>
<line x1="316.22" y1="398.99" x2="318.82" y2="398.99" stroke="#444" stroke-width="0.6"/>
<line x1="316.22" y1="400.32" x2="318.82" y2="400.32" stroke="#444" stroke-width="0.6"/>
<line x1="324.19" y1="398.49" x2="324.19" y2="399.82" stroke="#444" stroke-width="0.6"/>
<line x1="322.89" y1="398.49" x2="325.49" y2="398.49" stroke="#444" stroke-width="0.6"/>
<line x1="322.89" y1="399.82" x2="325.49" y2="399.82" stroke="#444" stroke-width="0.6"/>
<line x1="330.85" y1="394.02" x2="330.85" y2="395.34" stroke="#444" stroke-width="0.6"/>
<line x1="329.55" y1="394.02" x2="332.15" y2="394.02" stroke="#444" stroke-width="0.6"/>
<line x1="329.55" y1="395.34" x2="332.15" y2="395.34" stroke="#444" stroke-width="0.6"/>
<line x1="337.51" y1="397.83" x2="337.51" y2="399.16" stroke="#444" stroke-width="0.6"/>
<line x1="336.21" y1="397.83" x2="338.81" y2="397.83" stroke="#444" stroke-width="0.6"/>
<line x1="336.21" y1="399.16" x2="338.81" y2="399.16" stroke="#444" stroke-width="0.6"/>
<line x1="344.17" y1="398.99" x2="344.17" y2="400.32" stroke="#444" stroke-width="0.6"/>
<line x1="342.87" y1="398.99" x2="345.47" y2="398.99" stroke="#444" stroke-width="0.6"/>
<line x1="342.87" y1="400.32" x2="345.47" y2="400.32" stroke="#444" stroke-width="0.6"/>
<line x1="350.83" y1="401.48" x2="350.83" y2="402.81" stroke="#444" stroke-width="0.6"/>
<line x1="349.53" y1="401.48" x2="352.13" y2="401.48" stroke="#444" stroke-width="0.6"/>
<line x1="349.53" y1="402.81" x2="352.13" y2="402.81" stroke="#444" stroke-width="0.6"/>
<line x1="357.50" y1="401.48" x2="357.50" y2="402.81" stroke="#444" stroke-width="0.6"/>
<line x1="356.20" y1="401.48" x2="358.80" y2="401.48" stroke="#444" stroke-width="0.6"/>
<line x1="356.20" y1="402.81" x2="358.80" y2="402.81" stroke="#444" stroke-width="0.6"/>
<line x1="364.16" y1="401.48" x2="364.16" y2="402.81" stroke="#444" stroke-width="0.6"/>
<line x1="362.86" y1="401.48" x2="365.46" y2="401.48" stroke="#444" stroke-width="0.6"/>
<line x1="362.86" y1="402.81" x2="365.46" y2="402.81" stroke="#444" stroke-width="0.6"/>
<circle cx="284.21" cy="398.00" r="1.50" fill="#ffffff" stroke="#444" stroke-width="0.7"/>
<circle cx="290.87" cy="398.00" r="1.50" fill="#ffffff" stroke="#444" stroke-width="0.7"/>
<circle cx="297.54" cy="398.00" r="1.50" fill="#ffffff" stroke="#444" stroke-width="0.7"/>
<circle cx="304.20" cy="398.00" r="1.50" fill="#ffffff" stroke="#444" stroke-width="0.7"/>
<circle cx="310.86" cy="399.66" r="1.50" fill="#ffffff" stroke="#444" stroke-width="0.7"/>
<circle cx="317.52" cy="399.66" r="1.50" fill="#ffffff" stroke="#444" stroke-width="0.7"/>
<circle cx="324.19" cy="399.16" r="1.50" fill="#ffffff" stroke="#444" stroke-width="0.7"/>
<circle cx="330.85" cy="394.68" r="1.50" fill="#ffffff" stroke="#444" stroke-width="0.7"/>
<circle cx="337.51" cy="398.49" r="1.50" fill="#ffffff" stroke="#444" stroke-width="0.7"/>
<circle cx="344.17" cy="399.66" r="1.50" fill="#ffffff" stroke="#444" stroke-width="0.7"/>
<circle cx="350.83" cy="402.14" r="1.50" fill="#ffffff" stroke="#444" stroke-width="0.7"/>
<circle cx="357.50" cy="402.14" r="1.50" fill="#ffffff" stroke="#444" stroke-width="0.7"/>
<circle cx="364.16" cy="402.14" r="1.50" fill="#ffffff" stroke="#444" stroke-width="0.7"/>
<line x1="284.21" y1="395.51" x2="284.21" y2="397.17" stroke="#5a1a20" stroke-width="0.6"/>
<line x1="282.91" y1="395.51" x2="285.51" y2="395.51" stroke="#5a1a20" stroke-width="0.6"/>
<line x1="282.91" y1="397.17" x2="285.51" y2="397.17" stroke="#5a1a20" stroke-width="0.6"/>
<line x1="290.87" y1="395.51" x2="290.87" y2="397.17" stroke="#5a1a20" stroke-width="0.6"/>
<line x1="289.57" y1="395.51" x2="292.17" y2="395.51" stroke="#5a1a20" stroke-width="0.6"/>
<line x1="289.57" y1="397.17" x2="292.17" y2="397.17" stroke="#5a1a20" stroke-width="0.6"/>
<line x1="297.54" y1="395.51" x2="297.54" y2="397.17" stroke="#5a1a20" stroke-width="0.6"/>
<line x1="296.24" y1="395.51" x2="298.84" y2="395.51" stroke="#5a1a20" stroke-width="0.6"/>
<line x1="296.24" y1="397.17" x2="298.84" y2="397.17" stroke="#5a1a20" stroke-width="0.6"/>
<line x1="304.20" y1="395.51" x2="304.20" y2="397.17" stroke="#5a1a20" stroke-width="0.6"/>
<line x1="302.90" y1="395.51" x2="305.50" y2="395.51" stroke="#5a1a20" stroke-width="0.6"/>
<line x1="302.90" y1="397.17" x2="305.50" y2="397.17" stroke="#5a1a20" stroke-width="0.6"/>
<line x1="310.86" y1="399.32" x2="310.86" y2="400.98" stroke="#5a1a20" stroke-width="0.6"/>
<line x1="309.56" y1="399.32" x2="312.16" y2="399.32" stroke="#5a1a20" stroke-width="0.6"/>
<line x1="309.56" y1="400.98" x2="312.16" y2="400.98" stroke="#5a1a20" stroke-width="0.6"/>
<line x1="317.52" y1="399.32" x2="317.52" y2="400.98" stroke="#5a1a20" stroke-width="0.6"/>
<line x1="316.22" y1="399.32" x2="318.82" y2="399.32" stroke="#5a1a20" stroke-width="0.6"/>
<line x1="316.22" y1="400.98" x2="318.82" y2="400.98" stroke="#5a1a20" stroke-width="0.6"/>
<line x1="324.19" y1="398.83" x2="324.19" y2="400.48" stroke="#5a1a20" stroke-width="0.6"/>
<line x1="322.89" y1="398.83" x2="325.49" y2="398.83" stroke="#5a1a20" stroke-width="0.6"/>
<line x1="322.89" y1="400.48" x2="325.49" y2="400.48" stroke="#5a1a20" stroke-width="0.6"/>
<line x1="330.85" y1="386.89" x2="330.85" y2="390.87" stroke="#5a1a20" stroke-width="0.6"/>
<line x1="329.55" y1="386.89" x2="332.15" y2="386.89" stroke="#5a1a20" stroke-width="0.6"/>
<line x1="329.55" y1="390.87" x2="332.15" y2="390.87" stroke="#5a1a20" stroke-width="0.6"/>
<line x1="337.51" y1="395.51" x2="337.51" y2="397.17" stroke="#5a1a20" stroke-width="0.6"/>
<line x1="336.21" y1="395.51" x2="338.81" y2="395.51" stroke="#5a1a20" stroke-width="0.6"/>
<line x1="336.21" y1="397.17" x2="338.81" y2="397.17" stroke="#5a1a20" stroke-width="0.6"/>
<line x1="344.17" y1="398.00" x2="344.17" y2="399.66" stroke="#5a1a20" stroke-width="0.6"/>
<line x1="342.87" y1="398.00" x2="345.47" y2="398.00" stroke="#5a1a20" stroke-width="0.6"/>
<line x1="342.87" y1="399.66" x2="345.47" y2="399.66" stroke="#5a1a20" stroke-width="0.6"/>
<line x1="350.83" y1="401.31" x2="350.83" y2="402.97" stroke="#5a1a20" stroke-width="0.6"/>
<line x1="349.53" y1="401.31" x2="352.13" y2="401.31" stroke="#5a1a20" stroke-width="0.6"/>
<line x1="349.53" y1="402.97" x2="352.13" y2="402.97" stroke="#5a1a20" stroke-width="0.6"/>
<line x1="357.50" y1="401.31" x2="357.50" y2="402.97" stroke="#5a1a20" stroke-width="0.6"/>
<line x1="356.20" y1="401.31" x2="358.80" y2="401.31" stroke="#5a1a20" stroke-width="0.6"/>
<line x1="356.20" y1="402.97" x2="358.80" y2="402.97" stroke="#5a1a20" stroke-width="0.6"/>
<line x1="364.16" y1="401.31" x2="364.16" y2="402.97" stroke="#5a1a20" stroke-width="0.6"/>
<line x1="362.86" y1="401.31" x2="365.46" y2="401.31" stroke="#5a1a20" stroke-width="0.6"/>
<line x1="362.86" y1="402.97" x2="365.46" y2="402.97" stroke="#5a1a20" stroke-width="0.6"/>
<circle cx="284.21" cy="396.34" r="1.50" fill="#8a1a2a" stroke="#3a0a10" stroke-width="0.7"/>
<circle cx="290.87" cy="396.34" r="1.50" fill="#8a1a2a" stroke="#3a0a10" stroke-width="0.7"/>
<circle cx="297.54" cy="396.34" r="1.50" fill="#8a1a2a" stroke="#3a0a10" stroke-width="0.7"/>
<circle cx="304.20" cy="396.34" r="1.50" fill="#8a1a2a" stroke="#3a0a10" stroke-width="0.7"/>
<circle cx="310.86" cy="400.15" r="1.50" fill="#8a1a2a" stroke="#3a0a10" stroke-width="0.7"/>
<circle cx="317.52" cy="400.15" r="1.50" fill="#8a1a2a" stroke="#3a0a10" stroke-width="0.7"/>
<circle cx="324.19" cy="399.66" r="1.50" fill="#8a1a2a" stroke="#3a0a10" stroke-width="0.7"/>
<circle cx="330.85" cy="388.88" r="1.50" fill="#8a1a2a" stroke="#3a0a10" stroke-width="0.7"/>
<circle cx="337.51" cy="396.34" r="1.50" fill="#8a1a2a" stroke="#3a0a10" stroke-width="0.7"/>
<circle cx="344.17" cy="398.83" r="1.50" fill="#8a1a2a" stroke="#3a0a10" stroke-width="0.7"/>
<circle cx="350.83" cy="402.14" r="1.50" fill="#8a1a2a" stroke="#3a0a10" stroke-width="0.7"/>
<circle cx="357.50" cy="402.14" r="1.50" fill="#8a1a2a" stroke="#3a0a10" stroke-width="0.7"/>
<circle cx="364.16" cy="402.14" r="1.50" fill="#8a1a2a" stroke="#3a0a10" stroke-width="0.7"/>
<line x1="284.21" y1="386.72" x2="284.21" y2="391.70" stroke="#333" stroke-width="0.6"/>
<line x1="282.91" y1="386.72" x2="285.51" y2="386.72" stroke="#333" stroke-width="0.6"/>
<line x1="282.91" y1="391.70" x2="285.51" y2="391.70" stroke="#333" stroke-width="0.6"/>
<line x1="290.87" y1="386.72" x2="290.87" y2="391.70" stroke="#333" stroke-width="0.6"/>
<line x1="289.57" y1="386.72" x2="292.17" y2="386.72" stroke="#333" stroke-width="0.6"/>
<line x1="289.57" y1="391.70" x2="292.17" y2="391.70" stroke="#333" stroke-width="0.6"/>
<line x1="297.54" y1="386.72" x2="297.54" y2="391.70" stroke="#333" stroke-width="0.6"/>
<line x1="296.24" y1="386.72" x2="298.84" y2="386.72" stroke="#333" stroke-width="0.6"/>
<line x1="296.24" y1="391.70" x2="298.84" y2="391.70" stroke="#333" stroke-width="0.6"/>
<line x1="304.20" y1="386.72" x2="304.20" y2="391.70" stroke="#333" stroke-width="0.6"/>
<line x1="302.90" y1="386.72" x2="305.50" y2="386.72" stroke="#333" stroke-width="0.6"/>
<line x1="302.90" y1="391.70" x2="305.50" y2="391.70" stroke="#333" stroke-width="0.6"/>
<line x1="310.86" y1="395.84" x2="310.86" y2="398.49" stroke="#333" stroke-width="0.6"/>
<line x1="309.56" y1="395.84" x2="312.16" y2="395.84" stroke="#333" stroke-width="0.6"/>
<line x1="309.56" y1="398.49" x2="312.16" y2="398.49" stroke="#333" stroke-width="0.6"/>
<line x1="317.52" y1="395.84" x2="317.52" y2="398.49" stroke="#333" stroke-width="0.6"/>
<line x1="316.22" y1="395.84" x2="318.82" y2="395.84" stroke="#333" stroke-width="0.6"/>
<line x1="316.22" y1="398.49" x2="318.82" y2="398.49" stroke="#333" stroke-width="0.6"/>
<line x1="324.19" y1="395.01" x2="324.19" y2="397.67" stroke="#333" stroke-width="0.6"/>
<line x1="322.89" y1="395.01" x2="325.49" y2="395.01" stroke="#333" stroke-width="0.6"/>
<line x1="322.89" y1="397.67" x2="325.49" y2="397.67" stroke="#333" stroke-width="0.6"/>
<line x1="330.85" y1="378.43" x2="330.85" y2="385.06" stroke="#333" stroke-width="0.6"/>
<line x1="329.55" y1="378.43" x2="332.15" y2="378.43" stroke="#333" stroke-width="0.6"/>
<line x1="329.55" y1="385.06" x2="332.15" y2="385.06" stroke="#333" stroke-width="0.6"/>
<line x1="337.51" y1="388.21" x2="337.51" y2="391.53" stroke="#333" stroke-width="0.6"/>
<line x1="336.21" y1="388.21" x2="338.81" y2="388.21" stroke="#333" stroke-width="0.6"/>
<line x1="336.21" y1="391.53" x2="338.81" y2="391.53" stroke="#333" stroke-width="0.6"/>
<line x1="344.17" y1="392.86" x2="344.17" y2="395.51" stroke="#333" stroke-width="0.6"/>
<line x1="342.87" y1="392.86" x2="345.47" y2="392.86" stroke="#333" stroke-width="0.6"/>
<line x1="342.87" y1="395.51" x2="345.47" y2="395.51" stroke="#333" stroke-width="0.6"/>
<line x1="350.83" y1="401.31" x2="350.83" y2="402.31" stroke="#333" stroke-width="0.6"/>
<line x1="349.53" y1="401.31" x2="352.13" y2="401.31" stroke="#333" stroke-width="0.6"/>
<line x1="349.53" y1="402.31" x2="352.13" y2="402.31" stroke="#333" stroke-width="0.6"/>
<line x1="357.50" y1="401.31" x2="357.50" y2="402.31" stroke="#333" stroke-width="0.6"/>
<line x1="356.20" y1="401.31" x2="358.80" y2="401.31" stroke="#333" stroke-width="0.6"/>
<line x1="356.20" y1="402.31" x2="358.80" y2="402.31" stroke="#333" stroke-width="0.6"/>
<line x1="364.16" y1="401.31" x2="364.16" y2="402.31" stroke="#333" stroke-width="0.6"/>
<line x1="362.86" y1="401.31" x2="365.46" y2="401.31" stroke="#333" stroke-width="0.6"/>
<line x1="362.86" y1="402.31" x2="365.46" y2="402.31" stroke="#333" stroke-width="0.6"/>
<circle cx="284.21" cy="389.21" r="1.50" fill="#3a3a3a" stroke="#111" stroke-width="0.7"/>
<circle cx="290.87" cy="389.21" r="1.50" fill="#3a3a3a" stroke="#111" stroke-width="0.7"/>
<circle cx="297.54" cy="389.21" r="1.50" fill="#3a3a3a" stroke="#111" stroke-width="0.7"/>
<circle cx="304.20" cy="389.21" r="1.50" fill="#3a3a3a" stroke="#111" stroke-width="0.7"/>
<circle cx="310.86" cy="397.17" r="1.50" fill="#3a3a3a" stroke="#111" stroke-width="0.7"/>
<circle cx="317.52" cy="397.17" r="1.50" fill="#3a3a3a" stroke="#111" stroke-width="0.7"/>
<circle cx="324.19" cy="396.34" r="1.50" fill="#3a3a3a" stroke="#111" stroke-width="0.7"/>
<circle cx="330.85" cy="381.75" r="1.50" fill="#3a3a3a" stroke="#111" stroke-width="0.7"/>
<circle cx="337.51" cy="389.87" r="1.50" fill="#3a3a3a" stroke="#111" stroke-width="0.7"/>
<circle cx="344.17" cy="394.18" r="1.50" fill="#3a3a3a" stroke="#111" stroke-width="0.7"/>
<circle cx="350.83" cy="401.81" r="1.50" fill="#3a3a3a" stroke="#111" stroke-width="0.7"/>
<circle cx="357.50" cy="401.81" r="1.50" fill="#3a3a3a" stroke="#111" stroke-width="0.7"/>
<circle cx="364.16" cy="401.81" r="1.50" fill="#3a3a3a" stroke="#111" stroke-width="0.7"/>
<line x1="284.21" y1="375.61" x2="284.21" y2="380.59" stroke="#333" stroke-width="0.6"/>
<line x1="282.91" y1="375.61" x2="285.51" y2="375.61" stroke="#333" stroke-width="0.6"/>
<line x1="282.91" y1="380.59" x2="285.51" y2="380.59" stroke="#333" stroke-width="0.6"/>
<line x1="290.87" y1="375.61" x2="290.87" y2="380.59" stroke="#333" stroke-width="0.6"/>
<line x1="289.57" y1="375.61" x2="292.17" y2="375.61" stroke="#333" stroke-width="0.6"/>
<line x1="289.57" y1="380.59" x2="292.17" y2="380.59" stroke="#333" stroke-width="0.6"/>
<line x1="297.54" y1="375.12" x2="297.54" y2="380.09" stroke="#333" stroke-width="0.6"/>
<line x1="296.24" y1="375.12" x2="298.84" y2="375.12" stroke="#333" stroke-width="0.6"/>
<line x1="296.24" y1="380.09" x2="298.84" y2="380.09" stroke="#333" stroke-width="0.6"/>
<line x1="304.20" y1="373.79" x2="304.20" y2="378.76" stroke="#333" stroke-width="0.6"/>
<line x1="302.90" y1="373.79" x2="305.50" y2="373.79" stroke="#333" stroke-width="0.6"/>
<line x1="302.90" y1="378.76" x2="305.50" y2="378.76" stroke="#333" stroke-width="0.6"/>
<line x1="310.86" y1="387.88" x2="310.86" y2="390.54" stroke="#333" stroke-width="0.6"/>
<line x1="309.56" y1="387.88" x2="312.16" y2="387.88" stroke="#333" stroke-width="0.6"/>
<line x1="309.56" y1="390.54" x2="312.16" y2="390.54" stroke="#333" stroke-width="0.6"/>
<line x1="317.52" y1="389.38" x2="317.52" y2="391.37" stroke="#333" stroke-width="0.6"/>
<line x1="316.22" y1="389.38" x2="318.82" y2="389.38" stroke="#333" stroke-width="0.6"/>
<line x1="316.22" y1="391.37" x2="318.82" y2="391.37" stroke="#333" stroke-width="0.6"/>
<line x1="324.19" y1="389.38" x2="324.19" y2="391.37" stroke="#333" stroke-width="0.6"/>
<line x1="322.89" y1="389.38" x2="325.49" y2="389.38" stroke="#333" stroke-width="0.6"/>
<line x1="322.89" y1="391.37" x2="325.49" y2="391.37" stroke="#333" stroke-width="0.6"/>
<line x1="330.85" y1="345.27" x2="330.85" y2="350.25" stroke="#333" stroke-width="0.6"/>
<line x1="329.55" y1="345.27" x2="332.15" y2="345.27" stroke="#333" stroke-width="0.6"/>
<line x1="329.55" y1="350.25" x2="332.15" y2="350.25" stroke="#333" stroke-width="0.6"/>
<line x1="337.51" y1="365.83" x2="337.51" y2="369.81" stroke="#333" stroke-width="0.6"/>
<line x1="336.21" y1="365.83" x2="338.81" y2="365.83" stroke="#333" stroke-width="0.6"/>
<line x1="336.21" y1="369.81" x2="338.81" y2="369.81" stroke="#333" stroke-width="0.6"/>
<line x1="344.17" y1="375.28" x2="344.17" y2="380.26" stroke="#333" stroke-width="0.6"/>
<line x1="342.87" y1="375.28" x2="345.47" y2="375.28" stroke="#333" stroke-width="0.6"/>
<line x1="342.87" y1="380.26" x2="345.47" y2="380.26" stroke="#333" stroke-width="0.6"/>
<line x1="350.83" y1="396.01" x2="350.83" y2="397.33" stroke="#333" stroke-width="0.6"/>
<line x1="349.53" y1="396.01" x2="352.13" y2="396.01" stroke="#333" stroke-width="0.6"/>
<line x1="349.53" y1="397.33" x2="352.13" y2="397.33" stroke="#333" stroke-width="0.6"/>
<line x1="357.50" y1="397.17" x2="357.50" y2="398.49" stroke="#333" stroke-width="0.6"/>
<line x1="356.20" y1="397.17" x2="358.80" y2="397.17" stroke="#333" stroke-width="0.6"/>
<line x1="356.20" y1="398.49" x2="358.80" y2="398.49" stroke="#333" stroke-width="0.6"/>
<line x1="364.16" y1="397.17" x2="364.16" y2="398.49" stroke="#333" stroke-width="0.6"/>
<line x1="362.86" y1="397.17" x2="365.46" y2="397.17" stroke="#333" stroke-width="0.6"/>
<line x1="362.86" y1="398.49" x2="365.46" y2="398.49" stroke="#333" stroke-width="0.6"/>
<circle cx="284.21" cy="378.10" r="1.50" fill="#ffffff" stroke="#333" stroke-width="0.7"/>
<circle cx="290.87" cy="378.10" r="1.50" fill="#ffffff" stroke="#333" stroke-width="0.7"/>
<circle cx="297.54" cy="377.60" r="1.50" fill="#ffffff" stroke="#333" stroke-width="0.7"/>
<circle cx="304.20" cy="376.28" r="1.50" fill="#ffffff" stroke="#333" stroke-width="0.7"/>
<circle cx="310.86" cy="389.21" r="1.50" fill="#ffffff" stroke="#333" stroke-width="0.7"/>
<circle cx="317.52" cy="390.37" r="1.50" fill="#ffffff" stroke="#333" stroke-width="0.7"/>
<circle cx="324.19" cy="390.37" r="1.50" fill="#ffffff" stroke="#333" stroke-width="0.7"/>
<circle cx="330.85" cy="347.76" r="1.50" fill="#ffffff" stroke="#333" stroke-width="0.7"/>
<circle cx="337.51" cy="367.82" r="1.50" fill="#ffffff" stroke="#333" stroke-width="0.7"/>
<circle cx="344.17" cy="377.77" r="1.50" fill="#ffffff" stroke="#333" stroke-width="0.7"/>
<circle cx="350.83" cy="396.67" r="1.50" fill="#ffffff" stroke="#333" stroke-width="0.7"/>
<circle cx="357.50" cy="397.83" r="1.50" fill="#ffffff" stroke="#333" stroke-width="0.7"/>
<circle cx="364.16" cy="397.83" r="1.50" fill="#ffffff" stroke="#333" stroke-width="0.7"/>
<line x1="283.20" y1="335.50" x2="283.20" y2="404.30" stroke="#111" stroke-width="1.1"/>
<line x1="282.70" y1="403.80" x2="377.00" y2="403.80" stroke="#111" stroke-width="1.1"/>
<line x1="280.20" y1="403.80" x2="283.20" y2="403.80" stroke="#111" stroke-width="0.8"/>
<text x="277.60" y="406.10" font-size="6.3" fill="#222" text-anchor="end">0</text>
<line x1="280.20" y1="370.64" x2="283.20" y2="370.64" stroke="#111" stroke-width="0.8"/>
<text x="277.60" y="372.94" font-size="6.3" fill="#222" text-anchor="end">200</text>
<line x1="280.20" y1="337.48" x2="283.20" y2="337.48" stroke="#111" stroke-width="0.8"/>
<text x="277.60" y="339.78" font-size="6.3" fill="#222" text-anchor="end">400</text>
<line x1="283.20" y1="403.80" x2="283.20" y2="406.00" stroke="#111" stroke-width="0.8"/>
<text x="283.20" y="416.10" font-size="6.3" fill="#222" text-anchor="middle">0</text>
<line x1="303.45" y1="403.80" x2="303.45" y2="406.00" stroke="#111" stroke-width="0.8"/>
<text x="303.45" y="416.10" font-size="6.3" fill="#222" text-anchor="middle">20</text>
<line x1="323.70" y1="403.80" x2="323.70" y2="406.00" stroke="#111" stroke-width="0.8"/>
<text x="323.70" y="416.10" font-size="6.3" fill="#222" text-anchor="middle">40</text>
<line x1="343.95" y1="403.80" x2="343.95" y2="406.00" stroke="#111" stroke-width="0.8"/>
<text x="343.95" y="416.10" font-size="6.3" fill="#222" text-anchor="middle">60</text>
<line x1="364.20" y1="403.80" x2="364.20" y2="406.00" stroke="#111" stroke-width="0.8"/>
<text x="364.20" y="416.10" font-size="6.3" fill="#222" text-anchor="middle">80</text>
<line x1="294.00" y1="426.00" x2="300.00" y2="426.00" stroke="#444" stroke-width="0.7"/>
<circle cx="297.00" cy="426.00" r="1.30" fill="#ffffff" stroke="#333" stroke-width="0.6"/>
<text x="303.60" y="428.20" font-size="6.4" fill="#222">sg2 TRMT5<tspan dy="-2.4" font-size="3.6">WT</tspan><tspan dy="2.4">+AraC</tspan></text>
<line x1="294.00" y1="436.20" x2="300.00" y2="436.20" stroke="#555" stroke-width="0.7"/>
<circle cx="297.00" cy="436.20" r="1.30" fill="#3a3a3a" stroke="#111" stroke-width="0.6"/>
<text x="303.60" y="438.40" font-size="6.4" fill="#222">sg2 TRMT5<tspan dy="-2.4" font-size="3.6">WT</tspan><tspan dy="2.4"></tspan></text>
<line x1="294.00" y1="446.10" x2="300.00" y2="446.10" stroke="#b03048" stroke-width="0.7"/>
<circle cx="297.00" cy="446.10" r="1.30" fill="#8a1a2a" stroke="#3a0a10" stroke-width="0.6"/>
<text x="303.60" y="448.30" font-size="6.4" fill="#222">sg2 TRMT5<tspan dy="-2.4" font-size="3.6">Mut</tspan><tspan dy="2.4">+AraC</tspan></text>
<line x1="294.00" y1="455.40" x2="300.00" y2="455.40" stroke="#777" stroke-width="0.7"/>
<circle cx="297.00" cy="455.40" r="1.30" fill="#ffffff" stroke="#444" stroke-width="0.6"/>
<text x="303.60" y="457.60" font-size="6.4" fill="#222">sg2 TRMT5<tspan dy="-2.4" font-size="3.6">Mut</tspan><tspan dy="2.4"></tspan></text>
<line x1="427.99" y1="341.20" x2="427.99" y2="403.80" stroke="#a0a0a0" stroke-width="0.7" stroke-dasharray="1.6,1.4"/>
<path d="M425.79,335.20 L430.19,335.20 L427.99,342.90 Z" fill="#000"/>
<text x="403.80" y="331.80" font-size="6.3" fill="#1a1a1a" textLength="32.39999999999998" lengthAdjust="spacingAndGlyphs">Oligomycin</text>
<line x1="448.01" y1="341.20" x2="448.01" y2="403.80" stroke="#a0a0a0" stroke-width="0.7" stroke-dasharray="1.6,1.4"/>
<path d="M445.81,335.20 L450.21,335.20 L448.01,342.90 Z" fill="#000"/>
<text x="440.00" y="331.80" font-size="6.3" fill="#1a1a1a" textLength="16.19999999999999" lengthAdjust="spacingAndGlyphs">FCCP</text>
<line x1="468.22" y1="341.20" x2="468.22" y2="403.80" stroke="#a0a0a0" stroke-width="0.7" stroke-dasharray="1.6,1.4"/>
<path d="M466.02,335.20 L470.42,335.20 L468.22,342.90 Z" fill="#000"/>
<text x="463.80" y="331.80" font-size="6.3" fill="#1a1a1a" textLength="21.19999999999999" lengthAdjust="spacingAndGlyphs">Rot/AA</text>
<path d="M404.22,395.51 L410.90,395.51 L417.59,395.51 L424.27,395.51 L430.96,398.16 L437.64,398.16 L444.33,397.83 L451.01,387.22 L457.70,393.85 L464.38,396.34 L471.07,402.14 L477.75,402.14 L484.44,402.14" stroke="#5aa064" stroke-width="0.8" fill="none"/>
<path d="M404.22,389.21 L410.90,389.21 L417.59,389.21 L424.27,389.21 L430.96,397.17 L437.64,397.17 L444.33,396.34 L451.01,381.75 L457.70,389.87 L464.38,394.18 L471.07,401.81 L477.75,401.81 L484.44,401.81" stroke="#555" stroke-width="0.8" fill="none"/>
<path d="M404.22,389.21 L410.90,389.21 L417.59,389.21 L424.27,389.21 L430.96,395.51 L437.64,395.51 L444.33,394.68 L451.01,374.79 L457.70,385.56 L464.38,389.21 L471.07,400.48 L477.75,400.48 L484.44,400.48" stroke="#6a7a6a" stroke-width="0.8" fill="none"/>
<path d="M404.22,378.10 L410.90,378.10 L417.59,377.60 L424.27,376.28 L430.96,389.21 L437.64,390.37 L444.33,390.37 L451.01,347.76 L457.70,367.82 L464.38,377.77 L471.07,396.67 L477.75,397.83 L484.44,397.83" stroke="#444" stroke-width="0.8" fill="none"/>
<line x1="404.22" y1="394.18" x2="404.22" y2="396.84" stroke="#2a5a30" stroke-width="0.6"/>
<line x1="402.92" y1="394.18" x2="405.52" y2="394.18" stroke="#2a5a30" stroke-width="0.6"/>
<line x1="402.92" y1="396.84" x2="405.52" y2="396.84" stroke="#2a5a30" stroke-width="0.6"/>
<line x1="410.90" y1="394.18" x2="410.90" y2="396.84" stroke="#2a5a30" stroke-width="0.6"/>
<line x1="409.60" y1="394.18" x2="412.20" y2="394.18" stroke="#2a5a30" stroke-width="0.6"/>
<line x1="409.60" y1="396.84" x2="412.20" y2="396.84" stroke="#2a5a30" stroke-width="0.6"/>
<line x1="417.59" y1="394.18" x2="417.59" y2="396.84" stroke="#2a5a30" stroke-width="0.6"/>
<line x1="416.29" y1="394.18" x2="418.89" y2="394.18" stroke="#2a5a30" stroke-width="0.6"/>
<line x1="416.29" y1="396.84" x2="418.89" y2="396.84" stroke="#2a5a30" stroke-width="0.6"/>
<line x1="424.27" y1="394.18" x2="424.27" y2="396.84" stroke="#2a5a30" stroke-width="0.6"/>
<line x1="422.97" y1="394.18" x2="425.57" y2="394.18" stroke="#2a5a30" stroke-width="0.6"/>
<line x1="422.97" y1="396.84" x2="425.57" y2="396.84" stroke="#2a5a30" stroke-width="0.6"/>
<line x1="430.96" y1="396.84" x2="430.96" y2="399.49" stroke="#2a5a30" stroke-width="0.6"/>
<line x1="429.66" y1="396.84" x2="432.26" y2="396.84" stroke="#2a5a30" stroke-width="0.6"/>
<line x1="429.66" y1="399.49" x2="432.26" y2="399.49" stroke="#2a5a30" stroke-width="0.6"/>
<line x1="437.64" y1="396.84" x2="437.64" y2="399.49" stroke="#2a5a30" stroke-width="0.6"/>
<line x1="436.34" y1="396.84" x2="438.94" y2="396.84" stroke="#2a5a30" stroke-width="0.6"/>
<line x1="436.34" y1="399.49" x2="438.94" y2="399.49" stroke="#2a5a30" stroke-width="0.6"/>
<line x1="444.33" y1="396.50" x2="444.33" y2="399.16" stroke="#2a5a30" stroke-width="0.6"/>
<line x1="443.03" y1="396.50" x2="445.63" y2="396.50" stroke="#2a5a30" stroke-width="0.6"/>
<line x1="443.03" y1="399.16" x2="445.63" y2="399.16" stroke="#2a5a30" stroke-width="0.6"/>
<line x1="451.01" y1="384.73" x2="451.01" y2="389.71" stroke="#2a5a30" stroke-width="0.6"/>
<line x1="449.71" y1="384.73" x2="452.31" y2="384.73" stroke="#2a5a30" stroke-width="0.6"/>
<line x1="449.71" y1="389.71" x2="452.31" y2="389.71" stroke="#2a5a30" stroke-width="0.6"/>
<line x1="457.70" y1="392.86" x2="457.70" y2="394.85" stroke="#2a5a30" stroke-width="0.6"/>
<line x1="456.40" y1="392.86" x2="459.00" y2="392.86" stroke="#2a5a30" stroke-width="0.6"/>
<line x1="456.40" y1="394.85" x2="459.00" y2="394.85" stroke="#2a5a30" stroke-width="0.6"/>
<line x1="464.38" y1="395.34" x2="464.38" y2="397.33" stroke="#2a5a30" stroke-width="0.6"/>
<line x1="463.08" y1="395.34" x2="465.68" y2="395.34" stroke="#2a5a30" stroke-width="0.6"/>
<line x1="463.08" y1="397.33" x2="465.68" y2="397.33" stroke="#2a5a30" stroke-width="0.6"/>
<line x1="471.07" y1="401.15" x2="471.07" y2="403.14" stroke="#2a5a30" stroke-width="0.6"/>
<line x1="469.77" y1="401.15" x2="472.37" y2="401.15" stroke="#2a5a30" stroke-width="0.6"/>
<line x1="469.77" y1="403.14" x2="472.37" y2="403.14" stroke="#2a5a30" stroke-width="0.6"/>
<line x1="477.75" y1="401.15" x2="477.75" y2="403.14" stroke="#2a5a30" stroke-width="0.6"/>
<line x1="476.45" y1="401.15" x2="479.05" y2="401.15" stroke="#2a5a30" stroke-width="0.6"/>
<line x1="476.45" y1="403.14" x2="479.05" y2="403.14" stroke="#2a5a30" stroke-width="0.6"/>
<line x1="484.44" y1="401.15" x2="484.44" y2="403.14" stroke="#2a5a30" stroke-width="0.6"/>
<line x1="483.14" y1="401.15" x2="485.74" y2="401.15" stroke="#2a5a30" stroke-width="0.6"/>
<line x1="483.14" y1="403.14" x2="485.74" y2="403.14" stroke="#2a5a30" stroke-width="0.6"/>
<circle cx="404.22" cy="395.51" r="1.50" fill="#4a8a52" stroke="#1a3a20" stroke-width="0.7"/>
<circle cx="410.90" cy="395.51" r="1.50" fill="#4a8a52" stroke="#1a3a20" stroke-width="0.7"/>
<circle cx="417.59" cy="395.51" r="1.50" fill="#4a8a52" stroke="#1a3a20" stroke-width="0.7"/>
<circle cx="424.27" cy="395.51" r="1.50" fill="#4a8a52" stroke="#1a3a20" stroke-width="0.7"/>
<circle cx="430.96" cy="398.16" r="1.50" fill="#4a8a52" stroke="#1a3a20" stroke-width="0.7"/>
<circle cx="437.64" cy="398.16" r="1.50" fill="#4a8a52" stroke="#1a3a20" stroke-width="0.7"/>
<circle cx="444.33" cy="397.83" r="1.50" fill="#4a8a52" stroke="#1a3a20" stroke-width="0.7"/>
<circle cx="451.01" cy="387.22" r="1.50" fill="#4a8a52" stroke="#1a3a20" stroke-width="0.7"/>
<circle cx="457.70" cy="393.85" r="1.50" fill="#4a8a52" stroke="#1a3a20" stroke-width="0.7"/>
<circle cx="464.38" cy="396.34" r="1.50" fill="#4a8a52" stroke="#1a3a20" stroke-width="0.7"/>
<circle cx="471.07" cy="402.14" r="1.50" fill="#4a8a52" stroke="#1a3a20" stroke-width="0.7"/>
<circle cx="477.75" cy="402.14" r="1.50" fill="#4a8a52" stroke="#1a3a20" stroke-width="0.7"/>
<circle cx="484.44" cy="402.14" r="1.50" fill="#4a8a52" stroke="#1a3a20" stroke-width="0.7"/>
<line x1="404.22" y1="386.72" x2="404.22" y2="391.70" stroke="#333" stroke-width="0.6"/>
<line x1="402.92" y1="386.72" x2="405.52" y2="386.72" stroke="#333" stroke-width="0.6"/>
<line x1="402.92" y1="391.70" x2="405.52" y2="391.70" stroke="#333" stroke-width="0.6"/>
<line x1="410.90" y1="386.72" x2="410.90" y2="391.70" stroke="#333" stroke-width="0.6"/>
<line x1="409.60" y1="386.72" x2="412.20" y2="386.72" stroke="#333" stroke-width="0.6"/>
<line x1="409.60" y1="391.70" x2="412.20" y2="391.70" stroke="#333" stroke-width="0.6"/>
<line x1="417.59" y1="386.72" x2="417.59" y2="391.70" stroke="#333" stroke-width="0.6"/>
<line x1="416.29" y1="386.72" x2="418.89" y2="386.72" stroke="#333" stroke-width="0.6"/>
<line x1="416.29" y1="391.70" x2="418.89" y2="391.70" stroke="#333" stroke-width="0.6"/>
<line x1="424.27" y1="386.72" x2="424.27" y2="391.70" stroke="#333" stroke-width="0.6"/>
<line x1="422.97" y1="386.72" x2="425.57" y2="386.72" stroke="#333" stroke-width="0.6"/>
<line x1="422.97" y1="391.70" x2="425.57" y2="391.70" stroke="#333" stroke-width="0.6"/>
<line x1="430.96" y1="395.84" x2="430.96" y2="398.49" stroke="#333" stroke-width="0.6"/>
<line x1="429.66" y1="395.84" x2="432.26" y2="395.84" stroke="#333" stroke-width="0.6"/>
<line x1="429.66" y1="398.49" x2="432.26" y2="398.49" stroke="#333" stroke-width="0.6"/>
<line x1="437.64" y1="395.84" x2="437.64" y2="398.49" stroke="#333" stroke-width="0.6"/>
<line x1="436.34" y1="395.84" x2="438.94" y2="395.84" stroke="#333" stroke-width="0.6"/>
<line x1="436.34" y1="398.49" x2="438.94" y2="398.49" stroke="#333" stroke-width="0.6"/>
<line x1="444.33" y1="395.01" x2="444.33" y2="397.67" stroke="#333" stroke-width="0.6"/>
<line x1="443.03" y1="395.01" x2="445.63" y2="395.01" stroke="#333" stroke-width="0.6"/>
<line x1="443.03" y1="397.67" x2="445.63" y2="397.67" stroke="#333" stroke-width="0.6"/>
<line x1="451.01" y1="378.43" x2="451.01" y2="385.06" stroke="#333" stroke-width="0.6"/>
<line x1="449.71" y1="378.43" x2="452.31" y2="378.43" stroke="#333" stroke-width="0.6"/>
<line x1="449.71" y1="385.06" x2="452.31" y2="385.06" stroke="#333" stroke-width="0.6"/>
<line x1="457.70" y1="388.21" x2="457.70" y2="391.53" stroke="#333" stroke-width="0.6"/>
<line x1="456.40" y1="388.21" x2="459.00" y2="388.21" stroke="#333" stroke-width="0.6"/>
<line x1="456.40" y1="391.53" x2="459.00" y2="391.53" stroke="#333" stroke-width="0.6"/>
<line x1="464.38" y1="392.86" x2="464.38" y2="395.51" stroke="#333" stroke-width="0.6"/>
<line x1="463.08" y1="392.86" x2="465.68" y2="392.86" stroke="#333" stroke-width="0.6"/>
<line x1="463.08" y1="395.51" x2="465.68" y2="395.51" stroke="#333" stroke-width="0.6"/>
<line x1="471.07" y1="401.31" x2="471.07" y2="402.31" stroke="#333" stroke-width="0.6"/>
<line x1="469.77" y1="401.31" x2="472.37" y2="401.31" stroke="#333" stroke-width="0.6"/>
<line x1="469.77" y1="402.31" x2="472.37" y2="402.31" stroke="#333" stroke-width="0.6"/>
<line x1="477.75" y1="401.31" x2="477.75" y2="402.31" stroke="#333" stroke-width="0.6"/>
<line x1="476.45" y1="401.31" x2="479.05" y2="401.31" stroke="#333" stroke-width="0.6"/>
<line x1="476.45" y1="402.31" x2="479.05" y2="402.31" stroke="#333" stroke-width="0.6"/>
<line x1="484.44" y1="401.31" x2="484.44" y2="402.31" stroke="#333" stroke-width="0.6"/>
<line x1="483.14" y1="401.31" x2="485.74" y2="401.31" stroke="#333" stroke-width="0.6"/>
<line x1="483.14" y1="402.31" x2="485.74" y2="402.31" stroke="#333" stroke-width="0.6"/>
<circle cx="404.22" cy="389.21" r="1.50" fill="#3a3a3a" stroke="#111" stroke-width="0.7"/>
<circle cx="410.90" cy="389.21" r="1.50" fill="#3a3a3a" stroke="#111" stroke-width="0.7"/>
<circle cx="417.59" cy="389.21" r="1.50" fill="#3a3a3a" stroke="#111" stroke-width="0.7"/>
<circle cx="424.27" cy="389.21" r="1.50" fill="#3a3a3a" stroke="#111" stroke-width="0.7"/>
<circle cx="430.96" cy="397.17" r="1.50" fill="#3a3a3a" stroke="#111" stroke-width="0.7"/>
<circle cx="437.64" cy="397.17" r="1.50" fill="#3a3a3a" stroke="#111" stroke-width="0.7"/>
<circle cx="444.33" cy="396.34" r="1.50" fill="#3a3a3a" stroke="#111" stroke-width="0.7"/>
<circle cx="451.01" cy="381.75" r="1.50" fill="#3a3a3a" stroke="#111" stroke-width="0.7"/>
<circle cx="457.70" cy="389.87" r="1.50" fill="#3a3a3a" stroke="#111" stroke-width="0.7"/>
<circle cx="464.38" cy="394.18" r="1.50" fill="#3a3a3a" stroke="#111" stroke-width="0.7"/>
<circle cx="471.07" cy="401.81" r="1.50" fill="#3a3a3a" stroke="#111" stroke-width="0.7"/>
<circle cx="477.75" cy="401.81" r="1.50" fill="#3a3a3a" stroke="#111" stroke-width="0.7"/>
<circle cx="484.44" cy="401.81" r="1.50" fill="#3a3a3a" stroke="#111" stroke-width="0.7"/>
<line x1="404.22" y1="387.55" x2="404.22" y2="390.87" stroke="#4a5a4a" stroke-width="0.6"/>
<line x1="402.92" y1="387.55" x2="405.52" y2="387.55" stroke="#4a5a4a" stroke-width="0.6"/>
<line x1="402.92" y1="390.87" x2="405.52" y2="390.87" stroke="#4a5a4a" stroke-width="0.6"/>
<line x1="410.90" y1="387.55" x2="410.90" y2="390.87" stroke="#4a5a4a" stroke-width="0.6"/>
<line x1="409.60" y1="387.55" x2="412.20" y2="387.55" stroke="#4a5a4a" stroke-width="0.6"/>
<line x1="409.60" y1="390.87" x2="412.20" y2="390.87" stroke="#4a5a4a" stroke-width="0.6"/>
<line x1="417.59" y1="387.55" x2="417.59" y2="390.87" stroke="#4a5a4a" stroke-width="0.6"/>
<line x1="416.29" y1="387.55" x2="418.89" y2="387.55" stroke="#4a5a4a" stroke-width="0.6"/>
<line x1="416.29" y1="390.87" x2="418.89" y2="390.87" stroke="#4a5a4a" stroke-width="0.6"/>
<line x1="424.27" y1="387.55" x2="424.27" y2="390.87" stroke="#4a5a4a" stroke-width="0.6"/>
<line x1="422.97" y1="387.55" x2="425.57" y2="387.55" stroke="#4a5a4a" stroke-width="0.6"/>
<line x1="422.97" y1="390.87" x2="425.57" y2="390.87" stroke="#4a5a4a" stroke-width="0.6"/>
<line x1="430.96" y1="393.85" x2="430.96" y2="397.17" stroke="#4a5a4a" stroke-width="0.6"/>
<line x1="429.66" y1="393.85" x2="432.26" y2="393.85" stroke="#4a5a4a" stroke-width="0.6"/>
<line x1="429.66" y1="397.17" x2="432.26" y2="397.17" stroke="#4a5a4a" stroke-width="0.6"/>
<line x1="437.64" y1="393.85" x2="437.64" y2="397.17" stroke="#4a5a4a" stroke-width="0.6"/>
<line x1="436.34" y1="393.85" x2="438.94" y2="393.85" stroke="#4a5a4a" stroke-width="0.6"/>
<line x1="436.34" y1="397.17" x2="438.94" y2="397.17" stroke="#4a5a4a" stroke-width="0.6"/>
<line x1="444.33" y1="393.02" x2="444.33" y2="396.34" stroke="#4a5a4a" stroke-width="0.6"/>
<line x1="443.03" y1="393.02" x2="445.63" y2="393.02" stroke="#4a5a4a" stroke-width="0.6"/>
<line x1="443.03" y1="396.34" x2="445.63" y2="396.34" stroke="#4a5a4a" stroke-width="0.6"/>
<line x1="451.01" y1="371.47" x2="451.01" y2="378.10" stroke="#4a5a4a" stroke-width="0.6"/>
<line x1="449.71" y1="371.47" x2="452.31" y2="371.47" stroke="#4a5a4a" stroke-width="0.6"/>
<line x1="449.71" y1="378.10" x2="452.31" y2="378.10" stroke="#4a5a4a" stroke-width="0.6"/>
<line x1="457.70" y1="383.90" x2="457.70" y2="387.22" stroke="#4a5a4a" stroke-width="0.6"/>
<line x1="456.40" y1="383.90" x2="459.00" y2="383.90" stroke="#4a5a4a" stroke-width="0.6"/>
<line x1="456.40" y1="387.22" x2="459.00" y2="387.22" stroke="#4a5a4a" stroke-width="0.6"/>
<line x1="464.38" y1="387.55" x2="464.38" y2="390.87" stroke="#4a5a4a" stroke-width="0.6"/>
<line x1="463.08" y1="387.55" x2="465.68" y2="387.55" stroke="#4a5a4a" stroke-width="0.6"/>
<line x1="463.08" y1="390.87" x2="465.68" y2="390.87" stroke="#4a5a4a" stroke-width="0.6"/>
<line x1="471.07" y1="398.83" x2="471.07" y2="402.14" stroke="#4a5a4a" stroke-width="0.6"/>
<line x1="469.77" y1="398.83" x2="472.37" y2="398.83" stroke="#4a5a4a" stroke-width="0.6"/>
<line x1="469.77" y1="402.14" x2="472.37" y2="402.14" stroke="#4a5a4a" stroke-width="0.6"/>
<line x1="477.75" y1="398.83" x2="477.75" y2="402.14" stroke="#4a5a4a" stroke-width="0.6"/>
<line x1="476.45" y1="398.83" x2="479.05" y2="398.83" stroke="#4a5a4a" stroke-width="0.6"/>
<line x1="476.45" y1="402.14" x2="479.05" y2="402.14" stroke="#4a5a4a" stroke-width="0.6"/>
<line x1="484.44" y1="398.83" x2="484.44" y2="402.14" stroke="#4a5a4a" stroke-width="0.6"/>
<line x1="483.14" y1="398.83" x2="485.74" y2="398.83" stroke="#4a5a4a" stroke-width="0.6"/>
<line x1="483.14" y1="402.14" x2="485.74" y2="402.14" stroke="#4a5a4a" stroke-width="0.6"/>
<circle cx="404.22" cy="389.21" r="1.50" fill="#f4f4f4" stroke="#505a50" stroke-width="0.7"/>
<circle cx="410.90" cy="389.21" r="1.50" fill="#f4f4f4" stroke="#505a50" stroke-width="0.7"/>
<circle cx="417.59" cy="389.21" r="1.50" fill="#f4f4f4" stroke="#505a50" stroke-width="0.7"/>
<circle cx="424.27" cy="389.21" r="1.50" fill="#f4f4f4" stroke="#505a50" stroke-width="0.7"/>
<circle cx="430.96" cy="395.51" r="1.50" fill="#f4f4f4" stroke="#505a50" stroke-width="0.7"/>
<circle cx="437.64" cy="395.51" r="1.50" fill="#f4f4f4" stroke="#505a50" stroke-width="0.7"/>
<circle cx="444.33" cy="394.68" r="1.50" fill="#f4f4f4" stroke="#505a50" stroke-width="0.7"/>
<circle cx="451.01" cy="374.79" r="1.50" fill="#f4f4f4" stroke="#505a50" stroke-width="0.7"/>
<circle cx="457.70" cy="385.56" r="1.50" fill="#f4f4f4" stroke="#505a50" stroke-width="0.7"/>
<circle cx="464.38" cy="389.21" r="1.50" fill="#f4f4f4" stroke="#505a50" stroke-width="0.7"/>
<circle cx="471.07" cy="400.48" r="1.50" fill="#f4f4f4" stroke="#505a50" stroke-width="0.7"/>
<circle cx="477.75" cy="400.48" r="1.50" fill="#f4f4f4" stroke="#505a50" stroke-width="0.7"/>
<circle cx="484.44" cy="400.48" r="1.50" fill="#f4f4f4" stroke="#505a50" stroke-width="0.7"/>
<line x1="404.22" y1="375.61" x2="404.22" y2="380.59" stroke="#333" stroke-width="0.6"/>
<line x1="402.92" y1="375.61" x2="405.52" y2="375.61" stroke="#333" stroke-width="0.6"/>
<line x1="402.92" y1="380.59" x2="405.52" y2="380.59" stroke="#333" stroke-width="0.6"/>
<line x1="410.90" y1="375.61" x2="410.90" y2="380.59" stroke="#333" stroke-width="0.6"/>
<line x1="409.60" y1="375.61" x2="412.20" y2="375.61" stroke="#333" stroke-width="0.6"/>
<line x1="409.60" y1="380.59" x2="412.20" y2="380.59" stroke="#333" stroke-width="0.6"/>
<line x1="417.59" y1="375.12" x2="417.59" y2="380.09" stroke="#333" stroke-width="0.6"/>
<line x1="416.29" y1="375.12" x2="418.89" y2="375.12" stroke="#333" stroke-width="0.6"/>
<line x1="416.29" y1="380.09" x2="418.89" y2="380.09" stroke="#333" stroke-width="0.6"/>
<line x1="424.27" y1="373.79" x2="424.27" y2="378.76" stroke="#333" stroke-width="0.6"/>
<line x1="422.97" y1="373.79" x2="425.57" y2="373.79" stroke="#333" stroke-width="0.6"/>
<line x1="422.97" y1="378.76" x2="425.57" y2="378.76" stroke="#333" stroke-width="0.6"/>
<line x1="430.96" y1="387.88" x2="430.96" y2="390.54" stroke="#333" stroke-width="0.6"/>
<line x1="429.66" y1="387.88" x2="432.26" y2="387.88" stroke="#333" stroke-width="0.6"/>
<line x1="429.66" y1="390.54" x2="432.26" y2="390.54" stroke="#333" stroke-width="0.6"/>
<line x1="437.64" y1="389.38" x2="437.64" y2="391.37" stroke="#333" stroke-width="0.6"/>
<line x1="436.34" y1="389.38" x2="438.94" y2="389.38" stroke="#333" stroke-width="0.6"/>
<line x1="436.34" y1="391.37" x2="438.94" y2="391.37" stroke="#333" stroke-width="0.6"/>
<line x1="444.33" y1="389.38" x2="444.33" y2="391.37" stroke="#333" stroke-width="0.6"/>
<line x1="443.03" y1="389.38" x2="445.63" y2="389.38" stroke="#333" stroke-width="0.6"/>
<line x1="443.03" y1="391.37" x2="445.63" y2="391.37" stroke="#333" stroke-width="0.6"/>
<line x1="451.01" y1="345.27" x2="451.01" y2="350.25" stroke="#333" stroke-width="0.6"/>
<line x1="449.71" y1="345.27" x2="452.31" y2="345.27" stroke="#333" stroke-width="0.6"/>
<line x1="449.71" y1="350.25" x2="452.31" y2="350.25" stroke="#333" stroke-width="0.6"/>
<line x1="457.70" y1="365.83" x2="457.70" y2="369.81" stroke="#333" stroke-width="0.6"/>
<line x1="456.40" y1="365.83" x2="459.00" y2="365.83" stroke="#333" stroke-width="0.6"/>
<line x1="456.40" y1="369.81" x2="459.00" y2="369.81" stroke="#333" stroke-width="0.6"/>
<line x1="464.38" y1="375.28" x2="464.38" y2="380.26" stroke="#333" stroke-width="0.6"/>
<line x1="463.08" y1="375.28" x2="465.68" y2="375.28" stroke="#333" stroke-width="0.6"/>
<line x1="463.08" y1="380.26" x2="465.68" y2="380.26" stroke="#333" stroke-width="0.6"/>
<line x1="471.07" y1="396.01" x2="471.07" y2="397.33" stroke="#333" stroke-width="0.6"/>
<line x1="469.77" y1="396.01" x2="472.37" y2="396.01" stroke="#333" stroke-width="0.6"/>
<line x1="469.77" y1="397.33" x2="472.37" y2="397.33" stroke="#333" stroke-width="0.6"/>
<line x1="477.75" y1="397.17" x2="477.75" y2="398.49" stroke="#333" stroke-width="0.6"/>
<line x1="476.45" y1="397.17" x2="479.05" y2="397.17" stroke="#333" stroke-width="0.6"/>
<line x1="476.45" y1="398.49" x2="479.05" y2="398.49" stroke="#333" stroke-width="0.6"/>
<line x1="484.44" y1="397.17" x2="484.44" y2="398.49" stroke="#333" stroke-width="0.6"/>
<line x1="483.14" y1="397.17" x2="485.74" y2="397.17" stroke="#333" stroke-width="0.6"/>
<line x1="483.14" y1="398.49" x2="485.74" y2="398.49" stroke="#333" stroke-width="0.6"/>
<circle cx="404.22" cy="378.10" r="1.50" fill="#ffffff" stroke="#333" stroke-width="0.7"/>
<circle cx="410.90" cy="378.10" r="1.50" fill="#ffffff" stroke="#333" stroke-width="0.7"/>
<circle cx="417.59" cy="377.60" r="1.50" fill="#ffffff" stroke="#333" stroke-width="0.7"/>
<circle cx="424.27" cy="376.28" r="1.50" fill="#ffffff" stroke="#333" stroke-width="0.7"/>
<circle cx="430.96" cy="389.21" r="1.50" fill="#ffffff" stroke="#333" stroke-width="0.7"/>
<circle cx="437.64" cy="390.37" r="1.50" fill="#ffffff" stroke="#333" stroke-width="0.7"/>
<circle cx="444.33" cy="390.37" r="1.50" fill="#ffffff" stroke="#333" stroke-width="0.7"/>
<circle cx="451.01" cy="347.76" r="1.50" fill="#ffffff" stroke="#333" stroke-width="0.7"/>
<circle cx="457.70" cy="367.82" r="1.50" fill="#ffffff" stroke="#333" stroke-width="0.7"/>
<circle cx="464.38" cy="377.77" r="1.50" fill="#ffffff" stroke="#333" stroke-width="0.7"/>
<circle cx="471.07" cy="396.67" r="1.50" fill="#ffffff" stroke="#333" stroke-width="0.7"/>
<circle cx="477.75" cy="397.83" r="1.50" fill="#ffffff" stroke="#333" stroke-width="0.7"/>
<circle cx="484.44" cy="397.83" r="1.50" fill="#ffffff" stroke="#333" stroke-width="0.7"/>
<line x1="403.20" y1="335.50" x2="403.20" y2="404.30" stroke="#111" stroke-width="1.1"/>
<line x1="402.70" y1="403.80" x2="496.00" y2="403.80" stroke="#111" stroke-width="1.1"/>
<line x1="400.20" y1="403.80" x2="403.20" y2="403.80" stroke="#111" stroke-width="0.8"/>
<text x="397.60" y="406.10" font-size="6.3" fill="#222" text-anchor="end">0</text>
<line x1="400.20" y1="370.64" x2="403.20" y2="370.64" stroke="#111" stroke-width="0.8"/>
<text x="397.60" y="372.94" font-size="6.3" fill="#222" text-anchor="end">200</text>
<line x1="400.20" y1="337.48" x2="403.20" y2="337.48" stroke="#111" stroke-width="0.8"/>
<text x="397.60" y="339.78" font-size="6.3" fill="#222" text-anchor="end">400</text>
<line x1="403.20" y1="403.80" x2="403.20" y2="406.00" stroke="#111" stroke-width="0.8"/>
<text x="403.20" y="416.10" font-size="6.3" fill="#222" text-anchor="middle">0</text>
<line x1="423.52" y1="403.80" x2="423.52" y2="406.00" stroke="#111" stroke-width="0.8"/>
<text x="423.52" y="416.10" font-size="6.3" fill="#222" text-anchor="middle">20</text>
<line x1="443.84" y1="403.80" x2="443.84" y2="406.00" stroke="#111" stroke-width="0.8"/>
<text x="443.84" y="416.10" font-size="6.3" fill="#222" text-anchor="middle">40</text>
<line x1="464.16" y1="403.80" x2="464.16" y2="406.00" stroke="#111" stroke-width="0.8"/>
<text x="464.16" y="416.10" font-size="6.3" fill="#222" text-anchor="middle">60</text>
<line x1="484.48" y1="403.80" x2="484.48" y2="406.00" stroke="#111" stroke-width="0.8"/>
<text x="484.48" y="416.10" font-size="6.3" fill="#222" text-anchor="middle">80</text>
<line x1="410.90" y1="426.00" x2="416.90" y2="426.00" stroke="#444" stroke-width="0.7"/>
<circle cx="413.90" cy="426.00" r="1.30" fill="#ffffff" stroke="#333" stroke-width="0.6"/>
<text x="420.20" y="428.20" font-size="6.4" fill="#222">sg2 TRMT5<tspan dy="-2.4" font-size="3.6">WT</tspan><tspan dy="2.4">+AraC</tspan></text>
<line x1="410.90" y1="436.20" x2="416.90" y2="436.20" stroke="#6a7a6a" stroke-width="0.7"/>
<circle cx="413.90" cy="436.20" r="1.30" fill="#f4f4f4" stroke="#505a50" stroke-width="0.6"/>
<text x="420.20" y="438.40" font-size="6.4" fill="#222">sg2 TRMT5<tspan dy="-2.4" font-size="3.6">UMT5</tspan><tspan dy="2.4">+AraC</tspan></text>
<line x1="410.90" y1="446.10" x2="416.90" y2="446.10" stroke="#555" stroke-width="0.7"/>
<circle cx="413.90" cy="446.10" r="1.30" fill="#3a3a3a" stroke="#111" stroke-width="0.6"/>
<text x="420.20" y="448.30" font-size="6.4" fill="#222">sg2 TRMT5<tspan dy="-2.4" font-size="3.6">WT</tspan><tspan dy="2.4"></tspan></text>
<line x1="410.90" y1="455.50" x2="416.90" y2="455.50" stroke="#5aa064" stroke-width="0.7"/>
<circle cx="413.90" cy="455.50" r="1.30" fill="#4a8a52" stroke="#1a3a20" stroke-width="0.6"/>
<text x="420.20" y="457.70" font-size="6.4" fill="#222">sg2 TRMT5<tspan dy="-2.4" font-size="3.6">UMT5</tspan><tspan dy="2.4"></tspan></text>
<path d="M37.90,571.40 L38.42,571.40 L38.94,571.39 L39.47,571.39 L39.99,571.39 L40.52,571.39 L41.04,571.39 L41.56,571.39 L42.09,571.39 L42.61,571.38 L43.14,571.38 L43.66,571.38 L44.18,571.37 L44.71,571.37 L45.23,571.36 L45.76,571.36 L46.28,571.35 L46.80,571.34 L47.33,571.33 L47.85,571.31 L48.38,571.30 L48.90,571.28 L49.42,571.26 L49.95,571.23 L50.47,571.20 L51.00,571.17 L51.52,571.12 L52.04,571.07 L52.57,571.01 L53.09,570.94 L53.62,570.86 L54.14,570.77 L54.66,570.65 L55.19,570.52 L55.71,570.36 L56.24,570.18 L56.76,569.96 L57.28,569.71 L57.81,569.41 L58.33,569.07 L58.86,568.66 L59.38,568.19 L59.90,567.65 L60.43,567.02 L60.95,566.30 L61.48,565.47 L62.00,564.52 L62.52,563.44 L63.05,562.23 L63.57,560.87 L64.10,559.36 L64.62,557.69 L65.14,555.88 L65.67,553.91 L66.19,551.82 L66.72,549.61 L67.24,547.31 L67.76,544.94 L68.29,542.54 L68.81,540.14 L69.34,537.77 L69.86,535.47 L70.38,533.26 L70.91,531.17 L71.43,529.20 L71.96,527.39 L72.48,525.72 L73.00,524.21 L73.53,522.85 L74.05,521.64 L74.58,520.56 L75.10,519.61 L75.62,518.78 L76.15,518.06 L76.67,517.43 L77.20,516.89 L77.72,516.42 L78.24,516.01 L78.77,515.67 L79.29,515.37 L79.82,515.12 L80.34,514.90 L80.86,514.72 L81.39,514.56 L81.91,514.43 L82.44,514.31 L82.96,514.22 L83.48,514.13 L84.01,514.07 L84.53,514.01 L85.06,513.96 L85.58,513.91 L86.10,513.88 L86.63,513.85 L87.15,513.82 L87.68,513.80 L88.20,513.78 L88.72,513.77 L89.25,513.75 L89.77,513.74 L90.30,513.73 L90.82,513.72 L91.34,513.72 L91.87,513.71 L92.39,513.71 L92.92,513.70 L93.44,513.70 L93.96,513.70 L94.49,513.69 L95.01,513.69 L95.54,513.69 L96.06,513.69 L96.58,513.69 L97.11,513.69 L97.63,513.68 L98.16,513.68 L98.68,513.68 L99.20,513.68 L99.73,513.68 L100.25,513.68 L100.78,513.68 L101.30,513.68 L101.82,513.68 L102.35,513.68 L102.87,513.68 L103.40,513.68 L103.92,513.68" stroke="#3a6eb5" stroke-width="0.9" fill="none"/>
<path d="M37.90,571.40 L38.42,571.40 L38.94,571.40 L39.47,571.40 L39.99,571.40 L40.52,571.40 L41.04,571.40 L41.56,571.40 L42.09,571.39 L42.61,571.39 L43.14,571.39 L43.66,571.39 L44.18,571.39 L44.71,571.39 L45.23,571.39 L45.76,571.38 L46.28,571.38 L46.80,571.38 L47.33,571.37 L47.85,571.37 L48.38,571.36 L48.90,571.35 L49.42,571.35 L49.95,571.34 L50.47,571.32 L51.00,571.31 L51.52,571.29 L52.04,571.27 L52.57,571.25 L53.09,571.22 L53.62,571.19 L54.14,571.16 L54.66,571.11 L55.19,571.06 L55.71,571.00 L56.24,570.92 L56.76,570.84 L57.28,570.74 L57.81,570.62 L58.33,570.48 L58.86,570.32 L59.38,570.13 L59.90,569.90 L60.43,569.64 L60.95,569.33 L61.48,568.97 L62.00,568.55 L62.52,568.07 L63.05,567.50 L63.57,566.85 L64.10,566.10 L64.62,565.24 L65.14,564.26 L65.67,563.15 L66.19,561.90 L66.72,560.51 L67.24,558.96 L67.76,557.25 L68.29,555.40 L68.81,553.40 L69.34,551.28 L69.86,549.04 L70.38,546.72 L70.91,544.34 L71.43,541.94 L71.96,539.54 L72.48,537.19 L73.00,534.91 L73.53,532.73 L74.05,530.66 L74.58,528.73 L75.10,526.95 L75.62,525.33 L76.15,523.85 L76.67,522.53 L77.20,521.35 L77.72,520.31 L78.24,519.39 L78.77,518.59 L79.29,517.89 L79.82,517.29 L80.34,516.76 L80.86,516.31 L81.39,515.92 L81.91,515.59 L82.44,515.30 L82.96,515.06 L83.48,514.85 L84.01,514.68 L84.53,514.52 L85.06,514.40 L85.58,514.29 L86.10,514.20 L86.63,514.12 L87.15,514.05 L87.68,513.99 L88.20,513.95 L88.72,513.90 L89.25,513.87 L89.77,513.84 L90.30,513.82 L90.82,513.80 L91.34,513.78 L91.87,513.76 L92.39,513.75 L92.92,513.74 L93.44,513.73 L93.96,513.72 L94.49,513.72 L95.01,513.71 L95.54,513.71 L96.06,513.70 L96.58,513.70 L97.11,513.69 L97.63,513.69 L98.16,513.69 L98.68,513.69 L99.20,513.69 L99.73,513.69 L100.25,513.68 L100.78,513.68 L101.30,513.68 L101.82,513.68 L102.35,513.68 L102.87,513.68 L103.40,513.68 L103.92,513.68" stroke="#c8324a" stroke-width="0.9" fill="none"/>
<path d="M37.90,571.40 L38.42,571.40 L38.94,571.40 L39.47,571.40 L39.99,571.40 L40.52,571.40 L41.04,571.40 L41.56,571.40 L42.09,571.40 L42.61,571.40 L43.14,571.40 L43.66,571.40 L44.18,571.40 L44.71,571.40 L45.23,571.39 L45.76,571.39 L46.28,571.39 L46.80,571.39 L47.33,571.39 L47.85,571.39 L48.38,571.39 L48.90,571.38 L49.42,571.38 L49.95,571.38 L50.47,571.37 L51.00,571.37 L51.52,571.36 L52.04,571.36 L52.57,571.35 L53.09,571.34 L53.62,571.33 L54.14,571.31 L54.66,571.30 L55.19,571.28 L55.71,571.26 L56.24,571.23 L56.76,571.20 L57.28,571.17 L57.81,571.12 L58.33,571.07 L58.86,571.01 L59.38,570.94 L59.90,570.86 L60.43,570.77 L60.95,570.65 L61.48,570.52 L62.00,570.36 L62.52,570.18 L63.05,569.96 L63.57,569.71 L64.10,569.41 L64.62,569.07 L65.14,568.66 L65.67,568.19 L66.19,567.65 L66.72,567.02 L67.24,566.30 L67.76,565.47 L68.29,564.52 L68.81,563.44 L69.34,562.23 L69.86,560.87 L70.38,559.36 L70.91,557.69 L71.43,555.88 L71.96,553.91 L72.48,551.82 L73.00,549.61 L73.53,547.31 L74.05,544.94 L74.58,542.54 L75.10,540.14 L75.62,537.77 L76.15,535.47 L76.67,533.26 L77.20,531.17 L77.72,529.20 L78.24,527.39 L78.77,525.72 L79.29,524.21 L79.82,522.85 L80.34,521.64 L80.86,520.56 L81.39,519.61 L81.91,518.78 L82.44,518.06 L82.96,517.43 L83.48,516.89 L84.01,516.42 L84.53,516.01 L85.06,515.67 L85.58,515.37 L86.10,515.12 L86.63,514.90 L87.15,514.72 L87.68,514.56 L88.20,514.43 L88.72,514.31 L89.25,514.22 L89.77,514.13 L90.30,514.07 L90.82,514.01 L91.34,513.96 L91.87,513.91 L92.39,513.88 L92.92,513.85 L93.44,513.82 L93.96,513.80 L94.49,513.78 L95.01,513.77 L95.54,513.75 L96.06,513.74 L96.58,513.73 L97.11,513.72 L97.63,513.72 L98.16,513.71 L98.68,513.71 L99.20,513.70 L99.73,513.70 L100.25,513.70 L100.78,513.69 L101.30,513.69 L101.82,513.69 L102.35,513.69 L102.87,513.69 L103.40,513.69 L103.92,513.68" stroke="#eea04a" stroke-width="0.9" fill="none"/>
<line x1="38.50" y1="571.00" x2="57.00" y2="571.00" stroke="#333" stroke-width="0.9"/>
<line x1="87.00" y1="514.30" x2="103.70" y2="514.30" stroke="#4a4a30" stroke-width="1.0"/>
<line x1="38.10" y1="509.00" x2="38.10" y2="574.30" stroke="#111" stroke-width="1.1"/>
<line x1="37.60" y1="573.80" x2="103.70" y2="573.80" stroke="#111" stroke-width="1.1"/>
<line x1="36.00" y1="571.40" x2="38.10" y2="571.40" stroke="#111" stroke-width="0.8"/>
<text x="31.20" y="573.60" font-size="6.1" fill="#222" text-anchor="end">0</text>
<line x1="36.00" y1="542.70" x2="38.10" y2="542.70" stroke="#111" stroke-width="0.8"/>
<text x="31.20" y="544.90" font-size="6.1" fill="#222" text-anchor="end">90</text>
<line x1="36.00" y1="514.00" x2="38.10" y2="514.00" stroke="#111" stroke-width="0.8"/>
<text x="31.20" y="516.20" font-size="6.1" fill="#222" text-anchor="end">180</text>
<line x1="45.10" y1="573.80" x2="45.10" y2="576.60" stroke="#111" stroke-width="0.8"/>
<text x="45.10" y="585.90" font-size="6.1" fill="#222" text-anchor="middle">−2</text>
<line x1="71.30" y1="573.80" x2="71.30" y2="576.60" stroke="#111" stroke-width="0.8"/>
<text x="71.30" y="585.90" font-size="6.1" fill="#222" text-anchor="middle">0</text>
<line x1="97.50" y1="573.80" x2="97.50" y2="576.60" stroke="#111" stroke-width="0.8"/>
<text x="97.50" y="585.90" font-size="6.1" fill="#222" text-anchor="middle">2</text>
<text x="50.80" y="498.50" font-size="8.6" fill="#111" textLength="40.2" lengthAdjust="spacingAndGlyphs">OCI-AML2</text>
<text x="38.00" y="505.00" font-size="4.4" fill="#333" textLength="65" lengthAdjust="spacingAndGlyphs">MitoCarta proteome (n = 182)</text>
<text x="41.30" y="515.80" font-size="4.4" fill="#3a6eb5" textLength="24" lengthAdjust="spacingAndGlyphs">P = 6.4e-008</text>
<text x="41.30" y="521.40" font-size="4.4" fill="#c8324a" textLength="20.5" lengthAdjust="spacingAndGlyphs">P = 1e-005</text>
<text x="82.40" y="559.60" font-size="4.3" fill="#eea04a" textLength="22.9" lengthAdjust="spacingAndGlyphs">ScrAraC/Scr</text>
<text x="81.80" y="564.10" font-size="4.3" fill="#c8324a" textLength="23.5" lengthAdjust="spacingAndGlyphs">KOAraC/KO</text>
<text x="73.30" y="568.70" font-size="4.3" fill="#3a6eb5" textLength="32" lengthAdjust="spacingAndGlyphs">KOAraC/ScrAraC</text>
<text x="17.00" y="542.60" font-size="8" fill="#222" text-anchor="middle" textLength="27" lengthAdjust="spacingAndGlyphs" transform="rotate(-90 17 542.6)">Cum FRQ</text>
<text x="60.9" y="599.9" font-size="9" fill="#222" textLength="20.1" lengthAdjust="spacingAndGlyphs">Log<tspan dy="2" font-size="5">2</tspan><tspan dy="-2">FC</tspan></text>
<line x1="152.00" y1="551.40" x2="208.60" y2="518.50" stroke="#14202e" stroke-width="1.0"/>
<clipPath id="clipL"><rect x="147" y="505" width="68" height="69.5"/></clipPath>
<g clip-path="url(#clipL)">
<path d="M181.7 543.5h0M201.3 536.6h0M174.3 546.6h0M152.7 541.6h0M160.9 556.8h0M164.4 544.4h0M175.8 537.1h0M172.5 541.7h0M197.9 524.0h0M188.1 539.1h0M170.5 528.8h0M176.4 547.1h0M157.3 543.3h0M192.5 534.4h0M181.5 541.4h0M174.8 526.9h0M158.0 542.4h0M185.8 525.8h0M164.8 537.0h0M160.6 545.8h0M166.5 546.6h0M153.4 554.5h0M162.7 527.2h0M184.8 529.1h0M149.7 545.4h0M179.3 530.9h0M189.8 535.7h0M186.7 533.6h0M195.5 531.3h0M174.1 518.8h0" stroke="#c8c8c8" stroke-width="1.20" stroke-linecap="round" fill="none"/>
<path d="M185.7 535.4h0M175.4 534.7h0M186.4 522.7h0M185.2 540.2h0M173.7 540.4h0M189.0 527.7h0M183.0 535.5h0M172.5 538.1h0M181.2 536.3h0M177.4 534.6h0M171.3 537.7h0M183.5 532.0h0M171.4 535.7h0M195.9 528.4h0M177.1 525.2h0M182.6 534.1h0M188.8 530.0h0M178.5 536.8h0M168.3 545.2h0M178.7 531.8h0M189.1 535.3h0M168.5 538.3h0M180.1 534.4h0M173.9 533.7h0M192.5 530.1h0M168.5 535.6h0M189.9 531.5h0M190.3 530.6h0M173.3 539.0h0M163.8 540.9h0M178.6 536.7h0M173.5 537.3h0M181.4 534.4h0M182.2 533.2h0M177.5 538.5h0M176.8 532.4h0M174.3 537.3h0M177.6 535.9h0M178.3 535.5h0M174.9 531.9h0M182.4 536.5h0M180.2 532.8h0M178.9 530.6h0M166.9 542.2h0M173.8 540.6h0M166.8 531.4h0M174.7 543.4h0M173.3 532.5h0M174.4 539.3h0M181.3 533.7h0M188.1 531.5h0M179.0 536.8h0M189.6 531.7h0M182.1 528.1h0M178.4 537.7h0M178.2 539.2h0M183.2 535.4h0M181.3 543.1h0M185.0 529.8h0M183.2 542.1h0M177.5 538.8h0M183.8 531.4h0M171.4 539.9h0M182.2 536.9h0M182.7 532.2h0M184.0 533.4h0M179.3 534.4h0M177.8 537.9h0M170.6 537.1h0M175.4 530.8h0M171.8 530.8h0M175.0 539.2h0M181.3 532.7h0M174.1 531.8h0M189.8 529.7h0M182.9 528.4h0M173.6 530.4h0M184.3 534.8h0M166.6 541.9h0M178.6 527.6h0M165.2 538.7h0M171.7 533.3h0M178.6 535.6h0M183.0 534.7h0M189.0 532.8h0M169.3 538.4h0M169.8 535.8h0M177.5 535.3h0M178.1 528.6h0M170.6 539.5h0M176.3 534.8h0M176.3 533.0h0M182.8 533.4h0M176.3 533.4h0M172.1 527.8h0M172.2 538.7h0M169.4 541.2h0M176.4 530.5h0M175.9 535.0h0M181.8 535.1h0M176.3 532.7h0M177.0 535.3h0M182.9 533.1h0M171.3 533.8h0M174.5 534.2h0M171.2 538.8h0M175.3 537.1h0M180.4 531.9h0M191.2 525.5h0M184.8 531.3h0M180.3 524.0h0M174.0 538.5h0M185.8 539.5h0M182.2 537.5h0M184.3 534.9h0M180.7 532.7h0M179.1 530.0h0M183.2 527.7h0M183.3 540.2h0M176.7 535.9h0M185.0 530.8h0M173.7 538.7h0M182.7 534.9h0M176.6 542.9h0M187.9 528.9h0M178.8 532.8h0M185.1 527.7h0M181.1 531.1h0M175.2 539.6h0M185.9 530.0h0M175.4 539.9h0M178.3 536.1h0M189.1 532.6h0M179.0 543.5h0M179.4 537.3h0M174.1 537.3h0M170.8 546.6h0M183.9 526.4h0M166.1 535.9h0M184.2 529.3h0M177.1 534.3h0M175.3 532.3h0M175.6 530.8h0M178.1 536.2h0M180.4 532.6h0M172.9 538.8h0M177.9 541.3h0M182.3 531.8h0M173.9 534.7h0M171.8 537.5h0M180.7 535.4h0M185.2 538.9h0M173.8 537.7h0M191.2 519.3h0M175.2 537.4h0M179.7 535.6h0M177.2 536.9h0M179.7 537.0h0M165.2 539.5h0M176.1 532.0h0M172.9 540.7h0M175.3 539.2h0M183.0 533.1h0M180.8 532.8h0M169.6 540.1h0M179.7 531.8h0M178.8 537.5h0M173.9 540.1h0M188.1 526.5h0M178.6 534.0h0M187.7 530.2h0M182.1 529.7h0M177.9 535.0h0M170.1 545.7h0M180.2 526.6h0M182.2 531.9h0M181.3 534.4h0M168.7 539.9h0M185.8 527.8h0M169.5 534.9h0M171.4 540.5h0M188.8 530.0h0M183.5 540.5h0M173.7 535.0h0M182.1 534.6h0M169.9 535.4h0M180.2 534.6h0M169.9 539.3h0M175.6 538.3h0M177.2 535.2h0M177.8 539.3h0M185.6 528.8h0M181.7 529.7h0M179.8 536.9h0M186.3 528.3h0M177.9 535.8h0M169.1 540.6h0M174.7 538.6h0M167.7 533.5h0M178.7 535.6h0M176.3 539.6h0M175.3 534.3h0M178.0 528.7h0M173.9 537.5h0M182.7 531.4h0M178.7 532.0h0M182.8 538.7h0M178.2 544.4h0M174.2 537.4h0M180.9 537.3h0M166.9 533.5h0M183.0 535.0h0M186.4 540.3h0M179.7 535.0h0M184.2 532.6h0M185.6 525.3h0M169.6 526.5h0M182.2 530.9h0M187.4 537.8h0M177.5 534.3h0M173.5 534.4h0M175.4 539.2h0M178.3 535.1h0M178.6 538.3h0M180.7 532.8h0M181.7 532.1h0M173.8 543.5h0M179.0 530.5h0M185.0 532.0h0M171.6 545.4h0M181.6 536.3h0M178.9 533.8h0M170.6 543.5h0M177.7 534.1h0M180.2 533.9h0M181.3 531.4h0M173.9 529.0h0M176.7 538.5h0M185.3 529.0h0M180.1 540.0h0M177.4 538.3h0M188.0 528.9h0M184.0 528.4h0M179.1 534.0h0M180.7 537.8h0M191.0 524.2h0M175.5 538.6h0M172.6 540.3h0M180.9 532.1h0M178.4 528.6h0M179.7 527.7h0M172.9 536.0h0M177.2 539.0h0M177.8 533.6h0M184.1 537.5h0M178.7 536.0h0M185.8 531.2h0M174.9 546.9h0M187.5 521.1h0M178.5 536.3h0M184.9 533.3h0M174.5 533.0h0M180.5 537.6h0M169.7 536.1h0M174.4 529.5h0M175.7 534.7h0M179.4 531.3h0M172.1 537.1h0M176.5 533.3h0M179.4 537.1h0M188.1 535.5h0M172.6 536.7h0M166.7 549.7h0M173.6 537.6h0M178.7 529.1h0M180.7 533.2h0M167.7 542.6h0M181.7 525.2h0M183.2 532.6h0M181.6 534.5h0M185.3 529.5h0M182.4 530.6h0M180.9 530.0h0M180.5 540.4h0M180.4 532.9h0M169.8 537.0h0M180.8 537.0h0M181.5 534.9h0M180.2 539.1h0M174.7 534.9h0M183.4 531.9h0M175.3 534.4h0M177.6 537.8h0M177.9 530.2h0M180.9 533.9h0M173.5 540.9h0M175.7 535.1h0M185.1 535.9h0M174.7 538.8h0M177.0 544.9h0M177.2 540.3h0M175.6 539.7h0M186.6 519.4h0M176.3 538.1h0M176.2 533.4h0M190.9 527.2h0M169.8 543.6h0M169.9 544.7h0M174.8 537.6h0M185.7 530.7h0M166.7 535.3h0M186.4 532.7h0M174.7 540.5h0M182.1 535.0h0M164.0 542.5h0M184.7 533.8h0M178.8 524.6h0M179.9 535.8h0M191.4 522.8h0M176.1 536.3h0M182.5 530.4h0M183.4 528.5h0M178.6 532.5h0M177.7 532.4h0M170.5 544.1h0M178.8 532.3h0M181.0 537.1h0M172.0 538.3h0M182.1 534.5h0M172.2 530.2h0M186.0 531.3h0M177.6 534.1h0M178.8 532.8h0M170.6 536.7h0M173.4 535.4h0M172.3 541.1h0M171.4 541.8h0M172.6 539.8h0M186.5 530.5h0M173.7 537.9h0M175.8 529.5h0M174.7 537.7h0M175.4 537.0h0M183.7 534.5h0M184.4 533.3h0M176.3 536.0h0M175.8 535.1h0M173.8 530.7h0M176.0 536.2h0M172.2 538.5h0M180.8 532.6h0M185.6 519.8h0M173.5 530.5h0M188.6 539.0h0M163.4 544.6h0M180.5 532.2h0M177.2 526.5h0M183.7 532.9h0M177.1 533.2h0M180.9 531.2h0M178.4 532.7h0M164.6 543.2h0M180.6 536.4h0M172.7 538.2h0M181.9 533.1h0M189.0 536.1h0M169.1 532.8h0M185.8 536.2h0M184.9 533.9h0M173.0 535.2h0M181.6 529.1h0M165.4 538.9h0M196.3 531.3h0M172.6 535.4h0M178.0 532.0h0M185.6 529.9h0M173.9 542.8h0M174.9 537.8h0M177.4 534.1h0M178.7 531.8h0M163.1 535.5h0M169.1 537.5h0M178.0 535.2h0M181.5 533.3h0M172.0 535.9h0M165.1 542.4h0M181.8 534.7h0M177.0 534.9h0M183.6 531.6h0M183.4 533.9h0M181.6 538.0h0M174.0 536.1h0M171.8 535.7h0M190.4 534.3h0M179.2 536.6h0M186.4 533.0h0M182.9 526.9h0M175.0 538.7h0M186.7 530.0h0M172.3 537.2h0M172.5 535.0h0M185.8 527.6h0M182.0 541.2h0M185.6 531.6h0M175.1 538.5h0M188.7 530.8h0M185.7 530.6h0M180.7 532.5h0M182.9 537.2h0M169.4 540.1h0M178.4 532.5h0M177.6 538.4h0M191.0 529.4h0M177.1 529.3h0M189.6 528.1h0M175.8 531.9h0M175.7 532.1h0M179.3 536.1h0M178.7 535.7h0M175.5 542.3h0M170.8 532.2h0M175.5 533.5h0M171.4 537.7h0M177.6 530.5h0M179.8 539.6h0M181.8 532.0h0M178.5 534.2h0M179.0 537.3h0M173.1 528.4h0M176.3 532.5h0M180.8 530.8h0M182.8 540.7h0M169.8 535.6h0M165.3 533.3h0M167.5 543.0h0M170.8 532.0h0M170.3 542.3h0M172.7 536.8h0M182.4 537.7h0M191.4 530.8h0M179.2 535.0h0M191.3 532.4h0M177.0 537.5h0M179.8 534.1h0M172.6 533.0h0M172.0 532.5h0M186.2 532.0h0M173.4 543.5h0M179.9 526.2h0M190.4 530.5h0M188.0 523.8h0M181.9 534.3h0M179.5 534.7h0M181.6 526.8h0M168.1 535.6h0M173.6 535.3h0M180.7 534.4h0M177.0 532.9h0M177.1 539.4h0M182.7 532.5h0M178.9 540.7h0M175.6 539.1h0M184.4 530.0h0M180.9 528.7h0M184.4 531.8h0M169.8 542.8h0M175.0 542.0h0M173.7 537.0h0M179.1 533.0h0M178.5 532.4h0M182.0 532.5h0M174.3 526.3h0M185.0 530.8h0M167.6 541.9h0M182.7 536.4h0M174.4 543.5h0M181.4 542.5h0M178.4 537.5h0M173.8 533.1h0M186.1 533.5h0M188.7 531.8h0M171.6 532.3h0M172.9 535.5h0M174.2 539.7h0M179.5 533.0h0M178.8 533.9h0M180.6 536.4h0M182.5 529.5h0M171.6 544.7h0M180.7 537.8h0M167.7 540.1h0M175.6 530.7h0M176.2 539.0h0M187.3 535.6h0M170.3 534.2h0M182.8 535.8h0M176.8 530.5h0M184.1 534.4h0M180.4 531.5h0M181.2 536.2h0" stroke="#c2c2c2" stroke-width="1.60" stroke-linecap="round" fill="none"/>
<path d="M173.8 531.8h0M180.4 534.8h0M179.8 536.4h0M176.1 535.7h0M178.1 536.5h0M184.2 530.1h0M188.4 533.0h0M182.3 533.9h0M185.0 529.9h0M176.6 532.4h0M182.2 536.3h0M181.1 534.2h0M178.0 535.4h0M174.5 540.2h0M175.4 533.0h0M174.5 534.5h0M183.2 534.8h0M174.6 539.8h0M181.1 531.1h0M171.8 536.4h0M176.6 536.8h0M174.3 530.9h0M177.3 530.6h0M180.3 529.7h0M174.7 534.3h0M178.2 538.7h0M182.6 533.8h0M177.6 530.3h0M175.8 534.5h0M175.5 538.0h0M174.7 534.7h0M171.7 532.5h0M182.6 536.0h0M177.8 531.9h0M168.4 541.3h0M183.6 532.3h0M184.1 535.5h0M182.2 530.8h0M183.6 533.7h0M172.1 537.3h0M172.9 537.7h0M179.2 530.8h0M172.4 542.3h0M182.0 536.8h0M174.9 540.0h0M189.2 534.0h0M178.1 535.6h0M179.3 537.1h0M182.6 532.2h0M174.3 539.4h0M177.6 537.0h0M181.7 537.5h0M182.2 530.8h0M182.3 537.6h0M177.0 536.7h0M184.8 534.4h0M178.7 530.4h0M174.0 538.1h0M183.5 539.2h0M176.8 539.1h0M179.1 529.0h0M175.6 536.8h0M176.4 535.3h0M179.2 531.6h0M179.4 532.0h0M177.2 537.0h0M176.7 536.5h0M184.6 530.7h0M179.0 536.5h0M178.6 537.8h0M174.5 538.9h0M175.4 534.0h0M184.1 528.4h0M186.1 531.8h0M182.7 528.9h0M185.1 534.9h0M177.9 534.5h0M188.1 529.0h0M176.0 534.1h0M180.7 534.2h0M181.5 537.9h0M177.9 536.3h0M182.7 528.8h0M185.0 536.1h0M171.8 535.3h0M172.0 532.9h0M177.7 529.3h0M182.4 536.5h0M171.9 537.7h0M172.3 540.8h0M175.3 535.7h0M179.5 535.6h0M177.2 535.4h0M176.6 536.1h0M174.1 537.4h0M170.5 538.0h0M185.9 530.1h0M174.0 538.1h0M172.5 533.2h0M176.7 537.9h0M179.8 533.4h0M173.5 534.3h0M184.0 531.8h0M172.0 532.1h0M176.7 543.2h0M174.0 537.1h0M179.1 533.7h0M175.5 532.1h0M176.8 540.7h0M176.8 538.2h0M171.7 537.9h0M180.9 536.2h0M175.0 538.5h0M179.0 532.0h0M179.1 531.4h0M175.4 536.4h0M168.0 540.7h0M172.7 533.7h0M177.9 537.2h0M178.7 538.3h0M172.3 534.4h0M185.0 531.7h0M181.0 530.4h0M181.9 533.2h0M181.0 533.0h0M182.2 530.2h0M172.8 533.5h0M181.9 530.1h0M173.2 534.9h0M175.1 532.8h0M176.5 533.8h0M175.1 533.7h0M178.0 533.4h0M179.3 534.8h0M176.8 528.9h0M175.4 534.0h0M179.3 529.2h0M175.4 535.6h0M178.6 537.5h0M178.1 537.7h0M170.4 534.0h0M183.8 532.6h0M180.5 533.6h0M178.7 530.7h0M181.4 531.1h0M182.4 532.3h0M169.2 536.4h0M182.6 531.5h0M177.3 536.0h0M176.1 534.3h0M179.1 534.6h0M184.4 531.0h0M188.2 534.0h0M186.5 532.7h0M179.2 534.5h0M176.9 533.2h0M177.4 533.2h0M185.5 531.8h0M174.2 531.3h0M177.7 533.7h0M172.8 534.6h0M170.7 541.1h0M181.8 540.3h0M178.2 534.2h0M184.2 531.4h0M178.6 533.3h0M178.3 539.2h0M184.7 535.9h0M177.2 535.4h0M176.5 538.7h0M174.0 539.1h0M184.6 535.0h0M176.4 539.1h0M174.7 534.5h0M175.0 540.2h0M184.0 529.3h0M175.1 535.6h0M189.5 530.7h0M174.0 531.8h0M177.6 538.7h0M185.3 529.5h0M175.2 535.0h0M172.6 541.0h0M175.8 539.4h0M170.2 535.8h0M178.5 532.1h0M181.5 532.7h0M174.9 538.7h0M179.1 528.3h0M186.2 531.2h0M178.8 528.6h0M175.3 535.4h0M180.6 528.7h0M172.3 532.1h0M178.1 535.8h0M171.3 537.2h0M182.6 536.8h0M180.6 532.2h0M172.7 535.2h0M176.2 536.4h0M180.6 538.3h0M178.1 531.5h0M185.7 532.9h0M177.9 532.7h0M170.0 536.7h0M180.9 530.6h0M173.7 538.1h0M180.3 535.3h0M182.9 536.0h0M176.6 538.7h0M175.7 538.4h0M179.5 534.6h0M182.2 532.2h0M184.0 533.8h0M178.2 532.9h0M174.9 535.1h0M177.7 534.9h0M190.8 528.8h0M180.2 530.8h0M175.3 535.5h0M177.8 531.8h0M183.9 529.4h0M179.4 526.8h0M178.9 535.1h0M180.1 535.4h0M179.8 534.2h0M170.3 537.4h0M170.4 541.5h0M179.4 533.3h0M174.6 535.2h0M187.9 533.9h0M180.1 537.5h0M169.8 534.0h0M175.5 533.7h0M176.6 536.2h0M189.1 525.8h0M179.1 535.0h0M179.7 536.6h0M183.6 527.5h0M178.8 533.5h0M177.7 530.3h0M168.6 533.6h0M180.8 533.7h0M175.5 529.1h0M176.0 533.7h0M171.8 535.9h0M181.9 534.0h0M179.1 535.7h0M176.3 536.1h0M179.4 535.6h0M178.0 534.4h0M177.1 533.4h0M187.7 530.3h0M183.3 538.5h0M181.7 527.7h0M182.3 534.7h0M187.5 532.9h0M179.8 530.1h0M175.5 537.2h0M179.0 531.0h0M176.5 534.5h0M179.2 535.1h0M175.7 532.5h0M185.4 535.1h0M179.5 537.0h0M181.1 534.9h0M179.3 531.7h0M182.1 535.4h0M177.8 541.0h0M189.0 533.5h0M187.1 531.4h0M176.4 534.0h0M175.6 536.7h0M179.3 536.1h0M174.0 544.4h0M187.1 529.0h0M181.7 533.9h0M179.3 533.4h0M176.9 533.0h0M179.1 534.0h0M178.5 531.9h0M178.7 534.5h0M179.3 530.7h0M181.5 535.7h0M180.3 532.3h0M176.3 535.2h0M183.4 536.2h0M177.0 533.5h0M180.2 534.1h0M174.0 535.0h0M179.0 536.2h0M172.5 535.1h0M178.7 530.6h0M179.4 535.0h0M176.7 532.5h0M177.8 533.9h0M178.6 531.8h0M180.4 528.2h0M177.8 534.9h0M181.3 530.9h0" stroke="#b4b4b4" stroke-width="1.70" stroke-linecap="round" fill="none"/>
<path d="M184.5 515.7h0M186.6 518.5h0M183.6 518.0h0M183.1 519.2h0M186.1 515.8h0" stroke="#eee0b0" stroke-width="1.20" stroke-linecap="round" fill="none"/>
<path d="M168.9 545.2h0M178.5 541.1h0M171.9 534.3h0M172.4 546.7h0M169.9 547.3h0M180.6 538.3h0M175.8 537.4h0M167.6 544.1h0M171.5 541.6h0M174.6 539.0h0M173.8 541.8h0M175.7 546.0h0M174.1 540.3h0M170.4 540.1h0M177.5 538.1h0M167.3 542.5h0M171.0 540.4h0M174.2 535.4h0M174.4 540.3h0M168.0 544.4h0M172.9 542.8h0M171.2 543.2h0M164.2 542.7h0M177.1 541.9h0M171.2 539.7h0M172.5 532.9h0M170.6 545.0h0M172.8 536.8h0M168.0 549.9h0M171.2 538.5h0M174.2 543.4h0M164.8 550.8h0M171.2 533.8h0M171.9 534.5h0M177.2 539.3h0" stroke="#7ab0e0" stroke-width="1.60" stroke-linecap="round" fill="none"/>
<path d="M176.3 537.2h0M173.5 542.7h0M170.6 541.1h0M171.7 541.6h0M170.8 543.4h0M173.6 540.6h0M175.5 538.4h0M174.5 538.6h0M172.1 537.5h0M172.7 540.7h0M170.9 541.0h0M171.1 540.7h0M167.6 543.4h0M170.9 541.2h0M170.3 542.5h0M173.8 539.8h0M172.9 543.8h0M175.3 541.1h0M174.5 539.2h0M173.3 542.9h0M171.3 541.8h0M173.6 541.2h0M172.9 542.9h0M172.9 542.5h0M175.2 540.6h0M172.8 538.6h0M169.3 542.1h0M174.9 542.6h0M170.4 543.3h0M170.1 541.4h0M172.6 542.5h0M174.1 542.5h0M171.4 543.8h0M174.4 540.0h0M172.9 539.8h0M170.0 542.1h0M174.1 546.1h0M173.2 544.2h0M173.2 541.4h0M173.2 539.1h0M174.7 540.5h0M170.1 544.1h0M174.0 541.1h0M175.2 538.4h0M174.2 541.5h0M171.9 544.1h0M168.4 541.4h0M172.5 539.0h0M170.7 539.1h0M171.5 539.5h0M171.7 538.6h0M173.1 540.2h0M172.6 541.0h0M171.5 539.2h0M167.5 544.8h0M170.2 541.9h0M171.4 537.8h0M170.4 541.4h0M170.7 543.1h0M171.4 540.3h0M171.4 543.7h0M171.8 542.9h0M171.5 537.9h0M170.4 542.7h0M173.9 541.8h0M175.1 541.5h0M171.6 541.4h0M173.6 539.5h0M173.0 537.5h0M173.6 540.1h0M169.6 545.3h0M173.1 540.8h0M169.9 542.0h0M174.7 538.0h0M164.8 544.8h0M170.0 542.7h0M170.8 540.5h0M171.9 543.8h0M171.6 545.9h0M170.4 540.4h0" stroke="#1e4f8a" stroke-width="1.80" stroke-linecap="round" fill="none"/>
<path d="M151.4 548.9h0M152.6 548.9h0M153.7 549.0h0M155.1 548.1h0M155.0 548.0h0M156.7 547.2h0M156.7 547.6h0M156.9 546.5h0M159.0 547.0h0M159.0 545.5h0M160.4 546.1h0M161.1 546.2h0M162.0 545.0h0M161.6 544.4h0M162.9 544.4h0M163.2 543.6h0M164.7 543.9h0M165.0 544.2h0M166.2 542.4h0" stroke="#1e4f8a" stroke-width="1.60" stroke-linecap="round" fill="none"/>
<path d="M151.7 559.9h0M162.0 553.5h0M167.5 551.5h0M170.0 556.0h0M175.5 545.5h0M165.0 549.0h0M158.0 548.0h0M160.0 552.0h0M163.0 546.5h0M156.0 550.0h0" stroke="#1e4f8a" stroke-width="1.80" stroke-linecap="round" fill="none"/>
<path d="M184.4 527.5h0M186.4 527.1h0M187.7 524.2h0M186.8 523.1h0M185.4 524.7h0M184.2 526.2h0M187.0 526.8h0M180.3 527.4h0M184.5 525.4h0M187.3 525.1h0M186.0 524.4h0M187.3 524.9h0M183.1 526.5h0M183.3 525.0h0M186.6 524.9h0M185.9 523.9h0M185.4 524.2h0M187.4 525.4h0M190.0 524.8h0M184.7 525.2h0M185.0 526.2h0M190.0 523.9h0M181.9 525.7h0M184.5 526.8h0M186.5 525.3h0M188.7 522.4h0M186.2 528.0h0M186.4 523.8h0" stroke="#1e4f8a" stroke-width="1.80" stroke-linecap="round" fill="none"/>
<path d="M190.5 518.6h0M190.7 520.5h0M195.1 519.1h0M193.9 517.7h0M194.4 520.7h0M191.8 520.0h0M194.9 518.8h0M194.1 519.0h0M195.7 517.3h0M193.7 518.4h0M192.9 518.9h0M194.1 518.7h0M197.3 518.2h0M194.1 519.2h0" stroke="#1e4f8a" stroke-width="1.80" stroke-linecap="round" fill="none"/>
<path d="M190.4 512.4h0M188.0 520.0h0M197.0 521.0h0M199.5 517.5h0M186.0 529.0h0M191.0 522.5h0" stroke="#1e4f8a" stroke-width="1.80" stroke-linecap="round" fill="none"/>
<path d="M184.6 529.5h0M184.0 528.5h0M183.1 526.4h0M185.7 530.6h0M185.3 528.9h0M184.5 527.1h0M180.4 529.3h0M184.4 526.9h0" stroke="#7ab0e0" stroke-width="1.40" stroke-linecap="round" fill="none"/>
</g>
<line x1="146.40" y1="534.10" x2="214.70" y2="534.10" stroke="#444" stroke-width="0.7" stroke-dasharray="1.6,1.5"/>
<line x1="180.60" y1="506.00" x2="180.60" y2="575.00" stroke="#444" stroke-width="0.7" stroke-dasharray="1.6,1.5"/>
<line x1="146.40" y1="506.00" x2="146.40" y2="575.50" stroke="#111" stroke-width="1.1"/>
<line x1="145.90" y1="575.00" x2="214.70" y2="575.00" stroke="#111" stroke-width="1.1"/>
<line x1="144.30" y1="507.50" x2="146.40" y2="507.50" stroke="#111" stroke-width="0.8"/>
<text x="140.30" y="509.70" font-size="6.1" fill="#222" text-anchor="end">2</text>
<line x1="144.30" y1="534.10" x2="146.40" y2="534.10" stroke="#111" stroke-width="0.8"/>
<text x="140.30" y="536.30" font-size="6.1" fill="#222" text-anchor="end">0</text>
<line x1="144.30" y1="560.70" x2="146.40" y2="560.70" stroke="#111" stroke-width="0.8"/>
<text x="140.30" y="562.90" font-size="6.1" fill="#222" text-anchor="end">−2</text>
<line x1="146.40" y1="575.00" x2="146.40" y2="577.20" stroke="#111" stroke-width="0.8"/>
<text x="146.40" y="585.90" font-size="6.1" fill="#222" text-anchor="middle">−2</text>
<line x1="179.50" y1="575.00" x2="179.50" y2="577.20" stroke="#111" stroke-width="0.8"/>
<text x="179.50" y="585.90" font-size="6.1" fill="#222" text-anchor="middle">0</text>
<line x1="212.60" y1="575.00" x2="212.60" y2="577.20" stroke="#111" stroke-width="0.8"/>
<text x="212.60" y="585.90" font-size="6.1" fill="#222" text-anchor="middle">2</text>
<text x="160.30" y="498.20" font-size="8.6" fill="#111" textLength="41.7" lengthAdjust="spacingAndGlyphs">TRMT5-KO</text>
<text x="152.30" y="512.80" font-size="4" fill="#6a8ab0" textLength="13" lengthAdjust="spacingAndGlyphs" font-style="italic">P&lt;.05</text>
<text x="148.00" y="567.00" font-size="4" fill="#222" textLength="13" lengthAdjust="spacingAndGlyphs">r2 = 0.4</text>
<text x="148.00" y="572.30" font-size="4" fill="#222" textLength="21" lengthAdjust="spacingAndGlyphs">P = 4.8e-232</text>
<text x="195.70" y="567.00" font-size="4" fill="#4a7ab0" textLength="12.5" lengthAdjust="spacingAndGlyphs">n = 736</text>
<text x="195.70" y="572.30" font-size="4" fill="#aab8c8" textLength="14" lengthAdjust="spacingAndGlyphs">n = 1665</text>
<text x="128.6" y="532.6" font-size="8.3" fill="#222" text-anchor="middle" transform="rotate(-90 128.6 532.6)" textLength="36.2" lengthAdjust="spacingAndGlyphs">Log<tspan dy="2" font-size="5">2</tspan><tspan dy="-2">FC OCI2</tspan></text>
<text x="205.1" y="599.5" font-size="8.5" fill="#222" textLength="49" lengthAdjust="spacingAndGlyphs">Log<tspan dy="2" font-size="5">2</tspan><tspan dy="-2">FC MOLM13</tspan></text>
<line x1="248.00" y1="546.60" x2="306.50" y2="528.10" stroke="#2a1418" stroke-width="1.0"/>
<clipPath id="clipM"><rect x="244" y="505" width="72" height="69.5"/></clipPath>
<g clip-path="url(#clipM)">
<path d="M271.3 527.1h0M266.4 518.6h0M266.9 545.8h0M280.8 528.2h0M280.0 530.7h0M286.8 532.8h0M289.5 546.7h0M277.2 531.2h0M284.0 529.6h0M285.2 539.4h0M280.3 522.4h0M269.8 535.7h0M273.2 525.3h0M283.0 527.1h0M279.5 532.8h0M271.6 547.5h0M271.6 530.7h0M278.3 547.8h0M274.3 528.9h0M279.4 535.3h0M276.9 533.9h0M276.3 549.5h0M274.7 535.0h0M291.2 550.6h0M294.0 550.3h0M278.9 542.6h0M282.9 552.4h0M286.6 529.8h0M274.3 523.4h0M286.5 532.6h0" stroke="#c8c8c8" stroke-width="1.20" stroke-linecap="round" fill="none"/>
<path d="M285.8 539.2h0M283.9 533.0h0M278.1 547.4h0M288.3 534.3h0M282.4 537.8h0M280.6 538.5h0M278.8 534.3h0M282.3 541.6h0M284.0 533.1h0M287.1 540.1h0M285.2 534.7h0M279.3 527.1h0M282.3 535.8h0M288.7 541.1h0M281.4 535.7h0M287.2 541.0h0M282.2 540.8h0M279.1 545.4h0M274.8 540.5h0M284.1 535.8h0M285.8 533.4h0M289.6 535.1h0M280.8 535.6h0M284.5 542.4h0M285.9 544.9h0M289.5 534.4h0M285.0 530.7h0M281.5 545.8h0M279.8 529.1h0M283.7 539.0h0M283.6 536.0h0M288.7 531.8h0M277.7 535.9h0M284.5 545.1h0M282.8 531.1h0M281.8 541.9h0M280.8 532.4h0M280.5 534.9h0M287.7 532.8h0M279.7 536.7h0M282.2 528.9h0M284.5 541.5h0M274.6 532.6h0M279.3 541.7h0M275.9 530.6h0M283.3 525.2h0M278.1 541.2h0M284.3 529.8h0M289.7 536.5h0M280.9 540.3h0M280.2 533.4h0M281.9 541.1h0M277.3 539.9h0M281.6 533.0h0M278.4 533.1h0M280.5 533.6h0M282.3 536.9h0M284.0 546.9h0M280.4 545.3h0M284.0 544.3h0M280.4 542.2h0M281.1 532.2h0M282.5 535.2h0M286.0 544.0h0M287.7 524.7h0M284.6 532.9h0M280.4 536.3h0M282.5 547.3h0M285.5 538.7h0M277.9 540.2h0M290.5 543.7h0M277.3 542.2h0M288.5 540.7h0M280.2 534.3h0M285.7 538.3h0M278.4 530.7h0M276.4 528.1h0M281.4 536.2h0M283.8 527.3h0M288.3 539.8h0M289.0 548.5h0M281.5 528.3h0M280.2 539.3h0M283.0 533.6h0M284.4 534.3h0M277.3 520.1h0M282.1 537.6h0M281.2 532.1h0M282.8 535.9h0M289.5 542.3h0M286.5 537.2h0M276.8 534.6h0M282.1 529.1h0M278.7 532.6h0M288.0 529.2h0M284.1 539.1h0M278.4 534.4h0M283.3 530.3h0M281.1 537.1h0M278.4 533.1h0M285.5 550.0h0M291.4 547.0h0M284.7 544.7h0M283.8 536.7h0M286.7 531.5h0M277.5 534.0h0M284.5 543.1h0M284.7 532.4h0M275.2 529.1h0M282.5 540.2h0M285.9 532.5h0M280.5 544.6h0M278.3 530.4h0M279.4 529.3h0M283.4 529.8h0M281.3 539.3h0M286.2 542.1h0M278.7 546.5h0M280.8 536.1h0M282.5 531.0h0M281.3 527.7h0M277.8 537.8h0M280.2 542.3h0M283.1 533.6h0M281.5 533.9h0M278.4 524.1h0M283.3 525.9h0M284.4 535.9h0M284.0 546.4h0M279.3 546.4h0M280.7 533.0h0M284.6 544.1h0M284.6 536.3h0M283.8 536.2h0M278.9 536.9h0M282.9 544.8h0M279.5 537.6h0M286.1 533.8h0M286.6 542.6h0M286.6 541.5h0M287.5 547.1h0M277.6 541.9h0M276.5 530.5h0M288.4 530.1h0M280.4 540.8h0M291.5 533.8h0M283.6 535.5h0M283.3 533.5h0M283.4 524.5h0M278.1 547.9h0M284.8 533.5h0M278.9 538.9h0M287.2 540.1h0M282.1 537.1h0M279.1 545.5h0M278.4 539.8h0M276.7 534.1h0M280.8 533.5h0M286.4 541.4h0M288.4 530.9h0M282.8 537.0h0M280.5 534.1h0M281.2 522.7h0M283.5 536.4h0M276.7 541.7h0M285.6 532.8h0M281.8 532.2h0M286.0 539.4h0M286.9 541.9h0M281.5 541.4h0M275.0 539.7h0M282.9 534.3h0M279.7 539.3h0M280.6 527.7h0M279.7 531.6h0M283.2 544.6h0M281.8 535.4h0M277.7 517.7h0M282.3 539.6h0M284.9 533.2h0M278.0 535.3h0M277.5 535.9h0M282.5 519.6h0M282.7 537.7h0M283.8 525.3h0M288.0 543.4h0M285.8 529.3h0M279.8 532.8h0M290.3 539.0h0M285.6 545.0h0M276.1 532.9h0M286.9 535.0h0M284.7 531.7h0M283.0 529.5h0M281.8 541.7h0M271.5 528.4h0M281.4 529.8h0M279.8 536.5h0M280.6 534.1h0M283.5 549.3h0M280.6 529.3h0M283.3 530.8h0M281.4 537.3h0M279.2 534.5h0M287.1 534.3h0M284.4 541.4h0M285.7 543.4h0M281.7 539.7h0M286.1 518.4h0M276.7 529.5h0M277.9 524.5h0M281.4 543.1h0M284.7 540.1h0M281.7 536.0h0M280.2 538.9h0M284.9 534.4h0M280.6 532.6h0M285.9 525.1h0M284.2 533.2h0M292.0 533.3h0M283.2 533.8h0M290.2 540.1h0M280.6 534.3h0M278.5 539.5h0M287.0 542.3h0M284.1 539.9h0M276.4 531.5h0M285.2 531.7h0M285.3 533.1h0M281.8 542.5h0M281.9 545.0h0M278.3 532.5h0M283.7 531.7h0M282.2 535.0h0M285.5 543.3h0M282.8 538.2h0M285.6 527.6h0M280.9 534.8h0M281.0 538.2h0M284.2 536.1h0M286.4 538.3h0M282.8 527.4h0M283.4 526.8h0M284.0 531.1h0M285.4 535.4h0M288.4 532.7h0M285.8 536.6h0M293.1 537.5h0M281.1 531.0h0M282.2 520.4h0M282.2 536.6h0M280.7 526.6h0M286.1 536.6h0M283.2 540.7h0M284.2 535.9h0M282.5 539.5h0M281.6 543.4h0M282.9 532.0h0M284.4 541.7h0M280.9 538.6h0M290.9 534.0h0M281.8 536.9h0M285.4 536.6h0M283.8 543.6h0M284.7 531.8h0M286.7 537.9h0M274.5 530.4h0M279.5 544.7h0M281.2 544.9h0M277.0 525.8h0M281.5 544.1h0M276.6 524.1h0M285.2 544.5h0M279.7 537.1h0M278.4 535.9h0M280.0 536.8h0M288.0 536.0h0M270.2 530.9h0M277.9 538.3h0M277.0 543.9h0M285.1 539.3h0M289.5 535.4h0M279.1 535.2h0M280.3 522.3h0M278.2 541.8h0M284.3 529.9h0M285.0 523.7h0M275.3 540.2h0M276.7 529.2h0M284.6 538.5h0M293.2 549.0h0M281.7 535.7h0M277.3 550.3h0M283.5 550.5h0M278.1 542.8h0M281.5 539.4h0M283.9 534.7h0M274.5 528.9h0M289.8 532.4h0M282.8 537.7h0M276.0 537.8h0M283.4 535.2h0M282.1 531.2h0M281.5 533.3h0M283.2 556.1h0M274.8 531.3h0M280.1 541.8h0M280.0 540.9h0M277.8 540.9h0M278.2 542.9h0M282.2 532.8h0M278.5 531.7h0M284.8 541.1h0M273.2 540.7h0M287.4 543.5h0M280.1 535.7h0M281.1 535.9h0M282.1 543.7h0M279.1 529.3h0M282.0 535.4h0M287.2 531.8h0M283.0 527.9h0M291.8 528.1h0M287.5 542.9h0M280.1 531.6h0M275.9 521.1h0M279.6 531.3h0M281.1 533.0h0M282.6 536.7h0M286.7 523.8h0M277.3 536.3h0M280.2 532.7h0M280.8 537.2h0M288.7 541.8h0M283.3 537.7h0M285.4 533.7h0M285.8 530.6h0M272.5 530.0h0M283.6 546.9h0M286.6 540.4h0M287.3 517.5h0M277.3 537.5h0M286.2 535.3h0M286.0 534.1h0M282.4 527.0h0M285.2 533.1h0M285.3 530.0h0M277.5 538.1h0M274.1 535.5h0M280.4 525.8h0M282.3 528.5h0M280.5 536.9h0M285.3 543.0h0M282.4 528.0h0M285.3 537.6h0M276.9 542.4h0M280.2 527.0h0M290.3 541.8h0M283.5 537.2h0M276.7 527.4h0M284.4 537.2h0M280.4 539.1h0M280.9 541.1h0M287.1 538.2h0M281.7 533.4h0M272.8 519.1h0M286.1 533.2h0M280.4 524.5h0M284.7 536.0h0M285.5 533.0h0M282.4 531.2h0M279.6 532.1h0M281.9 535.1h0M278.1 539.1h0M282.1 539.9h0M285.4 534.6h0M279.8 534.1h0M284.1 537.3h0M287.2 526.9h0M278.9 538.5h0M287.8 537.9h0M281.5 534.7h0M280.6 530.3h0M285.4 534.4h0M278.7 528.4h0M286.0 537.9h0M278.5 529.9h0M284.0 539.7h0M284.6 546.1h0M277.8 529.7h0M281.1 534.9h0M286.2 535.9h0M282.4 528.3h0M287.1 544.6h0M282.6 544.8h0M280.8 529.0h0M286.2 539.3h0M279.8 522.5h0M280.1 529.1h0M281.7 523.7h0M287.4 530.3h0M281.7 534.5h0M286.5 532.0h0M289.1 536.7h0M281.1 539.6h0M280.4 547.1h0M281.8 538.4h0M287.4 535.7h0M281.5 545.5h0M286.5 533.7h0M281.5 545.7h0M279.2 528.7h0M283.9 548.1h0M284.3 538.4h0M278.1 532.4h0M284.1 555.7h0M279.5 535.5h0M279.6 534.3h0M286.8 540.9h0M282.1 529.1h0M282.0 541.4h0M288.4 543.4h0M285.1 538.9h0M281.4 536.8h0M282.7 529.7h0M280.7 528.7h0M283.7 530.4h0M285.0 537.1h0M285.6 543.1h0M282.0 541.5h0M282.6 529.3h0M283.3 530.5h0M275.7 535.0h0M276.5 533.9h0M287.6 538.3h0M278.5 521.5h0M278.5 523.6h0M281.8 542.7h0M283.3 534.6h0M283.8 537.5h0M283.5 532.5h0M285.6 543.2h0M287.0 538.0h0M287.1 530.9h0M279.9 535.0h0M284.5 537.8h0M284.2 539.8h0M281.7 538.5h0M291.9 538.5h0M278.8 528.0h0M274.2 536.2h0M284.4 534.3h0M281.5 545.7h0M281.9 548.3h0M279.7 535.0h0M283.6 530.8h0M282.9 532.4h0M284.8 540.8h0M284.5 537.9h0M293.2 540.5h0M281.7 534.7h0M278.1 529.5h0M278.0 537.9h0M280.8 542.3h0M286.4 534.6h0M284.0 534.4h0M284.4 537.4h0M290.4 554.8h0M285.0 543.3h0M279.0 534.8h0M286.9 535.6h0M283.5 538.5h0M280.4 523.0h0M284.5 529.0h0M281.7 539.2h0M274.4 535.0h0M285.0 538.4h0M283.1 537.5h0M286.8 521.4h0M274.0 528.0h0" stroke="#bec2c6" stroke-width="1.60" stroke-linecap="round" fill="none"/>
<path d="M283.2 534.7h0M279.6 533.5h0M277.9 536.1h0M278.4 539.1h0M281.4 535.1h0M282.8 533.7h0M283.3 528.4h0M283.8 531.5h0M282.3 540.5h0M280.7 540.7h0M280.2 539.5h0M280.1 533.3h0M283.8 534.1h0M277.2 540.9h0M277.4 532.1h0M285.1 538.6h0M281.6 536.7h0M283.6 536.9h0M281.9 530.3h0M280.8 539.2h0M279.8 538.5h0M282.2 531.5h0M280.0 537.2h0M281.2 536.3h0M276.9 536.6h0M281.6 526.7h0M282.9 545.5h0M281.4 528.2h0M283.7 529.5h0M278.0 536.9h0M280.9 537.6h0M282.4 539.7h0M282.4 532.0h0M283.4 536.8h0M283.2 532.7h0M284.6 529.2h0M283.4 535.0h0M278.8 536.0h0M282.7 536.7h0M284.9 530.5h0M285.0 536.8h0M285.6 536.9h0M282.8 536.0h0M284.0 539.4h0M281.7 534.1h0M278.0 536.2h0M283.8 534.3h0M281.1 534.4h0M280.7 536.6h0M275.3 530.6h0M283.4 542.9h0M281.6 530.7h0M288.7 536.5h0M286.5 535.1h0M279.0 537.7h0M287.0 539.2h0M280.7 541.3h0M281.0 534.2h0M284.0 541.5h0M284.0 535.3h0M288.8 539.5h0M285.7 540.9h0M287.2 538.8h0M283.7 531.6h0M287.2 538.4h0M284.5 537.7h0M283.9 540.4h0M283.2 537.4h0M284.2 542.6h0M277.2 536.0h0M280.7 536.0h0M281.7 532.6h0M281.3 526.4h0M286.3 532.5h0M278.8 530.1h0M286.7 536.8h0M285.1 542.6h0M281.7 534.1h0M286.4 530.5h0M279.0 532.8h0M287.1 538.9h0M282.9 540.3h0M282.6 537.5h0M285.4 536.9h0M284.0 531.6h0M280.7 534.2h0M277.7 531.1h0M283.8 532.8h0M281.6 538.4h0M285.2 533.8h0M286.4 531.0h0M280.1 540.4h0M282.0 543.1h0M280.6 537.1h0M283.6 539.3h0M276.9 537.5h0M285.6 528.3h0M280.1 531.8h0M283.9 540.2h0M282.9 538.2h0M284.1 536.6h0M282.5 535.4h0M277.0 540.7h0M280.3 528.4h0M279.9 535.8h0M280.9 540.0h0M285.4 538.5h0M277.3 529.1h0M285.6 540.1h0M281.3 540.9h0M279.1 525.9h0M279.0 531.9h0M284.2 532.6h0M282.4 529.2h0M284.7 539.4h0M276.0 528.6h0M281.4 543.1h0M285.5 533.0h0M280.3 529.1h0M285.9 540.4h0M283.2 535.4h0M281.0 534.6h0M285.1 543.7h0M279.9 539.2h0M282.8 534.3h0M279.0 530.4h0M284.0 533.2h0M284.8 535.5h0M282.9 531.2h0M283.7 541.4h0M286.7 537.2h0M276.8 528.2h0M286.5 533.5h0M280.8 535.2h0M284.1 528.3h0M285.1 536.3h0M280.3 539.0h0M283.8 537.2h0M284.2 535.1h0M281.6 535.1h0M279.8 534.6h0M285.1 545.8h0M280.4 537.1h0M283.4 538.0h0M279.6 533.9h0M281.4 538.2h0M280.5 532.4h0M283.3 538.7h0M276.9 538.7h0M280.1 528.1h0M285.7 530.4h0M280.9 534.7h0M285.7 535.4h0M283.4 529.5h0M284.7 535.3h0M277.1 529.9h0M282.6 532.1h0M283.8 533.1h0M283.3 535.6h0M286.0 537.7h0M276.6 530.0h0M280.4 535.4h0M281.5 540.4h0M286.7 535.2h0M279.2 529.3h0M281.3 538.4h0M287.5 528.2h0M285.2 530.9h0M285.3 535.9h0M284.9 541.7h0M279.9 533.5h0M285.1 536.6h0M277.7 539.4h0M282.6 530.5h0M287.3 530.6h0M280.9 538.2h0M281.8 539.6h0M281.7 527.3h0M285.4 532.5h0M280.0 531.2h0M277.1 534.9h0M287.9 536.9h0M279.5 539.5h0M285.8 535.3h0M286.8 542.3h0M287.6 534.6h0M286.6 529.9h0M279.8 540.3h0M286.0 533.5h0M281.4 535.4h0M285.0 529.0h0M280.5 535.3h0M281.3 535.9h0M288.7 529.7h0M285.1 536.5h0M283.5 534.9h0M284.8 537.2h0M283.0 541.4h0M281.0 537.8h0M281.8 539.8h0M283.5 528.2h0M282.0 543.2h0M281.5 537.9h0M284.1 532.7h0M279.1 533.2h0M277.8 537.5h0M277.6 538.1h0M285.9 537.0h0M282.3 542.7h0M282.4 540.4h0M281.9 534.2h0M285.3 530.6h0M283.5 531.7h0M282.2 529.9h0M277.1 537.3h0M283.4 543.0h0M283.5 539.1h0M282.8 537.1h0M282.1 533.3h0M280.7 529.6h0M285.3 534.0h0M280.8 534.2h0M280.9 532.8h0M278.5 538.3h0M282.3 531.0h0M278.6 538.0h0M280.5 536.8h0M283.5 529.3h0M284.0 542.3h0M285.4 544.2h0M286.8 533.9h0M282.0 538.2h0M282.9 543.9h0M286.3 534.1h0M279.9 535.4h0M279.4 538.9h0M283.0 539.0h0M282.3 538.0h0M277.2 530.5h0M285.6 536.7h0M281.9 537.2h0M279.0 540.0h0M279.7 523.1h0M285.8 541.5h0M280.9 527.9h0M281.7 537.0h0M283.3 530.8h0M280.5 536.5h0M282.6 544.6h0M288.7 532.3h0M283.3 539.9h0M285.2 534.8h0M287.8 538.0h0M282.2 536.0h0M279.0 537.1h0M282.2 535.1h0M287.2 538.6h0M282.2 534.3h0M285.1 539.2h0M281.8 538.9h0M285.9 528.9h0M281.5 529.6h0M280.6 536.6h0M284.4 538.7h0M280.7 540.2h0M281.4 537.6h0M280.9 530.3h0M285.3 530.9h0M282.0 534.1h0M283.4 535.2h0M281.5 531.4h0M286.1 532.0h0M278.5 536.3h0M285.3 533.5h0M278.4 541.7h0M283.0 534.2h0M274.4 537.2h0M279.8 536.3h0M287.7 536.8h0M285.4 530.6h0" stroke="#b2b8be" stroke-width="1.70" stroke-linecap="round" fill="none"/>
<path d="M277.1 538.6h0M281.6 536.0h0M276.6 538.7h0M277.5 542.7h0M277.5 541.0h0M279.6 536.2h0M277.6 537.4h0M276.0 539.1h0M275.3 538.2h0M280.8 536.4h0M279.1 540.8h0M278.4 539.8h0M281.1 538.8h0M280.6 534.2h0M282.4 536.3h0M268.9 540.4h0M270.6 540.9h0M269.6 539.4h0M276.6 538.8h0M272.5 539.7h0M275.2 539.3h0M275.3 538.6h0M277.5 535.1h0M273.9 539.9h0M273.7 538.6h0M274.1 540.0h0M279.8 536.9h0M274.8 540.0h0M273.3 536.1h0M276.2 538.0h0M273.9 540.9h0M275.3 538.0h0M266.7 539.2h0M275.5 538.8h0M277.2 538.7h0M273.0 537.6h0M271.6 540.3h0M272.0 541.9h0M269.6 537.9h0M273.6 536.3h0M280.6 535.0h0M275.2 538.7h0M271.4 537.2h0M269.5 543.1h0M280.6 541.2h0M270.7 542.0h0M276.0 540.4h0M274.2 540.9h0M279.1 538.7h0M280.5 536.6h0M280.5 535.6h0M279.5 532.0h0M275.0 537.6h0M276.2 540.7h0M278.1 538.1h0M280.5 534.1h0M273.6 542.7h0M275.3 535.1h0M275.9 536.5h0M281.5 538.8h0M274.4 541.9h0M273.2 541.7h0M277.5 538.0h0M270.3 540.6h0M267.1 541.3h0M269.8 543.7h0M270.5 536.3h0M277.8 538.8h0M275.1 543.3h0M278.3 538.0h0M271.2 535.0h0M277.8 539.9h0M272.5 537.5h0M274.2 536.3h0M276.0 540.3h0M281.0 537.3h0M276.7 540.0h0M280.2 536.5h0M270.6 539.4h0M270.5 539.3h0M275.3 539.7h0M276.1 538.9h0M274.5 540.2h0M279.1 539.0h0M280.6 536.4h0M275.8 542.2h0M276.5 539.4h0M275.0 541.1h0M273.4 537.9h0M275.0 538.3h0M278.2 537.2h0M275.8 538.5h0M276.3 537.5h0M278.4 535.1h0M273.7 538.4h0M277.8 538.1h0M277.0 537.8h0M272.2 538.2h0M274.0 538.6h0M276.7 539.2h0M278.9 537.4h0M272.1 538.3h0M276.0 539.5h0M282.5 536.5h0M283.0 539.6h0M272.6 542.5h0M280.4 539.6h0M276.1 540.6h0M273.8 539.6h0M276.8 541.9h0M275.4 540.9h0M275.3 537.7h0M276.8 539.8h0M273.4 541.1h0M272.4 538.6h0M276.1 538.3h0M270.9 537.7h0M275.7 539.4h0M274.0 540.0h0M270.4 541.8h0M277.2 538.9h0M273.4 540.0h0M276.7 540.6h0M276.6 539.0h0M273.5 541.5h0M279.3 536.5h0M278.0 538.6h0M274.5 536.9h0M280.4 533.4h0M276.3 537.9h0" stroke="#d0203a" stroke-width="1.90" stroke-linecap="round" fill="none"/>
<path d="M292.1 528.8h0M289.8 531.1h0M290.4 528.9h0M291.2 530.4h0M291.7 528.7h0M289.3 529.3h0M287.6 530.8h0M290.9 532.3h0M288.9 530.8h0M292.2 529.3h0M289.7 530.2h0M287.6 528.5h0M292.2 529.8h0M288.9 527.8h0M290.1 532.0h0M286.5 528.9h0M292.6 532.1h0M293.0 528.4h0M290.7 528.4h0M290.6 529.1h0M290.4 532.3h0M290.2 529.4h0M289.7 530.4h0M288.4 530.6h0M291.4 532.5h0M284.3 528.8h0M286.9 532.1h0M295.3 529.3h0M290.1 532.0h0M283.7 530.7h0M282.2 531.6h0M288.2 529.4h0M290.1 528.8h0M292.1 529.5h0M291.2 534.3h0M288.7 531.8h0M287.9 532.5h0M291.8 529.8h0M292.3 532.4h0M292.7 529.4h0M289.7 532.0h0M285.9 529.5h0M290.8 530.8h0M294.4 532.3h0M290.4 530.6h0M286.4 530.2h0M290.0 529.5h0M289.8 531.0h0M287.1 529.4h0M285.7 532.7h0M286.5 527.4h0M291.2 529.3h0M291.6 529.0h0M294.7 530.4h0M289.9 530.1h0M289.3 531.5h0M294.0 528.4h0M287.1 531.5h0M291.5 526.9h0M287.6 528.5h0" stroke="#d0203a" stroke-width="1.90" stroke-linecap="round" fill="none"/>
<path d="M289.2 540.5h0M287.9 537.3h0M289.3 535.4h0M289.2 539.2h0M290.5 541.5h0M288.0 539.0h0M288.3 538.1h0M288.7 541.4h0M287.1 539.1h0M290.1 541.0h0M287.8 537.9h0M287.8 536.3h0M289.7 539.6h0M287.9 536.7h0M288.2 538.5h0M290.3 538.6h0M288.7 541.6h0M289.3 539.1h0M286.5 542.3h0M289.2 538.6h0M288.5 537.6h0M287.7 536.6h0" stroke="#d0203a" stroke-width="1.80" stroke-linecap="round" fill="none"/>
<path d="M264.0 545.0h0M262.0 547.0h0M265.0 548.5h0M259.0 550.0h0M266.0 543.0h0M268.0 546.0h0M270.0 544.5h0M295.0 528.0h0M297.0 532.0h0M294.5 534.0h0M284.0 528.0h0M278.0 533.5h0" stroke="#d0203a" stroke-width="1.80" stroke-linecap="round" fill="none"/>
</g>
<line x1="243.40" y1="533.40" x2="315.40" y2="533.40" stroke="#444" stroke-width="0.7" stroke-dasharray="1.6,1.5"/>
<line x1="282.30" y1="506.00" x2="282.30" y2="574.60" stroke="#444" stroke-width="0.7" stroke-dasharray="1.6,1.5"/>
<line x1="243.40" y1="506.40" x2="243.40" y2="575.10" stroke="#111" stroke-width="1.1"/>
<line x1="242.90" y1="574.60" x2="311.50" y2="574.60" stroke="#111" stroke-width="1.1"/>
<line x1="241.30" y1="507.70" x2="243.40" y2="507.70" stroke="#111" stroke-width="0.8"/>
<text x="237.40" y="509.90" font-size="6.1" fill="#222" text-anchor="end">4</text>
<line x1="241.30" y1="534.10" x2="243.40" y2="534.10" stroke="#111" stroke-width="0.8"/>
<text x="237.40" y="536.30" font-size="6.1" fill="#222" text-anchor="end">0</text>
<line x1="241.30" y1="560.50" x2="243.40" y2="560.50" stroke="#111" stroke-width="0.8"/>
<text x="237.40" y="562.70" font-size="6.1" fill="#222" text-anchor="end">−4</text>
<line x1="257.30" y1="574.60" x2="257.30" y2="576.80" stroke="#111" stroke-width="0.8"/>
<text x="257.30" y="585.90" font-size="6.1" fill="#222" text-anchor="middle">−2</text>
<line x1="283.20" y1="574.60" x2="283.20" y2="576.80" stroke="#111" stroke-width="0.8"/>
<text x="283.20" y="585.90" font-size="6.1" fill="#222" text-anchor="middle">0</text>
<line x1="309.10" y1="574.60" x2="309.10" y2="576.80" stroke="#111" stroke-width="0.8"/>
<text x="309.10" y="585.90" font-size="6.1" fill="#222" text-anchor="middle">2</text>
<text x="242.80" y="498.20" font-size="8.6" fill="#111" textLength="71.2" lengthAdjust="spacingAndGlyphs">TRMT5-KO + AraC</text>
<text x="253.40" y="512.80" font-size="4" fill="#d05070" textLength="9" lengthAdjust="spacingAndGlyphs" font-style="italic">P&lt;.05</text>
<text x="246.00" y="567.00" font-size="4" fill="#222" textLength="12" lengthAdjust="spacingAndGlyphs">r2 = 0.1</text>
<text x="246.00" y="572.30" font-size="4" fill="#222" textLength="21" lengthAdjust="spacingAndGlyphs">P = 7.5e-056</text>
<text x="300.00" y="567.00" font-size="4" fill="#d0203a" textLength="12" lengthAdjust="spacingAndGlyphs">n = 716</text>
<text x="300.00" y="572.30" font-size="4" fill="#e8a0b0" textLength="13" lengthAdjust="spacingAndGlyphs">n = 1673</text>
<text x="367.60" y="507.20" font-size="6.4" fill="#111" textLength="76.2" lengthAdjust="spacingAndGlyphs">Unfolded protein response</text>
<line x1="446.60" y1="504.90" x2="450.20" y2="504.90" stroke="#111" stroke-width="0.8"/>
<text x="395.10" y="514.20" font-size="6.4" fill="#111" textLength="48.7" lengthAdjust="spacingAndGlyphs">NAD metabolism</text>
<line x1="446.60" y1="511.90" x2="450.20" y2="511.90" stroke="#111" stroke-width="0.8"/>
<text x="393.00" y="521.40" font-size="6.4" fill="#111" textLength="50.8" lengthAdjust="spacingAndGlyphs">Glycolytic process</text>
<line x1="446.60" y1="519.10" x2="450.20" y2="519.10" stroke="#111" stroke-width="0.8"/>
<text x="394.50" y="528.40" font-size="6.4" fill="#111" textLength="49.3" lengthAdjust="spacingAndGlyphs">Drug metabolism</text>
<line x1="446.60" y1="526.10" x2="450.20" y2="526.10" stroke="#111" stroke-width="0.8"/>
<text x="370.30" y="535.30" font-size="6.4" fill="#111" textLength="73.5" lengthAdjust="spacingAndGlyphs">ATP generation from ADP</text>
<line x1="446.60" y1="533.00" x2="450.20" y2="533.00" stroke="#111" stroke-width="0.8"/>
<text x="354.50" y="542.10" font-size="6.4" fill="#111" textLength="89.3" lengthAdjust="spacingAndGlyphs">Cellular amino acid metabolism</text>
<line x1="446.60" y1="539.80" x2="450.20" y2="539.80" stroke="#111" stroke-width="0.8"/>
<text x="394.50" y="549.10" font-size="6.4" fill="#111" textLength="49.3" lengthAdjust="spacingAndGlyphs">Response to heat</text>
<line x1="446.60" y1="546.80" x2="450.20" y2="546.80" stroke="#111" stroke-width="0.8"/>
<text x="357.70" y="563.20" font-size="6.4" fill="#111" textLength="86.1" lengthAdjust="spacingAndGlyphs">Positive regulation chemotaxis</text>
<line x1="446.60" y1="560.90" x2="450.20" y2="560.90" stroke="#111" stroke-width="0.8"/>
<line x1="450.20" y1="501.20" x2="450.20" y2="574.00" stroke="#111" stroke-width="1.1"/>
<line x1="447.80" y1="573.50" x2="499.80" y2="573.50" stroke="#111" stroke-width="1.1"/>
<line x1="450.30" y1="573.50" x2="450.30" y2="575.80" stroke="#111" stroke-width="0.8"/>
<line x1="496.90" y1="573.50" x2="496.90" y2="575.80" stroke="#111" stroke-width="0.8"/>
<text x="450.60" y="585.20" font-size="6.3" fill="#222" text-anchor="middle">0</text>
<text x="496.90" y="585.20" font-size="6.3" fill="#222" text-anchor="middle">8</text>
<line x1="451.30" y1="549.80" x2="487.20" y2="549.80" stroke="#444" stroke-width="0.7" stroke-dasharray="1.6,1.5"/>
<circle cx="486.20" cy="505.40" r="4.30" fill="#5d8ab8" stroke="#4a78a8" stroke-width="0.4"/>
<circle cx="465.00" cy="512.20" r="3.80" fill="#5d8ab8" stroke="#4a78a8" stroke-width="0.4"/>
<circle cx="461.40" cy="519.10" r="3.90" fill="#5d8ab8" stroke="#4a78a8" stroke-width="0.4"/>
<circle cx="461.40" cy="525.90" r="1.70" fill="#5d8ab8" stroke="#4a78a8" stroke-width="0.4"/>
<circle cx="461.80" cy="532.90" r="3.50" fill="#5d8ab8" stroke="#4a78a8" stroke-width="0.4"/>
<circle cx="460.30" cy="539.90" r="1.80" fill="#5d8ab8" stroke="#4a78a8" stroke-width="0.4"/>
<circle cx="459.30" cy="547.10" r="2.60" fill="#5d8ab8" stroke="#4a78a8" stroke-width="0.4"/>
<circle cx="458.70" cy="560.40" r="9.00" fill="#e2627e" stroke="#d85472" stroke-width="0.3"/>
<text x="468.80" y="548.10" font-size="6.8" fill="#3a6ea8" textLength="31.2" lengthAdjust="spacingAndGlyphs">TRMT5-KO</text>
<text x="468.80" y="562.50" font-size="6.8" fill="#d8284a" textLength="31.2" lengthAdjust="spacingAndGlyphs">TRMT5-KO</text>
<text x="468.80" y="569.70" font-size="6.8" fill="#d8284a" textLength="19" lengthAdjust="spacingAndGlyphs">+AraC</text>
<text x="358.30" y="576.80" font-size="6.5" fill="#111" textLength="41.9" lengthAdjust="spacingAndGlyphs">GO: Processes</text>
<text x="359.20" y="586.90" font-size="6.5" fill="#111" textLength="32.3" lengthAdjust="spacingAndGlyphs">Enrichment</text>
<circle cx="398.20" cy="585.00" r="2.20" fill="#fff" stroke="#333" stroke-width="0.6"/>
<text x="398.20" y="586.20" font-size="3.2" fill="#444" text-anchor="middle">2</text>
<circle cx="409.70" cy="585.00" r="4.70" fill="#fff" stroke="#333" stroke-width="0.6"/>
<text x="409.70" y="586.60" font-size="4.4" fill="#444" text-anchor="middle">8</text>
<circle cx="427.50" cy="585.00" r="9.10" fill="#fff" stroke="#333" stroke-width="0.6"/>
<text x="427.50" y="586.60" font-size="4.4" fill="#555" text-anchor="middle">16</text>
<text x="458.8" y="598.1" font-size="7.2" fill="#222" textLength="30" lengthAdjust="spacingAndGlyphs">-Log<tspan dy="2" font-size="4.5">10</tspan><tspan dy="-2"> FDR</tspan></text>
</svg>
<svg id="bd" width="520" height="608" viewBox="0 0 520 608">
<line x1="0" y1="0.55" x2="520" y2="0.55" stroke="#454545" stroke-width="1.1"/>
<line x1="0.5" y1="0" x2="0.5" y2="608" stroke="#686868" stroke-width="1"/>
<line x1="519.25" y1="0" x2="519.25" y2="608" stroke="#555" stroke-width="1.5"/>
<line x1="0" y1="607.25" x2="520" y2="607.25" stroke="#333" stroke-width="1.5"/>
</svg></body></html>
